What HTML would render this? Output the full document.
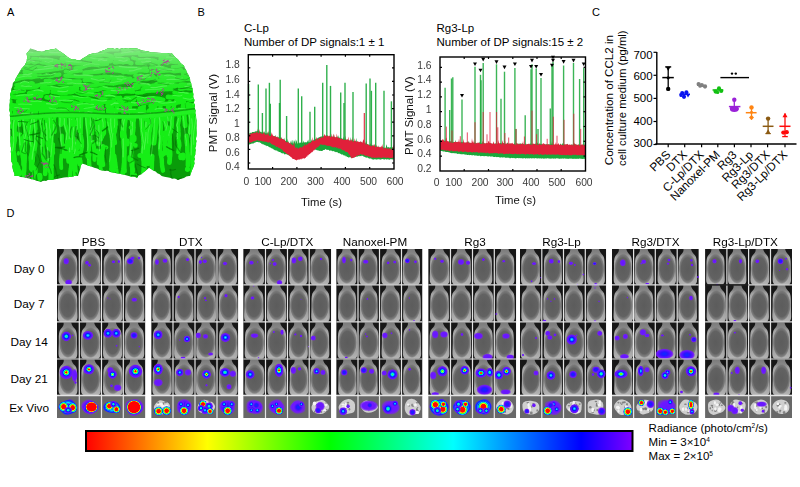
<!DOCTYPE html><html><head><meta charset="utf-8"><style>html,body{margin:0;padding:0;background:#fff;width:800px;height:487px;overflow:hidden}svg{display:block}text{font-family:"Liberation Sans",sans-serif}</style></head><body>
<svg width="800" height="487" viewBox="0 0 800 487">
<defs>
<linearGradient id="aTop" x1="0" x2="0" y1="0" y2="1"><stop offset="0.1" stop-color="#aeeaae" stop-opacity="0.8"/><stop offset="0.45" stop-color="#90e490" stop-opacity="0.45"/><stop offset="1" stop-color="#60e060" stop-opacity="0"/></linearGradient>
<radialGradient id="mb" cx="50%" cy="55%" r="60%">
<stop offset="0" stop-color="#707070"/><stop offset="0.55" stop-color="#808080"/><stop offset="0.85" stop-color="#a8a8a8"/><stop offset="1" stop-color="#c4c4c4"/>
</radialGradient>
<linearGradient id="cbar" x1="0" x2="1" y1="0" y2="0">
<stop offset="0" stop-color="#ff0000"/><stop offset="0.222" stop-color="#ffff00"/><stop offset="0.446" stop-color="#00ff00"/><stop offset="0.672" stop-color="#00ffff"/><stop offset="0.906" stop-color="#0000ff"/><stop offset="1" stop-color="#8000ff"/>
</linearGradient>
<radialGradient id="heat">
<stop offset="0" stop-color="#ff0000"/><stop offset="0.22" stop-color="#ffff00"/><stop offset="0.4" stop-color="#00ff00"/><stop offset="0.58" stop-color="#00ffff"/><stop offset="0.76" stop-color="#0000ff"/><stop offset="1" stop-color="#7000ff"/>
</radialGradient>
<radialGradient id="heat2">
<stop offset="0" stop-color="#00ff80"/><stop offset="0.3" stop-color="#00ffff"/><stop offset="0.6" stop-color="#0040ff"/><stop offset="1" stop-color="#7000ff"/>
</radialGradient>
<path id="mouse" d="M6 0 L16 0 C16 3 19 5 20 9 C21.5 14 21.5 24 21 30 C20.5 34 18 35.5 11 35.5 C4 35.5 1.5 34 1 30 C0.5 24 0.5 14 2 9 C3 5 6 3 6 0 Z"/>
</defs>
<text x="7" y="16" font-size="11" fill="#000" text-anchor="start" >A</text>
<text x="197.5" y="16" font-size="11" fill="#000" text-anchor="start" >B</text>
<text x="592" y="16" font-size="11" fill="#000" text-anchor="start" >C</text>
<text x="6.6" y="217.2" font-size="11" fill="#000" text-anchor="start" >D</text>
<path d="M30.5 48.5 Q32.7 49.8 35.2 50.0 Q37.4 51.5 40.0 51.5 Q42.9 52.4 45.3 50.5 Q48.1 50.6 50.7 49.6 Q53.5 49.7 56.0 48.6 Q57.7 50.7 60.3 51.5 Q62.8 53.3 65.3 55.1 Q67.5 57.4 70.4 58.7 Q72.8 59.9 75.5 59.4 Q77.8 60.9 80.5 60.0 Q82.6 58.5 84.8 57.2 Q87.0 56.0 89.0 54.4 Q91.7 53.6 94.5 53.0 Q97.6 53.4 100.0 51.5 Q104.4 50.8 108.0 48.3 Q110.2 48.1 112.5 48.3 Q114.8 49.9 117.0 48.3 Q119.2 49.8 121.5 48.3 Q123.8 49.2 126.0 48.3 Q128.2 49.2 130.5 48.3 Q132.8 48.3 135.0 48.3 Q137.7 48.7 140.3 49.7 Q142.8 51.0 145.7 51.0 Q148.4 51.5 151.0 52.4 Q153.6 52.6 156.2 52.6 Q158.9 52.9 161.5 52.9 Q164.1 52.8 166.8 53.1 Q169.3 53.9 172.0 53.4 Q174.6 56.8 178.0 59.5 Q180.1 63.5 184.0 65.7 Q184.4 68.1 186.0 69.8 Q186.2 72.3 188.0 73.9 Q188.4 76.2 190.0 78.0 Q189.7 80.8 191.2 83.2 Q191.2 85.9 192.4 88.3 Q192.7 91.3 193.4 94.2 Q192.4 97.4 194.5 100.0 Q193.2 102.7 195.0 105.1 Q194.0 107.8 195.5 110.2 Q194.7 112.9 196.0 115.4 Q196.0 118.0 196.5 120.5 Q196.4 123.1 196.5 125.6 Q196.3 128.2 196.5 130.8 Q196.7 133.3 196.5 135.9 Q195.3 138.4 196.5 141.0 Q195.8 143.2 196.1 145.5 Q194.6 147.7 195.7 150.0 Q195.1 152.3 195.3 154.6 Q193.6 156.7 194.9 159.1 Q193.4 161.2 194.5 163.6 Q193.7 166.8 192.2 169.8 Q191.0 172.9 190.0 176.0 Q186.5 175.6 184.0 178.0 Q180.8 178.4 178.0 180.0 Q175.6 177.8 172.5 178.7 Q169.9 177.6 167.1 177.3 Q164.3 176.8 161.6 176.0 Q160.0 173.9 157.4 173.3 Q155.9 170.9 153.2 170.5 Q151.2 169.0 149.0 167.8 Q147.1 169.6 145.0 171.2 Q142.8 172.6 141.0 174.6 Q138.0 175.1 137.0 178.0 Q134.5 176.2 131.5 176.7 Q128.7 176.1 126.0 175.3 Q123.3 174.5 120.5 174.0 Q117.9 173.6 115.4 173.0 Q112.8 172.7 110.2 172.0 Q107.9 170.3 105.1 171.0 Q102.6 170.5 100.0 170.0 Q97.3 168.2 94.2 167.8 Q91.4 166.3 88.3 165.7 Q85.2 164.6 82.0 163.6 Q80.0 166.4 80.0 169.8 Q79.0 172.9 78.0 176.0 Q75.2 175.4 72.5 176.7 Q69.8 177.1 67.1 177.3 Q64.3 177.2 61.6 178.0 Q59.0 178.4 56.5 179.0 Q53.8 179.3 51.3 180.0 Q48.4 179.0 46.1 181.0 Q43.3 180.3 41.0 182.0 Q38.7 181.1 36.2 180.7 Q34.2 178.7 31.5 179.3 Q29.1 178.6 26.7 178.0 Q23.7 177.1 20.6 177.0 Q17.7 175.2 14.4 176.0 Q14.8 173.4 13.4 171.2 Q12.7 168.8 12.3 166.4 Q13.4 163.7 11.3 161.6 Q11.3 159.0 11.1 156.4 Q11.1 153.9 10.8 151.3 Q11.8 148.7 10.6 146.2 Q10.7 143.6 10.3 141.0 Q10.6 138.4 10.3 135.9 Q10.1 133.3 10.3 130.8 Q10.2 128.2 10.3 125.6 Q11.1 123.1 10.3 120.5 Q10.2 117.9 9.8 115.2 Q10.4 112.5 9.3 110.0 Q9.8 107.5 9.5 104.9 Q10.2 102.3 9.8 99.7 Q11.4 97.2 10.0 94.6 Q11.3 91.9 11.4 88.8 Q12.9 86.1 12.9 83.0 Q15.5 81.3 15.8 78.2 Q17.2 75.9 18.6 73.5 Q20.1 71.1 21.5 68.7 Q25.2 65.9 26.6 61.5 Q27.9 57.5 26.6 53.6 Q28.7 51.2 30.5 48.5Z" fill="#0a9c0a"/>
<clipPath id="clipA"><path d="M30.5 48.5 Q32.7 49.8 35.2 50.0 Q37.4 51.5 40.0 51.5 Q42.9 52.4 45.3 50.5 Q48.1 50.6 50.7 49.6 Q53.5 49.7 56.0 48.6 Q57.7 50.7 60.3 51.5 Q62.8 53.3 65.3 55.1 Q67.5 57.4 70.4 58.7 Q72.8 59.9 75.5 59.4 Q77.8 60.9 80.5 60.0 Q82.6 58.5 84.8 57.2 Q87.0 56.0 89.0 54.4 Q91.7 53.6 94.5 53.0 Q97.6 53.4 100.0 51.5 Q104.4 50.8 108.0 48.3 Q110.2 48.1 112.5 48.3 Q114.8 49.9 117.0 48.3 Q119.2 49.8 121.5 48.3 Q123.8 49.2 126.0 48.3 Q128.2 49.2 130.5 48.3 Q132.8 48.3 135.0 48.3 Q137.7 48.7 140.3 49.7 Q142.8 51.0 145.7 51.0 Q148.4 51.5 151.0 52.4 Q153.6 52.6 156.2 52.6 Q158.9 52.9 161.5 52.9 Q164.1 52.8 166.8 53.1 Q169.3 53.9 172.0 53.4 Q174.6 56.8 178.0 59.5 Q180.1 63.5 184.0 65.7 Q184.4 68.1 186.0 69.8 Q186.2 72.3 188.0 73.9 Q188.4 76.2 190.0 78.0 Q189.7 80.8 191.2 83.2 Q191.2 85.9 192.4 88.3 Q192.7 91.3 193.4 94.2 Q192.4 97.4 194.5 100.0 Q193.2 102.7 195.0 105.1 Q194.0 107.8 195.5 110.2 Q194.7 112.9 196.0 115.4 Q196.0 118.0 196.5 120.5 Q196.4 123.1 196.5 125.6 Q196.3 128.2 196.5 130.8 Q196.7 133.3 196.5 135.9 Q195.3 138.4 196.5 141.0 Q195.8 143.2 196.1 145.5 Q194.6 147.7 195.7 150.0 Q195.1 152.3 195.3 154.6 Q193.6 156.7 194.9 159.1 Q193.4 161.2 194.5 163.6 Q193.7 166.8 192.2 169.8 Q191.0 172.9 190.0 176.0 Q186.5 175.6 184.0 178.0 Q180.8 178.4 178.0 180.0 Q175.6 177.8 172.5 178.7 Q169.9 177.6 167.1 177.3 Q164.3 176.8 161.6 176.0 Q160.0 173.9 157.4 173.3 Q155.9 170.9 153.2 170.5 Q151.2 169.0 149.0 167.8 Q147.1 169.6 145.0 171.2 Q142.8 172.6 141.0 174.6 Q138.0 175.1 137.0 178.0 Q134.5 176.2 131.5 176.7 Q128.7 176.1 126.0 175.3 Q123.3 174.5 120.5 174.0 Q117.9 173.6 115.4 173.0 Q112.8 172.7 110.2 172.0 Q107.9 170.3 105.1 171.0 Q102.6 170.5 100.0 170.0 Q97.3 168.2 94.2 167.8 Q91.4 166.3 88.3 165.7 Q85.2 164.6 82.0 163.6 Q80.0 166.4 80.0 169.8 Q79.0 172.9 78.0 176.0 Q75.2 175.4 72.5 176.7 Q69.8 177.1 67.1 177.3 Q64.3 177.2 61.6 178.0 Q59.0 178.4 56.5 179.0 Q53.8 179.3 51.3 180.0 Q48.4 179.0 46.1 181.0 Q43.3 180.3 41.0 182.0 Q38.7 181.1 36.2 180.7 Q34.2 178.7 31.5 179.3 Q29.1 178.6 26.7 178.0 Q23.7 177.1 20.6 177.0 Q17.7 175.2 14.4 176.0 Q14.8 173.4 13.4 171.2 Q12.7 168.8 12.3 166.4 Q13.4 163.7 11.3 161.6 Q11.3 159.0 11.1 156.4 Q11.1 153.9 10.8 151.3 Q11.8 148.7 10.6 146.2 Q10.7 143.6 10.3 141.0 Q10.6 138.4 10.3 135.9 Q10.1 133.3 10.3 130.8 Q10.2 128.2 10.3 125.6 Q11.1 123.1 10.3 120.5 Q10.2 117.9 9.8 115.2 Q10.4 112.5 9.3 110.0 Q9.8 107.5 9.5 104.9 Q10.2 102.3 9.8 99.7 Q11.4 97.2 10.0 94.6 Q11.3 91.9 11.4 88.8 Q12.9 86.1 12.9 83.0 Q15.5 81.3 15.8 78.2 Q17.2 75.9 18.6 73.5 Q20.1 71.1 21.5 68.7 Q25.2 65.9 26.6 61.5 Q27.9 57.5 26.6 53.6 Q28.7 51.2 30.5 48.5Z"/></clipPath>
<g clip-path="url(#clipA)">
<filter id="ablur" x="-5%" y="-5%" width="110%" height="110%"><feGaussianBlur stdDeviation="0.55"/></filter>
<g filter="url(#ablur)">
<path d="M5.0 103.9 Q4.8 108.5 6.4 112.8 Q7.2 117.5 6.3 121.7" fill="none" stroke="#16ee16" stroke-width="4.5" stroke-linecap="round" opacity="1"/>
<path d="M5.8 130.7 Q5.7 135.3 7.2 139.6 Q5.9 143.5 6.4 148.5 Q7.1 152.2 7.7 157.4" fill="none" stroke="#16ee16" stroke-width="4.5" stroke-linecap="round" opacity="1"/>
<path d="M5.3 112.8 Q5.3 117.4 5.2 121.7 Q5.1 126.6 4.7 130.7 Q4.6 135.3 6.1 139.6" fill="none" stroke="#86ff86" stroke-width="1.0" stroke-linecap="round" opacity="0.45"/>
<path d="M10.3 101.2 Q9.7 107.7 10.1 113.9 Q10.3 121.0 10.4 126.7" fill="none" stroke="#16ee16" stroke-width="4.6" stroke-linecap="round" opacity="1"/>
<path d="M11.1 139.4 Q10.3 146.7 10.5 152.1 Q10.3 158.4 11.7 164.9 Q11.6 170.6 10.5 177.6" fill="none" stroke="#16ee16" stroke-width="4.7" stroke-linecap="round" opacity="1"/>
<path d="M9.0 113.9 Q8.2 120.6 9.3 126.7 Q10.1 133.2 10.0 139.4 Q10.4 145.4 9.4 152.1" fill="none" stroke="#86ff86" stroke-width="1.0" stroke-linecap="round" opacity="0.45"/>
<path d="M15.5 107.1 Q15.1 112.4 15.6 118.1 Q15.4 122.6 14.4 129.0 Q14.5 133.9 14.8 140.0 Q13.3 144.6 13.3 151.0 Q14.5 155.7 14.7 161.9 Q14.1 167.2 14.5 172.9" fill="none" stroke="#16ee16" stroke-width="4.8" stroke-linecap="round" opacity="1"/>
<path d="M14.5 118.1 Q13.1 123.5 13.3 129.0 Q13.6 135.3 13.7 140.0 Q13.6 146.2 12.2 151.0" fill="none" stroke="#86ff86" stroke-width="1.2" stroke-linecap="round" opacity="0.45"/>
<path d="M19.9 105.0 Q19.4 110.2 18.7 115.0 Q18.8 119.2 19.6 125.0" fill="none" stroke="#16ee16" stroke-width="4.0" stroke-linecap="round" opacity="1"/>
<path d="M20.5 134.9 Q21.7 140.3 21.2 144.9 Q22.4 149.8 22.6 154.9 Q23.9 160.8 23.6 164.9" fill="none" stroke="#16ee16" stroke-width="4.8" stroke-linecap="round" opacity="1"/>
<path d="M17.6 115.0 Q18.2 119.8 18.5 125.0 Q18.7 129.9 19.4 134.9 Q19.5 139.3 20.1 144.9" fill="none" stroke="#86ff86" stroke-width="1.1" stroke-linecap="round" opacity="0.45"/>
<path d="M22.8 105.3 Q24.4 109.7 24.1 113.7 Q24.2 117.2 24.3 122.2 Q24.8 127.4 25.5 130.6 Q25.1 134.5 24.9 139.1 Q23.6 143.8 23.8 147.5 Q24.5 151.7 24.3 156.0" fill="none" stroke="#16ee16" stroke-width="4.6" stroke-linecap="round" opacity="1"/>
<path d="M23.0 113.7 Q23.1 117.4 23.2 122.2 Q24.7 126.1 24.4 130.6 Q24.4 135.7 23.8 139.1" fill="none" stroke="#86ff86" stroke-width="1.1" stroke-linecap="round" opacity="0.45"/>
<path d="M29.3 103.6 Q29.1 110.1 27.7 115.5 Q27.2 120.9 27.8 127.4 Q26.6 134.0 25.7 139.4 Q24.5 145.3 24.5 151.3 Q25.0 158.2 24.5 163.2 Q24.6 169.1 23.6 175.1" fill="none" stroke="#16ee16" stroke-width="4.5" stroke-linecap="round" opacity="1"/>
<path d="M26.6 115.5 Q26.9 121.2 26.7 127.4 Q26.3 133.8 24.6 139.4 Q23.7 146.3 23.4 151.3" fill="none" stroke="#86ff86" stroke-width="0.9" stroke-linecap="round" opacity="0.45"/>
<path d="M32.3 101.2 Q32.6 107.3 33.2 112.5 Q32.0 118.9 32.0 123.8 Q31.0 129.7 30.2 135.1 Q30.3 141.6 32.1 146.4 Q31.7 151.9 30.4 157.6 Q31.1 162.5 30.8 168.9" fill="none" stroke="#16ee16" stroke-width="3.9" stroke-linecap="round" opacity="1"/>
<path d="M32.1 112.5 Q32.5 117.2 30.9 123.8 Q30.2 129.4 29.1 135.1 Q30.4 140.9 31.0 146.4" fill="none" stroke="#86ff86" stroke-width="0.9" stroke-linecap="round" opacity="0.45"/>
<path d="M37.0 105.7 Q36.8 111.4 35.1 119.0 Q35.1 125.7 36.2 132.4 Q36.3 138.7 35.4 145.7 Q34.4 153.1 33.2 159.1 Q32.7 166.2 34.1 172.4 Q33.8 179.4 31.9 185.7" fill="none" stroke="#16ee16" stroke-width="4.0" stroke-linecap="round" opacity="1"/>
<path d="M34.0 119.0 Q34.6 126.4 35.1 132.4 Q35.5 138.3 34.3 145.7 Q32.5 152.4 32.1 159.1" fill="none" stroke="#86ff86" stroke-width="1.2" stroke-linecap="round" opacity="0.45"/>
<path d="M40.9 109.3 Q41.9 113.8 41.4 120.1 Q41.7 124.5 43.1 130.8 Q42.0 136.1 42.5 141.6 Q41.8 147.8 42.9 152.4 Q43.0 157.4 44.9 163.1 Q46.0 168.7 45.1 173.9" fill="none" stroke="#16ee16" stroke-width="4.7" stroke-linecap="round" opacity="1"/>
<path d="M40.3 120.1 Q40.7 125.5 42.0 130.8 Q42.3 136.2 41.4 141.6 Q41.1 147.0 41.8 152.4" fill="none" stroke="#86ff86" stroke-width="0.9" stroke-linecap="round" opacity="0.45"/>
<path d="M45.9 111.1 Q47.4 116.6 47.3 123.5 Q48.0 130.0 48.0 135.8 Q47.6 142.8 48.7 148.2" fill="none" stroke="#16ee16" stroke-width="4.7" stroke-linecap="round" opacity="1"/>
<path d="M49.3 160.5 Q49.6 167.6 50.9 172.9 Q50.8 179.0 51.1 185.2" fill="none" stroke="#16ee16" stroke-width="5.0" stroke-linecap="round" opacity="1"/>
<path d="M46.2 123.5 Q47.2 129.0 46.9 135.8 Q47.1 142.0 47.6 148.2 Q47.6 153.7 48.2 160.5" fill="none" stroke="#86ff86" stroke-width="1.3" stroke-linecap="round" opacity="0.45"/>
<path d="M50.6 108.7 Q49.4 111.9 49.7 116.0 Q49.2 120.2 50.6 123.3 Q50.5 126.3 51.4 130.7 Q51.2 135.2 51.2 138.0 Q51.4 141.2 50.3 145.4 Q50.7 149.9 52.6 152.7" fill="none" stroke="#16ee16" stroke-width="5.0" stroke-linecap="round" opacity="1"/>
<path d="M48.6 116.0 Q49.5 118.9 49.5 123.3 Q49.0 127.4 50.3 130.7 Q50.1 133.5 50.1 138.0" fill="none" stroke="#86ff86" stroke-width="1.1" stroke-linecap="round" opacity="0.45"/>
<path d="M56.6 107.6 Q55.6 114.6 53.8 119.8 Q55.3 125.4 54.9 132.0" fill="none" stroke="#16ee16" stroke-width="3.9" stroke-linecap="round" opacity="1"/>
<path d="M53.1 144.2 Q53.4 150.6 52.0 156.4 Q51.9 162.0 51.7 168.7 Q51.6 175.1 51.7 180.9" fill="none" stroke="#16ee16" stroke-width="4.0" stroke-linecap="round" opacity="1"/>
<path d="M52.7 119.8 Q53.9 126.9 53.8 132.0 Q52.0 137.2 52.0 144.2 Q51.5 151.3 50.9 156.4" fill="none" stroke="#86ff86" stroke-width="0.9" stroke-linecap="round" opacity="0.45"/>
<path d="M60.5 102.9 Q61.1 108.6 60.8 113.8 Q60.6 118.9 60.9 124.7" fill="none" stroke="#16ee16" stroke-width="4.8" stroke-linecap="round" opacity="1"/>
<path d="M62.0 135.5 Q61.5 140.1 62.5 146.4 Q62.4 151.3 61.2 157.2 Q60.6 161.8 61.3 168.1" fill="none" stroke="#16ee16" stroke-width="3.9" stroke-linecap="round" opacity="1"/>
<path d="M59.7 113.8 Q60.5 119.6 59.8 124.7 Q59.9 129.6 60.9 135.5 Q60.7 140.9 61.4 146.4" fill="none" stroke="#86ff86" stroke-width="1.2" stroke-linecap="round" opacity="0.45"/>
<path d="M65.2 105.3 Q65.2 109.4 65.1 114.7 Q65.3 118.4 65.3 124.1 Q66.2 127.9 68.0 133.4 Q67.5 137.2 67.3 142.8 Q66.9 147.1 68.4 152.1 Q67.9 157.0 68.5 161.5" fill="none" stroke="#16ee16" stroke-width="4.4" stroke-linecap="round" opacity="1"/>
<path d="M64.0 114.7 Q64.6 119.7 64.2 124.1 Q66.0 129.5 66.9 133.4 Q66.4 137.7 66.2 142.8" fill="none" stroke="#86ff86" stroke-width="1.1" stroke-linecap="round" opacity="0.45"/>
<path d="M68.0 101.8 Q69.8 108.8 70.2 114.5 Q71.0 121.0 70.6 127.2 Q71.2 133.9 70.3 139.9 Q70.9 145.7 70.8 152.6 Q70.1 158.3 71.3 165.4 Q70.3 170.9 69.9 178.1" fill="none" stroke="#16ee16" stroke-width="4.4" stroke-linecap="round" opacity="1"/>
<path d="M69.1 114.5 Q69.4 121.1 69.5 127.2 Q69.6 133.9 69.2 139.9 Q69.4 145.3 69.7 152.6" fill="none" stroke="#86ff86" stroke-width="1.2" stroke-linecap="round" opacity="0.45"/>
<path d="M74.2 109.0 Q73.5 114.8 72.9 119.2 Q72.9 125.1 74.6 129.4 Q73.6 133.5 73.5 139.5 Q73.6 144.0 73.1 149.7" fill="none" stroke="#16ee16" stroke-width="4.6" stroke-linecap="round" opacity="1"/>
<path d="M73.6 159.9 Q73.9 165.3 74.8 170.1" fill="none" stroke="#16ee16" stroke-width="4.5" stroke-linecap="round" opacity="1"/>
<path d="M71.8 119.2 Q72.9 123.5 73.5 129.4 Q72.9 134.4 72.4 139.5 Q73.1 143.8 72.0 149.7" fill="none" stroke="#86ff86" stroke-width="1.1" stroke-linecap="round" opacity="0.45"/>
<path d="M77.8 105.9 Q78.9 111.7 78.1 117.8 Q77.7 123.2 78.2 129.8" fill="none" stroke="#16ee16" stroke-width="4.8" stroke-linecap="round" opacity="1"/>
<path d="M76.7 141.7 Q75.7 147.8 75.7 153.6 Q74.5 159.7 74.8 165.6 Q75.9 170.8 75.3 177.5" fill="none" stroke="#16ee16" stroke-width="4.9" stroke-linecap="round" opacity="1"/>
<path d="M77.0 117.8 Q77.1 124.6 77.1 129.8 Q76.8 135.2 75.6 141.7 Q75.9 147.6 74.6 153.6" fill="none" stroke="#86ff86" stroke-width="1.2" stroke-linecap="round" opacity="0.45"/>
<path d="M81.3 100.0 Q81.9 106.3 80.8 111.7 Q81.8 117.0 81.2 123.3 Q80.8 128.9 81.0 134.9 Q82.6 140.9 82.2 146.5 Q80.8 152.1 80.1 158.1 Q80.5 163.0 81.8 169.7" fill="none" stroke="#16ee16" stroke-width="3.9" stroke-linecap="round" opacity="1"/>
<path d="M79.7 111.7 Q80.5 117.0 80.1 123.3 Q80.9 128.6 79.9 134.9 Q80.0 140.7 81.1 146.5" fill="none" stroke="#86ff86" stroke-width="0.9" stroke-linecap="round" opacity="0.45"/>
<path d="M86.5 104.5 Q87.2 111.6 86.9 118.1 Q87.1 124.1 88.3 131.8 Q89.6 137.9 89.1 145.5 Q89.0 152.0 89.0 159.1 Q89.1 166.4 90.1 172.8 Q90.7 179.1 89.3 186.4" fill="none" stroke="#16ee16" stroke-width="4.3" stroke-linecap="round" opacity="1"/>
<path d="M85.8 118.1 Q86.1 125.1 87.2 131.8 Q87.4 138.0 88.0 145.5 Q87.3 151.7 87.9 159.1" fill="none" stroke="#86ff86" stroke-width="1.1" stroke-linecap="round" opacity="0.45"/>
<path d="M91.8 106.0 Q91.0 109.5 91.3 115.0 Q92.1 119.2 91.4 124.0 Q92.4 127.9 92.4 132.9" fill="none" stroke="#16ee16" stroke-width="4.8" stroke-linecap="round" opacity="1"/>
<path d="M92.9 141.9 Q94.1 146.4 94.3 150.9 Q94.6 155.1 94.5 159.9" fill="none" stroke="#16ee16" stroke-width="4.1" stroke-linecap="round" opacity="1"/>
<path d="M90.2 115.0 Q90.3 120.0 90.3 124.0 Q91.5 127.6 91.3 132.9 Q92.3 137.2 91.8 141.9" fill="none" stroke="#86ff86" stroke-width="1.1" stroke-linecap="round" opacity="0.45"/>
<path d="M96.4 105.2 Q96.6 109.5 95.0 114.9 Q94.9 119.0 96.3 124.5 Q97.1 129.7 97.7 134.2 Q99.0 139.5 98.5 143.9" fill="none" stroke="#16ee16" stroke-width="4.8" stroke-linecap="round" opacity="1"/>
<path d="M99.5 153.6 Q99.8 158.3 99.0 163.2" fill="none" stroke="#16ee16" stroke-width="4.6" stroke-linecap="round" opacity="1"/>
<path d="M93.9 114.9 Q93.6 120.3 95.2 124.5 Q95.4 130.2 96.6 134.2 Q97.3 138.7 97.4 143.9" fill="none" stroke="#86ff86" stroke-width="1.1" stroke-linecap="round" opacity="0.45"/>
<path d="M98.3 103.0 Q98.0 108.6 98.5 115.0 Q100.0 120.5 100.0 127.0 Q100.4 133.1 100.6 139.0" fill="none" stroke="#16ee16" stroke-width="5.0" stroke-linecap="round" opacity="1"/>
<path d="M100.5 150.9 Q100.3 157.2 100.5 162.9 Q100.3 168.3 101.8 174.9" fill="none" stroke="#16ee16" stroke-width="3.8" stroke-linecap="round" opacity="1"/>
<path d="M97.4 115.0 Q98.5 120.2 98.9 127.0 Q98.7 132.8 99.5 139.0 Q99.2 144.9 99.4 150.9" fill="none" stroke="#86ff86" stroke-width="1.2" stroke-linecap="round" opacity="0.45"/>
<path d="M102.6 108.6 Q103.4 112.9 103.1 118.0 Q104.6 122.7 104.2 127.4 Q102.6 131.6 102.2 136.8" fill="none" stroke="#16ee16" stroke-width="4.1" stroke-linecap="round" opacity="1"/>
<path d="M103.0 146.2 Q102.9 151.8 102.1 155.6 Q101.9 160.1 103.2 165.0" fill="none" stroke="#16ee16" stroke-width="4.3" stroke-linecap="round" opacity="1"/>
<path d="M102.0 118.0 Q103.5 122.0 103.1 127.4 Q101.2 131.3 101.1 136.8 Q101.3 142.3 101.9 146.2" fill="none" stroke="#86ff86" stroke-width="0.9" stroke-linecap="round" opacity="0.45"/>
<path d="M108.3 108.8 Q107.9 114.4 108.8 122.0 Q109.7 128.3 111.5 135.2 Q112.6 141.0 111.9 148.4 Q112.4 154.4 111.0 161.5 Q111.9 168.8 113.4 174.7 Q114.1 181.2 113.6 187.9" fill="none" stroke="#16ee16" stroke-width="4.2" stroke-linecap="round" opacity="1"/>
<path d="M107.7 122.0 Q109.0 128.3 110.4 135.2 Q111.4 141.1 110.8 148.4 Q110.1 155.7 109.9 161.5" fill="none" stroke="#86ff86" stroke-width="0.8" stroke-linecap="round" opacity="0.45"/>
<path d="M111.4 104.9 Q112.6 110.4 111.9 117.6 Q112.7 124.4 112.5 130.4 Q114.7 136.3 115.1 143.1" fill="none" stroke="#16ee16" stroke-width="4.2" stroke-linecap="round" opacity="1"/>
<path d="M114.1 155.8 Q115.1 162.8 115.8 168.5 Q117.1 174.0 116.7 181.2" fill="none" stroke="#16ee16" stroke-width="4.7" stroke-linecap="round" opacity="1"/>
<path d="M110.8 117.6 Q110.3 124.4 111.4 130.4 Q112.7 137.3 114.0 143.1 Q114.1 150.3 113.0 155.8" fill="none" stroke="#86ff86" stroke-width="1.2" stroke-linecap="round" opacity="0.45"/>
<path d="M118.3 101.6 Q117.1 107.1 115.8 113.0 Q115.1 118.5 115.8 124.4 Q114.9 130.0 113.5 135.7 Q113.2 140.7 112.7 147.1 Q112.8 152.0 113.2 158.5 Q111.4 164.4 111.3 169.9" fill="none" stroke="#16ee16" stroke-width="4.5" stroke-linecap="round" opacity="1"/>
<path d="M114.7 113.0 Q114.6 119.6 114.7 124.4 Q114.5 129.4 112.4 135.7 Q111.3 141.3 111.6 147.1" fill="none" stroke="#86ff86" stroke-width="0.9" stroke-linecap="round" opacity="0.45"/>
<path d="M122.8 102.8 Q122.6 108.1 123.4 114.2 Q123.9 119.3 122.8 125.7 Q122.1 130.9 123.3 137.1 Q123.0 142.9 123.8 148.5 Q124.4 153.4 124.3 160.0 Q124.5 164.7 124.9 171.4" fill="none" stroke="#16ee16" stroke-width="4.0" stroke-linecap="round" opacity="1"/>
<path d="M122.3 114.2 Q122.7 119.4 121.7 125.7 Q121.8 131.1 122.2 137.1 Q123.2 142.3 122.7 148.5" fill="none" stroke="#86ff86" stroke-width="0.8" stroke-linecap="round" opacity="0.45"/>
<path d="M125.0 107.2 Q124.9 112.5 125.4 119.6 Q124.4 124.9 124.0 132.1 Q125.2 137.4 124.4 144.5 Q124.8 151.6 124.2 156.9 Q124.4 163.8 123.4 169.4 Q122.1 175.3 121.2 181.8" fill="none" stroke="#16ee16" stroke-width="4.7" stroke-linecap="round" opacity="1"/>
<path d="M124.3 119.6 Q122.8 124.9 122.9 132.1 Q123.1 138.3 123.3 144.5 Q123.1 151.3 123.1 156.9" fill="none" stroke="#86ff86" stroke-width="1.1" stroke-linecap="round" opacity="0.45"/>
<path d="M130.4 101.9 Q129.4 108.2 130.4 113.4 Q132.0 119.5 132.4 125.0 Q132.0 130.6 131.9 136.5 Q132.7 142.2 131.6 148.1 Q130.7 153.1 131.1 159.7 Q131.2 165.6 133.0 171.2" fill="none" stroke="#16ee16" stroke-width="4.3" stroke-linecap="round" opacity="1"/>
<path d="M129.3 113.4 Q130.8 118.5 131.3 125.0 Q130.2 130.0 130.8 136.5 Q131.3 142.1 130.5 148.1" fill="none" stroke="#86ff86" stroke-width="1.0" stroke-linecap="round" opacity="0.45"/>
<path d="M134.7 111.1 Q134.9 115.8 133.6 122.4 Q134.1 127.6 133.0 133.6 Q132.8 139.5 132.1 144.8 Q131.3 150.9 132.2 156.1 Q132.7 162.5 132.4 167.3 Q132.4 173.6 131.9 178.5" fill="none" stroke="#16ee16" stroke-width="4.2" stroke-linecap="round" opacity="1"/>
<path d="M132.5 122.4 Q132.5 127.4 131.9 133.6 Q131.4 139.3 131.0 144.8 Q130.1 151.3 131.1 156.1" fill="none" stroke="#86ff86" stroke-width="1.1" stroke-linecap="round" opacity="0.45"/>
<path d="M139.9 104.3 Q140.3 109.3 139.3 113.2 Q140.9 117.2 141.9 122.0 Q141.8 126.2 142.7 130.8 Q142.7 135.3 143.3 139.7 Q143.1 143.1 144.2 148.5 Q145.2 152.9 144.3 157.4" fill="none" stroke="#16ee16" stroke-width="4.3" stroke-linecap="round" opacity="1"/>
<path d="M138.2 113.2 Q139.7 118.2 140.8 122.0 Q141.9 127.0 141.6 130.8 Q141.7 134.4 142.2 139.7" fill="none" stroke="#86ff86" stroke-width="1.0" stroke-linecap="round" opacity="0.45"/>
<path d="M143.7 104.4 Q143.3 111.3 142.2 117.1 Q141.4 122.6 142.5 129.9 Q143.6 136.6 144.4 142.6 Q142.9 148.3 142.9 155.4 Q144.2 161.3 143.9 168.1 Q143.8 175.1 142.4 180.9" fill="none" stroke="#16ee16" stroke-width="4.9" stroke-linecap="round" opacity="1"/>
<path d="M141.1 117.1 Q141.7 123.0 141.4 129.9 Q143.0 136.5 143.3 142.6 Q142.0 148.7 141.8 155.4" fill="none" stroke="#86ff86" stroke-width="1.1" stroke-linecap="round" opacity="0.45"/>
<path d="M149.0 110.9 Q147.7 115.3 147.3 120.5 Q147.0 125.8 147.1 130.1 Q146.4 135.4 146.7 139.6 Q145.1 145.2 145.3 149.2 Q146.1 153.9 145.1 158.8 Q144.7 164.0 144.2 168.4" fill="none" stroke="#16ee16" stroke-width="4.6" stroke-linecap="round" opacity="1"/>
<path d="M146.2 120.5 Q145.6 125.3 146.0 130.1 Q146.5 135.3 145.6 139.6 Q144.6 144.2 144.2 149.2" fill="none" stroke="#86ff86" stroke-width="1.2" stroke-linecap="round" opacity="0.45"/>
<path d="M151.5 101.8 Q152.3 107.4 151.5 112.1 Q152.0 116.7 151.5 122.5 Q149.9 127.9 149.1 132.8 Q148.8 137.7 148.8 143.2 Q147.2 148.3 147.5 153.6 Q148.1 157.8 148.2 163.9" fill="none" stroke="#16ee16" stroke-width="4.9" stroke-linecap="round" opacity="1"/>
<path d="M150.4 112.1 Q150.6 116.9 150.4 122.5 Q149.3 127.7 148.0 132.8 Q147.7 137.6 147.7 143.2" fill="none" stroke="#86ff86" stroke-width="0.8" stroke-linecap="round" opacity="0.45"/>
<path d="M154.9 104.4 Q154.6 111.5 156.1 117.3 Q156.4 123.9 155.2 130.2 Q154.7 136.9 153.9 143.1" fill="none" stroke="#16ee16" stroke-width="5.0" stroke-linecap="round" opacity="1"/>
<path d="M152.3 156.0 Q152.0 161.8 151.8 168.9 Q151.1 174.5 152.4 181.8" fill="none" stroke="#16ee16" stroke-width="4.4" stroke-linecap="round" opacity="1"/>
<path d="M155.0 117.3 Q153.9 123.1 154.1 130.2 Q154.3 135.9 152.8 143.1 Q152.2 149.9 151.2 156.0" fill="none" stroke="#86ff86" stroke-width="0.8" stroke-linecap="round" opacity="0.45"/>
<path d="M160.5 105.0 Q160.4 110.2 160.2 115.9 Q160.4 122.2 160.9 126.9 Q160.1 132.6 161.0 137.8 Q159.9 144.3 160.2 148.8 Q160.5 154.5 161.8 159.7 Q161.7 166.0 163.0 170.7" fill="none" stroke="#16ee16" stroke-width="4.4" stroke-linecap="round" opacity="1"/>
<path d="M159.1 115.9 Q160.3 120.9 159.8 126.9 Q159.0 132.6 159.9 137.8 Q159.8 143.7 159.1 148.8" fill="none" stroke="#86ff86" stroke-width="1.3" stroke-linecap="round" opacity="0.45"/>
<path d="M165.9 111.7 Q165.2 116.1 164.9 120.2 Q165.6 125.1 166.7 128.7 Q167.6 133.9 166.8 137.2" fill="none" stroke="#16ee16" stroke-width="4.0" stroke-linecap="round" opacity="1"/>
<path d="M169.4 145.6 Q169.8 149.8 170.1 154.1 Q169.8 157.4 169.4 162.6" fill="none" stroke="#16ee16" stroke-width="4.8" stroke-linecap="round" opacity="1"/>
<path d="M163.8 120.2 Q165.6 123.9 165.6 128.7 Q166.4 133.5 165.7 137.2 Q166.8 141.6 168.3 145.6" fill="none" stroke="#86ff86" stroke-width="0.8" stroke-linecap="round" opacity="0.45"/>
<path d="M169.8 102.1 Q168.0 106.5 167.9 110.6 Q168.2 115.5 169.1 119.1" fill="none" stroke="#16ee16" stroke-width="4.7" stroke-linecap="round" opacity="1"/>
<path d="M167.6 127.6 Q167.2 131.0 165.2 136.1 Q165.7 141.2 164.7 144.7 Q165.8 148.1 165.2 153.2" fill="none" stroke="#16ee16" stroke-width="4.8" stroke-linecap="round" opacity="1"/>
<path d="M166.8 110.6 Q166.6 113.9 168.0 119.1 Q167.9 124.0 166.5 127.6 Q165.6 132.5 164.1 136.1" fill="none" stroke="#86ff86" stroke-width="0.9" stroke-linecap="round" opacity="0.45"/>
<path d="M174.7 103.4 Q173.2 108.7 172.5 112.1 Q172.3 117.2 172.0 120.8 Q172.0 124.2 171.4 129.5 Q170.4 133.7 169.7 138.2 Q170.1 142.3 169.4 146.9 Q169.5 151.3 168.7 155.6" fill="none" stroke="#16ee16" stroke-width="4.2" stroke-linecap="round" opacity="1"/>
<path d="M171.4 112.1 Q171.9 115.7 170.9 120.8 Q171.3 124.5 170.3 129.5 Q168.5 133.3 168.6 138.2" fill="none" stroke="#86ff86" stroke-width="0.9" stroke-linecap="round" opacity="0.45"/>
<path d="M178.7 111.7 Q178.5 115.5 179.4 118.5 Q178.7 121.1 178.0 125.2 Q178.6 127.7 178.7 131.9 Q179.1 135.7 178.3 138.7 Q179.5 142.3 179.5 145.4 Q178.5 148.6 178.1 152.2" fill="none" stroke="#16ee16" stroke-width="4.1" stroke-linecap="round" opacity="1"/>
<path d="M178.3 118.5 Q178.4 121.0 176.9 125.2 Q178.0 127.6 177.6 131.9 Q176.8 134.8 177.2 138.7" fill="none" stroke="#86ff86" stroke-width="1.0" stroke-linecap="round" opacity="0.45"/>
<path d="M183.0 106.0 Q183.6 111.1 184.3 116.0 Q184.4 120.9 185.2 125.9" fill="none" stroke="#16ee16" stroke-width="4.8" stroke-linecap="round" opacity="1"/>
<path d="M186.5 135.8 Q186.4 140.3 187.3 145.8 Q187.2 151.0 187.8 155.7 Q188.2 160.7 187.9 165.7" fill="none" stroke="#16ee16" stroke-width="4.6" stroke-linecap="round" opacity="1"/>
<path d="M183.2 116.0 Q184.2 121.6 184.1 125.9 Q185.0 131.3 185.4 135.8 Q186.8 141.3 186.2 145.8" fill="none" stroke="#86ff86" stroke-width="0.9" stroke-linecap="round" opacity="0.45"/>
<path d="M187.6 104.2 Q188.7 108.3 190.2 113.6 Q190.9 117.5 191.2 123.0 Q190.0 127.4 190.1 132.3" fill="none" stroke="#16ee16" stroke-width="4.7" stroke-linecap="round" opacity="1"/>
<path d="M192.2 141.7 Q191.9 147.0 192.0 151.1 Q192.8 155.8 192.8 160.5" fill="none" stroke="#16ee16" stroke-width="3.8" stroke-linecap="round" opacity="1"/>
<path d="M189.1 113.6 Q189.5 117.5 190.1 123.0 Q189.7 127.5 189.0 132.3 Q190.5 137.9 191.1 141.7" fill="none" stroke="#86ff86" stroke-width="1.1" stroke-linecap="round" opacity="0.45"/>
<path d="M191.8 106.9 Q192.0 113.2 192.8 118.9 Q192.2 124.7 193.1 130.9 Q193.4 137.3 192.7 142.9 Q192.7 148.4 192.3 154.9 Q192.3 160.9 192.5 167.0 Q192.5 172.8 192.0 179.0" fill="none" stroke="#16ee16" stroke-width="4.3" stroke-linecap="round" opacity="1"/>
<path d="M191.7 118.9 Q192.7 124.3 192.0 130.9 Q192.1 137.5 191.6 142.9 Q191.2 148.9 191.2 154.9" fill="none" stroke="#86ff86" stroke-width="1.1" stroke-linecap="round" opacity="0.45"/>
<path d="M198.1 100.5 Q198.6 106.4 197.8 112.3 Q196.8 119.1 196.1 124.2 Q194.7 130.5 194.5 136.0 Q194.5 142.5 194.9 147.9 Q193.8 154.8 194.2 159.7 Q193.7 164.7 193.9 171.6" fill="none" stroke="#16ee16" stroke-width="4.6" stroke-linecap="round" opacity="1"/>
<path d="M196.7 112.3 Q195.7 117.3 195.0 124.2 Q194.0 129.9 193.4 136.0 Q194.0 141.6 193.8 147.9" fill="none" stroke="#86ff86" stroke-width="0.9" stroke-linecap="round" opacity="0.45"/>
<ellipse cx="50.6" cy="166.1" rx="3.4" ry="3.3" fill="#16ee16"/>
<ellipse cx="49.6" cy="170.5" rx="2.3" ry="2.5" fill="#16ee16"/>
<ellipse cx="32.6" cy="168.7" rx="3.1" ry="3.6" fill="#16ee16"/>
<ellipse cx="97.1" cy="153.0" rx="2.0" ry="4.4" fill="#16ee16"/>
<ellipse cx="75.1" cy="158.6" rx="3.1" ry="4.0" fill="#16ee16"/>
<ellipse cx="96.9" cy="133.5" rx="2.6" ry="2.3" fill="#16ee16"/>
<ellipse cx="166.4" cy="137.9" rx="3.2" ry="2.7" fill="#16ee16"/>
<ellipse cx="79.5" cy="130.5" rx="2.4" ry="2.5" fill="#16ee16"/>
<ellipse cx="8.5" cy="164.7" rx="2.1" ry="2.6" fill="#16ee16"/>
<ellipse cx="65.3" cy="147.0" rx="2.4" ry="3.6" fill="#16ee16"/>
<ellipse cx="133.3" cy="138.5" rx="3.4" ry="4.1" fill="#16ee16"/>
<ellipse cx="18.8" cy="172.4" rx="3.3" ry="4.0" fill="#16ee16"/>
<ellipse cx="34.7" cy="172.7" rx="2.8" ry="2.0" fill="#16ee16"/>
<ellipse cx="10.2" cy="181.5" rx="2.8" ry="2.6" fill="#16ee16"/>
<ellipse cx="27.3" cy="122.4" rx="2.0" ry="3.9" fill="#16ee16"/>
<ellipse cx="73.8" cy="123.1" rx="3.3" ry="4.0" fill="#16ee16"/>
<ellipse cx="39.9" cy="177.1" rx="2.7" ry="4.0" fill="#16ee16"/>
<ellipse cx="135.0" cy="177.3" rx="3.1" ry="4.1" fill="#16ee16"/>
<ellipse cx="45.5" cy="162.6" rx="2.6" ry="3.9" fill="#16ee16"/>
<ellipse cx="91.3" cy="176.4" rx="2.6" ry="2.7" fill="#16ee16"/>
<ellipse cx="52.5" cy="122.2" rx="2.5" ry="2.1" fill="#16ee16"/>
<ellipse cx="96.7" cy="122.5" rx="2.5" ry="3.2" fill="#16ee16"/>
<ellipse cx="110.5" cy="175.0" rx="1.5" ry="4.1" fill="#16ee16"/>
<ellipse cx="96.9" cy="153.1" rx="2.8" ry="4.1" fill="#16ee16"/>
<ellipse cx="79.2" cy="142.6" rx="3.4" ry="2.2" fill="#16ee16"/>
<ellipse cx="129.0" cy="158.4" rx="1.6" ry="3.5" fill="#16ee16"/>
<ellipse cx="137.7" cy="180.0" rx="2.2" ry="4.5" fill="#16ee16"/>
<ellipse cx="105.0" cy="147.4" rx="3.3" ry="2.1" fill="#16ee16"/>
<ellipse cx="144.5" cy="157.6" rx="2.2" ry="4.2" fill="#16ee16"/>
<ellipse cx="77.6" cy="146.6" rx="2.6" ry="3.9" fill="#16ee16"/>
<ellipse cx="48.0" cy="143.8" rx="2.3" ry="3.4" fill="#16ee16"/>
<ellipse cx="165.1" cy="133.4" rx="3.2" ry="3.0" fill="#16ee16"/>
<ellipse cx="103.7" cy="131.8" rx="2.5" ry="4.4" fill="#16ee16"/>
<ellipse cx="132.4" cy="169.8" rx="2.2" ry="2.8" fill="#16ee16"/>
<ellipse cx="64.9" cy="154.8" rx="2.8" ry="4.0" fill="#16ee16"/>
<ellipse cx="15.6" cy="164.8" rx="3.3" ry="3.4" fill="#16ee16"/>
<ellipse cx="17.4" cy="133.9" rx="1.5" ry="2.5" fill="#16ee16"/>
<ellipse cx="183.1" cy="156.4" rx="2.8" ry="4.0" fill="#16ee16"/>
<ellipse cx="180.9" cy="156.7" rx="2.7" ry="3.6" fill="#16ee16"/>
<ellipse cx="140.3" cy="155.5" rx="2.9" ry="2.5" fill="#16ee16"/>
<ellipse cx="134.7" cy="145.4" rx="3.0" ry="2.3" fill="#16ee16"/>
<ellipse cx="42.4" cy="114.7" rx="3.0" ry="4.3" fill="#16ee16"/>
<ellipse cx="132.6" cy="138.9" rx="3.1" ry="4.0" fill="#16ee16"/>
<ellipse cx="114.8" cy="130.8" rx="2.1" ry="3.1" fill="#16ee16"/>
<ellipse cx="68.5" cy="143.4" rx="2.8" ry="4.3" fill="#16ee16"/>
<ellipse cx="18.4" cy="153.4" rx="1.6" ry="2.3" fill="#16ee16"/>
<ellipse cx="162.0" cy="154.0" rx="3.3" ry="3.1" fill="#16ee16"/>
<ellipse cx="10.7" cy="140.3" rx="2.7" ry="4.3" fill="#16ee16"/>
<ellipse cx="194.3" cy="146.7" rx="2.3" ry="2.3" fill="#16ee16"/>
<ellipse cx="130.5" cy="127.5" rx="1.8" ry="2.0" fill="#16ee16"/>
<ellipse cx="8.9" cy="161.9" rx="1.7" ry="4.4" fill="#16ee16"/>
<ellipse cx="24.7" cy="175.5" rx="1.8" ry="2.0" fill="#16ee16"/>
<ellipse cx="144.7" cy="129.7" rx="3.0" ry="2.5" fill="#16ee16"/>
<ellipse cx="17.5" cy="168.5" rx="2.9" ry="4.1" fill="#16ee16"/>
<ellipse cx="146.6" cy="118.2" rx="2.8" ry="3.8" fill="#16ee16"/>
<ellipse cx="95.5" cy="180.1" rx="2.0" ry="4.4" fill="#16ee16"/>
<ellipse cx="144.3" cy="112.8" rx="1.5" ry="3.6" fill="#16ee16"/>
<ellipse cx="163.3" cy="117.8" rx="2.1" ry="3.8" fill="#16ee16"/>
<ellipse cx="39.5" cy="174.9" rx="2.5" ry="2.1" fill="#16ee16"/>
<ellipse cx="77.8" cy="154.0" rx="2.4" ry="3.7" fill="#16ee16"/>
<ellipse cx="35.5" cy="170.2" rx="2.2" ry="3.6" fill="#16ee16"/>
<ellipse cx="127.6" cy="142.5" rx="2.3" ry="4.0" fill="#16ee16"/>
<ellipse cx="187.5" cy="169.3" rx="2.6" ry="2.7" fill="#16ee16"/>
<ellipse cx="19.5" cy="183.1" rx="2.9" ry="4.1" fill="#16ee16"/>
<ellipse cx="71.1" cy="156.2" rx="3.5" ry="4.1" fill="#16ee16"/>
<ellipse cx="122.2" cy="134.5" rx="2.4" ry="4.2" fill="#16ee16"/>
<ellipse cx="79.6" cy="162.0" rx="2.7" ry="4.2" fill="#16ee16"/>
<ellipse cx="161.4" cy="132.7" rx="1.5" ry="2.7" fill="#16ee16"/>
<ellipse cx="88.3" cy="154.8" rx="3.1" ry="4.2" fill="#16ee16"/>
<ellipse cx="16.0" cy="172.8" rx="3.1" ry="4.2" fill="#16ee16"/>
<path d="M57.8 147.9 Q63.3 148.8 67.1 150.3" fill="none" stroke="#006a00" stroke-width="1.3" stroke-linecap="round" opacity="0.7"/>
<path d="M108.8 111.4 Q114.1 109.6 117.8 109.0" fill="none" stroke="#006a00" stroke-width="1.4" stroke-linecap="round" opacity="0.7"/>
<path d="M131.3 150.5 Q135.5 149.9 138.7 148.2" fill="none" stroke="#006a00" stroke-width="1.1" stroke-linecap="round" opacity="0.7"/>
<path d="M24.0 139.5 Q28.6 141.4 33.0 141.7" fill="none" stroke="#006a00" stroke-width="1.0" stroke-linecap="round" opacity="0.7"/>
<path d="M103.0 171.4 Q106.1 171.1 110.4 172.1" fill="none" stroke="#006a00" stroke-width="1.0" stroke-linecap="round" opacity="0.7"/>
<path d="M74.0 157.6 Q77.2 156.3 81.9 156.8" fill="none" stroke="#006a00" stroke-width="1.2" stroke-linecap="round" opacity="0.7"/>
<path d="M76.1 179.8 Q78.2 180.5 81.6 180.8" fill="none" stroke="#006a00" stroke-width="1.4" stroke-linecap="round" opacity="0.7"/>
<path d="M102.5 130.9 Q105.8 129.0 107.6 127.1" fill="none" stroke="#006a00" stroke-width="1.5" stroke-linecap="round" opacity="0.7"/>
<path d="M55.6 147.5 Q60.6 147.9 64.5 146.9" fill="none" stroke="#006a00" stroke-width="1.5" stroke-linecap="round" opacity="0.7"/>
<path d="M54.2 177.3 Q56.0 175.2 59.4 174.9" fill="none" stroke="#006a00" stroke-width="1.0" stroke-linecap="round" opacity="0.7"/>
<path d="M166.5 146.8 Q169.2 148.8 173.8 150.4" fill="none" stroke="#006a00" stroke-width="1.4" stroke-linecap="round" opacity="0.7"/>
<path d="M29.8 134.8 Q35.0 134.7 39.6 132.9" fill="none" stroke="#006a00" stroke-width="1.2" stroke-linecap="round" opacity="0.7"/>
<path d="M79.5 155.2 Q84.2 153.3 86.8 152.5" fill="none" stroke="#006a00" stroke-width="1.5" stroke-linecap="round" opacity="0.7"/>
<path d="M54.6 107.9 Q58.6 108.6 61.3 111.1" fill="none" stroke="#006a00" stroke-width="1.4" stroke-linecap="round" opacity="0.7"/>
<path d="M137.1 164.0 Q140.6 166.4 145.4 167.9" fill="none" stroke="#006a00" stroke-width="0.9" stroke-linecap="round" opacity="0.7"/>
<path d="M131.2 175.5 Q133.7 175.5 137.7 176.2" fill="none" stroke="#006a00" stroke-width="1.4" stroke-linecap="round" opacity="0.7"/>
<path d="M30.6 124.3 Q33.6 123.3 38.0 121.6" fill="none" stroke="#006a00" stroke-width="1.0" stroke-linecap="round" opacity="0.7"/>
<path d="M138.5 105.9 Q141.0 105.0 144.5 102.2" fill="none" stroke="#006a00" stroke-width="1.5" stroke-linecap="round" opacity="0.7"/>
<path d="M169.7 170.0 Q173.5 170.5 175.4 169.6" fill="none" stroke="#006a00" stroke-width="1.0" stroke-linecap="round" opacity="0.7"/>
<path d="M90.3 152.1 Q93.9 152.7 97.0 154.7" fill="none" stroke="#006a00" stroke-width="1.2" stroke-linecap="round" opacity="0.7"/>
<path d="M18.3 121.6 Q23.3 121.4 26.9 122.1" fill="none" stroke="#006a00" stroke-width="1.0" stroke-linecap="round" opacity="0.7"/>
<path d="M36.3 135.9 Q38.8 137.2 42.7 138.6" fill="none" stroke="#006a00" stroke-width="1.1" stroke-linecap="round" opacity="0.7"/>
<path d="M172.4 128.9 Q176.0 131.1 177.9 132.7" fill="none" stroke="#006a00" stroke-width="0.9" stroke-linecap="round" opacity="0.7"/>
<path d="M94.9 120.8 Q97.8 120.9 101.3 118.9" fill="none" stroke="#006a00" stroke-width="1.0" stroke-linecap="round" opacity="0.7"/>
<path d="M176.4 179.9 Q178.2 179.5 181.9 178.2" fill="none" stroke="#006a00" stroke-width="1.4" stroke-linecap="round" opacity="0.7"/>
<path d="M5.9 50.6 Q9.9 49.5 15.2 48.6 Q20.8 47.3 24.6 47.1 Q29.4 45.7 34.0 45.7 Q38.0 46.6 43.4 46.3" fill="none" stroke="#16ee16" stroke-width="4.3" stroke-linecap="round" opacity="1"/>
<path d="M15.2 47.3 Q19.3 45.7 24.6 45.8 Q28.5 45.3 34.0 44.4" fill="none" stroke="#86ff86" stroke-width="1.2" stroke-linecap="round" opacity="0.45"/>
<path d="M46.8 50.2 Q49.9 50.0 52.0 50.1 Q55.0 49.1 57.1 49.9 Q60.3 49.2 62.3 49.1 Q65.5 49.2 67.4 48.0" fill="none" stroke="#16ee16" stroke-width="3.7" stroke-linecap="round" opacity="1"/>
<path d="M52.0 48.8 Q53.6 49.5 57.1 48.6 Q59.6 48.9 62.3 47.8" fill="none" stroke="#86ff86" stroke-width="1.0" stroke-linecap="round" opacity="0.45"/>
<path d="M69.7 49.7 Q71.9 49.7 74.4 49.7 Q75.9 50.5 79.0 50.5 Q81.9 51.6 83.6 51.3 Q85.5 51.3 88.2 50.5" fill="none" stroke="#16ee16" stroke-width="4.3" stroke-linecap="round" opacity="1"/>
<path d="M74.4 48.4 Q77.2 47.9 79.0 49.2 Q82.0 50.5 83.6 50.0" fill="none" stroke="#86ff86" stroke-width="1.0" stroke-linecap="round" opacity="0.45"/>
<path d="M91.7 50.1 Q94.5 50.2 98.3 49.1 Q100.6 49.3 104.8 51.0 Q108.5 49.7 111.4 49.6 Q113.7 49.8 118.0 49.6" fill="none" stroke="#16ee16" stroke-width="3.7" stroke-linecap="round" opacity="1"/>
<path d="M98.3 47.8 Q101.6 49.2 104.8 49.7 Q107.3 49.8 111.4 48.3" fill="none" stroke="#86ff86" stroke-width="1.1" stroke-linecap="round" opacity="0.45"/>
<path d="M122.6 50.0 Q124.7 50.5 126.4 49.7 Q127.5 49.4 130.1 48.9 Q132.5 47.9 133.9 48.2 Q136.4 49.2 137.7 48.4" fill="none" stroke="#16ee16" stroke-width="3.8" stroke-linecap="round" opacity="1"/>
<path d="M126.4 48.4 Q128.1 48.6 130.1 47.6 Q132.1 47.0 133.9 46.9" fill="none" stroke="#86ff86" stroke-width="1.0" stroke-linecap="round" opacity="0.45"/>
<path d="M143.4 49.5 Q148.1 50.1 151.5 49.4 Q154.7 49.3 159.7 49.2 Q164.7 50.5 167.9 50.0 Q171.4 49.5 176.0 49.3" fill="none" stroke="#16ee16" stroke-width="4.9" stroke-linecap="round" opacity="1"/>
<path d="M151.5 48.1 Q155.3 48.1 159.7 47.9 Q162.9 48.2 167.9 48.7" fill="none" stroke="#86ff86" stroke-width="1.1" stroke-linecap="round" opacity="0.45"/>
<path d="M179.5 50.9 Q182.1 49.7 183.2 50.2 Q185.3 49.8 186.8 50.2 Q189.0 49.3 190.4 49.3 Q192.3 50.2 194.0 49.4" fill="none" stroke="#16ee16" stroke-width="4.8" stroke-linecap="round" opacity="1"/>
<path d="M183.2 48.9 Q184.5 49.0 186.8 48.9 Q188.5 49.4 190.4 48.0" fill="none" stroke="#86ff86" stroke-width="1.1" stroke-linecap="round" opacity="0.45"/>
<path d="M196.5 49.2 Q199.2 49.1 201.8 50.4 Q203.7 50.1 207.1 51.3 Q209.4 50.8 212.5 50.6 Q214.7 49.9 217.8 50.3" fill="none" stroke="#16ee16" stroke-width="4.3" stroke-linecap="round" opacity="1"/>
<path d="M201.8 49.1 Q204.6 50.2 207.1 50.0 Q210.0 49.8 212.5 49.3" fill="none" stroke="#86ff86" stroke-width="0.8" stroke-linecap="round" opacity="0.45"/>
<path d="M14.2 54.3 Q17.1 54.4 20.5 54.1 Q22.6 53.7 26.7 53.8 Q30.6 53.3 33.0 53.8 Q36.2 53.8 39.3 53.8" fill="none" stroke="#16ee16" stroke-width="4.3" stroke-linecap="round" opacity="1"/>
<path d="M20.5 52.8 Q24.6 52.3 26.7 52.5 Q30.4 51.8 33.0 52.5" fill="none" stroke="#86ff86" stroke-width="0.9" stroke-linecap="round" opacity="0.45"/>
<path d="M40.6 53.2 Q45.9 53.9 49.3 53.7 Q53.0 53.4 58.1 53.7 Q62.1 54.3 66.8 54.2 Q71.4 54.2 75.5 52.8" fill="none" stroke="#16ee16" stroke-width="3.9" stroke-linecap="round" opacity="1"/>
<path d="M49.3 52.4 Q53.7 52.9 58.1 52.4 Q62.9 53.2 66.8 52.9" fill="none" stroke="#86ff86" stroke-width="1.2" stroke-linecap="round" opacity="0.45"/>
<path d="M78.9 54.9 Q83.0 55.3 87.1 53.7 Q91.3 54.5 95.3 55.6 Q100.0 55.7 103.5 54.3 Q107.8 55.0 111.7 56.3" fill="none" stroke="#16ee16" stroke-width="4.4" stroke-linecap="round" opacity="1"/>
<path d="M87.1 52.4 Q91.1 53.8 95.3 54.3 Q99.0 53.5 103.5 53.0" fill="none" stroke="#86ff86" stroke-width="1.0" stroke-linecap="round" opacity="0.45"/>
<path d="M115.5 54.7 Q117.7 54.7 121.3 54.5 Q124.4 53.2 127.1 53.6 Q130.9 53.1 132.9 53.2 Q136.5 53.5 138.7 52.5" fill="none" stroke="#16ee16" stroke-width="4.0" stroke-linecap="round" opacity="1"/>
<path d="M121.3 53.2 Q123.6 52.6 127.1 52.3 Q130.8 51.1 132.9 51.9" fill="none" stroke="#86ff86" stroke-width="1.3" stroke-linecap="round" opacity="0.45"/>
<path d="M140.0 54.9 Q143.8 54.6 146.9 54.6 Q150.0 54.6 153.7 54.1 Q156.9 55.5 160.6 55.1 Q164.4 54.6 167.5 54.1" fill="none" stroke="#16ee16" stroke-width="4.3" stroke-linecap="round" opacity="1"/>
<path d="M146.9 53.3 Q150.1 52.9 153.7 52.8 Q157.3 53.5 160.6 53.8" fill="none" stroke="#86ff86" stroke-width="0.8" stroke-linecap="round" opacity="0.45"/>
<path d="M172.9 54.0 Q176.9 53.8 182.2 54.3 Q187.8 55.3 191.5 55.0 Q196.2 53.6 200.8 53.7 Q206.2 54.2 210.1 54.0" fill="none" stroke="#16ee16" stroke-width="4.7" stroke-linecap="round" opacity="1"/>
<path d="M182.2 53.0 Q187.8 54.1 191.5 53.7 Q196.0 52.4 200.8 52.4" fill="none" stroke="#86ff86" stroke-width="1.2" stroke-linecap="round" opacity="0.45"/>
<path d="M10.1 58.9 Q12.2 59.2 14.7 58.5 Q16.7 58.4 19.4 57.6 Q20.7 57.7 24.0 58.5 Q27.0 58.2 28.6 57.5" fill="none" stroke="#16ee16" stroke-width="3.7" stroke-linecap="round" opacity="1"/>
<path d="M14.7 57.2 Q16.4 56.7 19.4 56.3 Q21.8 56.3 24.0 57.2" fill="none" stroke="#86ff86" stroke-width="1.1" stroke-linecap="round" opacity="0.45"/>
<path d="M32.8 58.7 Q35.4 58.3 39.5 59.2 Q42.9 60.0 46.2 59.4 Q49.8 60.5 52.9 60.3 Q55.4 60.3 59.6 62.3" fill="none" stroke="#16ee16" stroke-width="3.7" stroke-linecap="round" opacity="1"/>
<path d="M39.5 57.9 Q42.5 58.5 46.2 58.1 Q49.3 57.9 52.9 59.0" fill="none" stroke="#86ff86" stroke-width="1.2" stroke-linecap="round" opacity="0.45"/>
<path d="M61.9 58.8 Q64.1 59.6 66.0 58.7 Q68.0 59.2 70.1 59.3 Q71.7 58.5 74.2 59.6 Q77.1 60.1 78.3 59.3" fill="none" stroke="#16ee16" stroke-width="4.8" stroke-linecap="round" opacity="1"/>
<path d="M66.0 57.4 Q68.9 58.3 70.1 58.0 Q71.8 58.3 74.2 58.3" fill="none" stroke="#86ff86" stroke-width="1.0" stroke-linecap="round" opacity="0.45"/>
<path d="M84.1 58.1 Q87.3 59.2 90.6 59.1 Q93.3 59.1 97.1 60.4 Q100.0 59.7 103.5 60.1 Q107.7 60.2 110.0 61.0" fill="none" stroke="#16ee16" stroke-width="4.8" stroke-linecap="round" opacity="1"/>
<path d="M90.6 57.8 Q93.1 58.5 97.1 59.1 Q100.1 58.8 103.5 58.8" fill="none" stroke="#86ff86" stroke-width="1.1" stroke-linecap="round" opacity="0.45"/>
<path d="M111.3 58.3 Q113.8 58.0 115.6 58.4 Q117.0 58.9 119.8 58.6 Q121.1 58.4 124.1 59.2 Q126.9 58.5 128.3 59.4" fill="none" stroke="#16ee16" stroke-width="3.6" stroke-linecap="round" opacity="1"/>
<path d="M115.6 57.1 Q118.4 57.8 119.8 57.3 Q121.3 57.3 124.1 57.9" fill="none" stroke="#86ff86" stroke-width="1.0" stroke-linecap="round" opacity="0.45"/>
<path d="M132.9 58.0 Q136.2 58.6 138.7 60.1 Q142.4 60.2 144.4 59.9 Q147.1 59.4 150.2 60.0 Q153.3 59.9 156.0 61.0" fill="none" stroke="#16ee16" stroke-width="3.8" stroke-linecap="round" opacity="1"/>
<path d="M138.7 58.8 Q140.8 58.7 144.4 58.6 Q147.4 58.2 150.2 58.7" fill="none" stroke="#86ff86" stroke-width="1.2" stroke-linecap="round" opacity="0.45"/>
<path d="M160.8 58.7 Q163.4 58.9 166.6 58.4 Q168.7 58.8 172.4 58.8 Q175.1 58.6 178.2 58.4 Q180.7 57.8 184.1 58.8" fill="none" stroke="#16ee16" stroke-width="4.8" stroke-linecap="round" opacity="1"/>
<path d="M166.6 57.1 Q169.0 56.6 172.4 57.5 Q175.8 56.9 178.2 57.1" fill="none" stroke="#86ff86" stroke-width="1.0" stroke-linecap="round" opacity="0.45"/>
<path d="M187.1 59.4 Q191.9 59.3 196.0 59.9 Q200.3 59.8 205.0 59.0 Q209.9 59.0 213.9 59.9 Q219.1 59.7 222.9 60.0" fill="none" stroke="#16ee16" stroke-width="4.6" stroke-linecap="round" opacity="1"/>
<path d="M196.0 58.6 Q199.9 57.4 205.0 57.7 Q210.3 58.7 213.9 58.6" fill="none" stroke="#86ff86" stroke-width="1.1" stroke-linecap="round" opacity="0.45"/>
<path d="M0.8 62.1 Q3.7 62.1 5.3 61.9 Q7.9 60.9 9.7 60.9 Q11.9 61.4 14.2 61.1 Q16.2 60.3 18.7 61.4" fill="none" stroke="#16ee16" stroke-width="3.9" stroke-linecap="round" opacity="1"/>
<path d="M5.3 60.6 Q8.1 59.7 9.7 59.6 Q11.1 60.4 14.2 59.8" fill="none" stroke="#86ff86" stroke-width="1.2" stroke-linecap="round" opacity="0.45"/>
<path d="M22.7 61.7 Q25.0 62.0 26.5 62.8 Q28.9 62.8 30.3 61.4 Q31.7 61.2 34.1 62.6 Q36.9 62.2 37.9 62.0" fill="none" stroke="#16ee16" stroke-width="3.7" stroke-linecap="round" opacity="1"/>
<path d="M26.5 61.5 Q28.8 61.3 30.3 60.1 Q32.8 61.0 34.1 61.3" fill="none" stroke="#86ff86" stroke-width="1.3" stroke-linecap="round" opacity="0.45"/>
<path d="M41.1 62.3 Q43.4 63.1 45.0 62.7 Q46.4 63.3 48.8 63.7 Q51.6 63.2 52.6 62.3 Q54.6 62.5 56.4 63.7" fill="none" stroke="#16ee16" stroke-width="3.7" stroke-linecap="round" opacity="1"/>
<path d="M45.0 61.4 Q46.6 61.7 48.8 62.4 Q50.1 61.3 52.6 61.0" fill="none" stroke="#86ff86" stroke-width="0.8" stroke-linecap="round" opacity="0.45"/>
<path d="M58.1 61.9 Q61.6 62.9 65.9 62.3 Q69.0 62.8 73.6 63.1 Q77.1 63.8 81.3 63.3 Q85.3 64.5 89.1 64.6" fill="none" stroke="#16ee16" stroke-width="4.1" stroke-linecap="round" opacity="1"/>
<path d="M65.9 61.0 Q70.1 61.6 73.6 61.8 Q77.4 62.4 81.3 62.0" fill="none" stroke="#86ff86" stroke-width="0.9" stroke-linecap="round" opacity="0.45"/>
<path d="M94.2 62.2 Q96.2 61.1 98.4 61.7 Q100.2 61.3 102.6 61.2 Q104.4 60.6 106.8 61.4 Q108.0 60.2 111.0 61.0" fill="none" stroke="#16ee16" stroke-width="4.6" stroke-linecap="round" opacity="1"/>
<path d="M98.4 60.4 Q101.0 59.3 102.6 59.9 Q105.1 60.9 106.8 60.1" fill="none" stroke="#86ff86" stroke-width="1.3" stroke-linecap="round" opacity="0.45"/>
<path d="M114.8 62.3 Q117.1 62.9 119.0 61.8 Q121.3 61.7 123.1 62.5 Q124.7 61.3 127.3 61.4 Q128.4 62.9 131.4 63.2" fill="none" stroke="#16ee16" stroke-width="4.5" stroke-linecap="round" opacity="1"/>
<path d="M119.0 60.5 Q120.6 60.2 123.1 61.2 Q125.5 61.4 127.3 60.1" fill="none" stroke="#86ff86" stroke-width="1.2" stroke-linecap="round" opacity="0.45"/>
<path d="M137.0 63.1 Q139.0 63.3 141.6 63.2 Q143.5 63.6 146.1 62.7 Q147.8 61.8 150.6 62.7 Q153.0 63.8 155.1 64.3" fill="none" stroke="#16ee16" stroke-width="4.0" stroke-linecap="round" opacity="1"/>
<path d="M141.6 61.9 Q144.2 62.5 146.1 61.4 Q149.2 61.4 150.6 61.4" fill="none" stroke="#86ff86" stroke-width="1.2" stroke-linecap="round" opacity="0.45"/>
<path d="M158.6 62.6 Q160.0 61.1 163.0 61.4 Q165.1 61.3 167.5 62.4 Q170.1 60.8 171.9 61.1 Q174.8 62.0 176.4 61.5" fill="none" stroke="#16ee16" stroke-width="5.0" stroke-linecap="round" opacity="1"/>
<path d="M163.0 60.1 Q165.1 60.2 167.5 61.1 Q170.0 60.5 171.9 59.8" fill="none" stroke="#86ff86" stroke-width="1.2" stroke-linecap="round" opacity="0.45"/>
<path d="M179.5 62.8 Q182.4 62.6 185.0 63.0 Q187.2 62.2 190.5 63.1 Q192.9 62.2 196.1 61.5 Q199.8 62.4 201.6 61.7" fill="none" stroke="#16ee16" stroke-width="4.2" stroke-linecap="round" opacity="1"/>
<path d="M185.0 61.7 Q188.7 62.7 190.5 61.8 Q193.5 61.6 196.1 60.2" fill="none" stroke="#86ff86" stroke-width="1.2" stroke-linecap="round" opacity="0.45"/>
<path d="M12.2 68.1 Q13.9 67.1 17.5 67.3 Q20.5 67.4 22.7 67.7 Q24.6 67.7 28.0 67.1 Q30.4 67.3 33.3 67.2" fill="none" stroke="#16ee16" stroke-width="4.8" stroke-linecap="round" opacity="1"/>
<path d="M17.5 66.0 Q20.2 66.3 22.7 66.4 Q25.2 65.3 28.0 65.8" fill="none" stroke="#86ff86" stroke-width="1.0" stroke-linecap="round" opacity="0.45"/>
<path d="M35.2 66.4 Q39.6 67.3 44.1 68.0 Q47.9 67.6 52.9 66.9 Q56.5 66.8 61.7 66.7 Q66.3 66.3 70.6 67.7" fill="none" stroke="#16ee16" stroke-width="4.0" stroke-linecap="round" opacity="1"/>
<path d="M44.1 66.7 Q47.6 66.0 52.9 65.6 Q58.0 65.6 61.7 65.4" fill="none" stroke="#86ff86" stroke-width="1.0" stroke-linecap="round" opacity="0.45"/>
<path d="M75.1 68.2 Q80.1 67.7 83.2 66.9 Q87.8 65.2 91.2 64.9 Q95.8 64.4 99.3 65.6 Q102.8 64.6 107.3 64.0" fill="none" stroke="#16ee16" stroke-width="3.8" stroke-linecap="round" opacity="1"/>
<path d="M83.2 65.6 Q87.4 64.0 91.2 63.6 Q94.9 64.4 99.3 64.3" fill="none" stroke="#86ff86" stroke-width="0.8" stroke-linecap="round" opacity="0.45"/>
<path d="M110.4 67.9 Q114.5 68.3 119.3 67.6 Q124.1 68.7 128.1 68.6 Q131.8 68.4 136.9 68.7 Q141.8 69.0 145.8 67.6" fill="none" stroke="#16ee16" stroke-width="4.6" stroke-linecap="round" opacity="1"/>
<path d="M119.3 66.3 Q122.8 67.0 128.1 67.3 Q131.7 67.4 136.9 67.4" fill="none" stroke="#86ff86" stroke-width="1.2" stroke-linecap="round" opacity="0.45"/>
<path d="M150.8 67.6 Q152.1 66.4 155.0 67.1 Q156.3 67.9 159.1 67.4 Q160.6 68.0 163.3 68.4 Q165.0 69.4 167.5 69.6" fill="none" stroke="#16ee16" stroke-width="4.4" stroke-linecap="round" opacity="1"/>
<path d="M155.0 65.8 Q156.3 66.7 159.1 66.1 Q161.3 67.0 163.3 67.1" fill="none" stroke="#86ff86" stroke-width="1.0" stroke-linecap="round" opacity="0.45"/>
<path d="M172.5 66.9 Q176.5 66.8 181.7 65.4 Q186.7 65.0 190.9 65.1 Q195.5 64.2 200.1 64.7 Q205.4 63.9 209.3 63.5" fill="none" stroke="#16ee16" stroke-width="3.6" stroke-linecap="round" opacity="1"/>
<path d="M181.7 64.1 Q186.5 63.1 190.9 63.8 Q195.2 63.0 200.1 63.4" fill="none" stroke="#86ff86" stroke-width="1.2" stroke-linecap="round" opacity="0.45"/>
<path d="M0.9 71.8 Q2.8 70.8 5.4 71.8 Q7.6 72.5 9.9 71.3 Q11.3 70.5 14.4 71.1 Q17.0 70.2 18.9 70.2" fill="none" stroke="#16ee16" stroke-width="4.4" stroke-linecap="round" opacity="1"/>
<path d="M5.4 70.5 Q7.7 69.8 9.9 70.0 Q12.3 69.9 14.4 69.8" fill="none" stroke="#86ff86" stroke-width="0.9" stroke-linecap="round" opacity="0.45"/>
<path d="M24.7 71.9 Q29.2 71.2 34.2 71.3 Q39.5 71.6 43.6 70.5 Q49.2 70.2 53.1 69.2 Q57.4 69.1 62.5 67.9" fill="none" stroke="#16ee16" stroke-width="4.5" stroke-linecap="round" opacity="1"/>
<path d="M34.2 70.0 Q38.9 69.9 43.6 69.2 Q48.1 68.6 53.1 67.9" fill="none" stroke="#86ff86" stroke-width="1.2" stroke-linecap="round" opacity="0.45"/>
<path d="M65.6 71.5 Q67.2 71.3 69.4 72.7 Q70.4 72.8 73.3 71.5 Q75.1 71.2 77.2 71.1 Q79.2 70.5 81.0 70.7" fill="none" stroke="#16ee16" stroke-width="3.9" stroke-linecap="round" opacity="1"/>
<path d="M69.4 71.4 Q70.5 70.4 73.3 70.2 Q74.8 70.5 77.2 69.8" fill="none" stroke="#86ff86" stroke-width="0.9" stroke-linecap="round" opacity="0.45"/>
<path d="M84.8 72.7 Q89.1 72.7 93.9 71.6 Q98.3 71.7 103.0 70.3 Q106.7 70.2 112.2 70.1 Q117.5 69.9 121.3 70.6" fill="none" stroke="#16ee16" stroke-width="5.0" stroke-linecap="round" opacity="1"/>
<path d="M93.9 70.3 Q97.5 69.0 103.0 69.0 Q107.1 69.3 112.2 68.8" fill="none" stroke="#86ff86" stroke-width="0.9" stroke-linecap="round" opacity="0.45"/>
<path d="M123.4 72.0 Q126.5 71.2 129.3 72.1 Q132.8 72.5 135.2 71.3 Q137.8 69.9 141.1 69.9 Q143.4 70.3 147.0 70.6" fill="none" stroke="#16ee16" stroke-width="4.9" stroke-linecap="round" opacity="1"/>
<path d="M129.3 70.8 Q132.5 71.2 135.2 70.0 Q137.5 69.0 141.1 68.6" fill="none" stroke="#86ff86" stroke-width="1.2" stroke-linecap="round" opacity="0.45"/>
<path d="M151.7 72.2 Q155.1 71.7 159.1 71.3 Q163.0 70.5 166.5 70.6 Q170.1 69.9 173.9 71.2 Q178.4 70.8 181.3 70.2" fill="none" stroke="#16ee16" stroke-width="4.5" stroke-linecap="round" opacity="1"/>
<path d="M159.1 70.0 Q161.9 69.9 166.5 69.3 Q170.6 69.2 173.9 69.9" fill="none" stroke="#86ff86" stroke-width="1.3" stroke-linecap="round" opacity="0.45"/>
<path d="M182.7 72.4 Q185.1 71.8 187.2 70.6 Q189.6 70.8 191.6 71.7 Q194.3 70.6 196.1 70.5 Q198.7 71.0 200.5 70.4" fill="none" stroke="#16ee16" stroke-width="4.4" stroke-linecap="round" opacity="1"/>
<path d="M187.2 69.3 Q189.0 70.4 191.6 70.4 Q194.8 69.7 196.1 69.2" fill="none" stroke="#86ff86" stroke-width="1.2" stroke-linecap="round" opacity="0.45"/>
<path d="M18.8 76.3 Q21.5 75.4 23.1 76.2 Q24.3 75.3 27.4 75.9 Q28.7 75.2 31.7 74.6 Q33.9 74.3 36.0 75.3" fill="none" stroke="#16ee16" stroke-width="3.9" stroke-linecap="round" opacity="1"/>
<path d="M23.1 74.9 Q25.0 74.0 27.4 74.6 Q28.9 74.4 31.7 73.3" fill="none" stroke="#86ff86" stroke-width="1.3" stroke-linecap="round" opacity="0.45"/>
<path d="M41.6 76.9 Q44.4 76.0 46.1 75.3 Q47.9 76.6 50.5 76.3 Q52.0 76.0 55.0 74.8 Q56.4 75.0 59.5 74.6" fill="none" stroke="#16ee16" stroke-width="4.1" stroke-linecap="round" opacity="1"/>
<path d="M46.1 74.0 Q49.0 73.6 50.5 75.0 Q52.9 74.1 55.0 73.5" fill="none" stroke="#86ff86" stroke-width="1.0" stroke-linecap="round" opacity="0.45"/>
<path d="M65.1 75.8 Q70.2 76.3 74.2 76.1 Q78.4 77.3 83.4 76.4 Q87.4 76.9 92.6 77.1 Q96.5 77.7 101.8 76.9" fill="none" stroke="#16ee16" stroke-width="3.9" stroke-linecap="round" opacity="1"/>
<path d="M74.2 74.8 Q78.4 75.5 83.4 75.1 Q88.6 75.0 92.6 75.8" fill="none" stroke="#86ff86" stroke-width="1.2" stroke-linecap="round" opacity="0.45"/>
<path d="M104.4 75.7 Q107.0 77.3 110.8 77.3 Q113.8 78.1 117.2 77.8 Q121.2 77.3 123.7 78.1 Q127.6 79.5 130.1 78.9" fill="none" stroke="#16ee16" stroke-width="4.8" stroke-linecap="round" opacity="1"/>
<path d="M110.8 76.0 Q113.1 75.5 117.2 76.5 Q121.4 75.6 123.7 76.8" fill="none" stroke="#86ff86" stroke-width="0.9" stroke-linecap="round" opacity="0.45"/>
<path d="M135.6 75.6 Q138.3 76.5 140.0 75.9 Q143.2 75.7 144.4 77.2 Q146.1 77.3 148.8 76.3 Q151.4 75.7 153.2 77.0" fill="none" stroke="#16ee16" stroke-width="4.9" stroke-linecap="round" opacity="1"/>
<path d="M140.0 74.6 Q141.7 75.1 144.4 75.9 Q145.8 74.5 148.8 75.0" fill="none" stroke="#86ff86" stroke-width="1.1" stroke-linecap="round" opacity="0.45"/>
<path d="M159.2 75.6 Q161.2 76.7 164.6 76.8 Q167.3 75.9 170.0 76.6 Q172.4 77.1 175.4 77.7 Q178.9 77.4 180.8 77.7" fill="none" stroke="#16ee16" stroke-width="4.6" stroke-linecap="round" opacity="1"/>
<path d="M164.6 75.5 Q168.2 76.2 170.0 75.3 Q173.2 75.4 175.4 76.4" fill="none" stroke="#86ff86" stroke-width="0.9" stroke-linecap="round" opacity="0.45"/>
<path d="M182.7 75.4 Q185.6 76.0 187.8 75.9 Q190.4 75.6 192.9 75.1 Q195.8 76.0 197.9 74.9 Q201.2 74.9 203.0 74.0" fill="none" stroke="#16ee16" stroke-width="3.6" stroke-linecap="round" opacity="1"/>
<path d="M187.8 74.6 Q189.9 74.0 192.9 73.8 Q196.3 73.5 197.9 73.6" fill="none" stroke="#86ff86" stroke-width="1.0" stroke-linecap="round" opacity="0.45"/>
<path d="M2.9 80.9 Q7.0 79.9 12.4 80.5 Q17.8 79.8 21.8 78.0 Q27.4 76.9 31.3 77.6 Q36.5 76.4 40.8 76.0" fill="none" stroke="#16ee16" stroke-width="3.9" stroke-linecap="round" opacity="1"/>
<path d="M12.4 79.2 Q17.2 77.6 21.8 76.7 Q27.5 75.5 31.3 76.3" fill="none" stroke="#86ff86" stroke-width="1.1" stroke-linecap="round" opacity="0.45"/>
<path d="M45.6 80.9 Q50.3 81.1 54.2 81.7 Q58.5 81.2 62.8 80.2 Q67.5 80.3 71.4 81.1 Q76.0 81.3 80.0 81.3" fill="none" stroke="#16ee16" stroke-width="4.1" stroke-linecap="round" opacity="1"/>
<path d="M54.2 80.4 Q58.7 79.2 62.8 78.9 Q67.9 79.3 71.4 79.8" fill="none" stroke="#86ff86" stroke-width="0.9" stroke-linecap="round" opacity="0.45"/>
<path d="M84.6 80.2 Q88.6 79.6 91.3 80.0 Q93.9 81.4 97.9 81.5 Q101.1 81.4 104.5 80.7 Q108.5 81.4 111.2 80.6" fill="none" stroke="#16ee16" stroke-width="4.3" stroke-linecap="round" opacity="1"/>
<path d="M91.3 78.7 Q93.7 79.2 97.9 80.2 Q101.9 80.4 104.5 79.4" fill="none" stroke="#86ff86" stroke-width="1.2" stroke-linecap="round" opacity="0.45"/>
<path d="M112.8 79.9 Q114.8 81.1 117.2 80.2 Q119.8 80.4 121.6 80.8 Q123.8 81.0 126.1 80.0 Q128.8 79.1 130.5 79.6" fill="none" stroke="#16ee16" stroke-width="3.7" stroke-linecap="round" opacity="1"/>
<path d="M117.2 78.9 Q119.2 79.2 121.6 79.5 Q123.3 78.8 126.1 78.7" fill="none" stroke="#86ff86" stroke-width="1.1" stroke-linecap="round" opacity="0.45"/>
<path d="M133.2 80.1 Q135.7 79.7 139.0 80.2 Q142.5 78.5 144.8 78.5 Q147.9 79.0 150.5 78.1 Q152.8 78.1 156.3 78.5" fill="none" stroke="#16ee16" stroke-width="4.0" stroke-linecap="round" opacity="1"/>
<path d="M139.0 78.9 Q142.1 77.8 144.8 77.2 Q146.7 76.9 150.5 76.8" fill="none" stroke="#86ff86" stroke-width="1.2" stroke-linecap="round" opacity="0.45"/>
<path d="M159.2 80.5 Q163.9 80.0 166.9 80.6 Q171.8 81.0 174.7 80.6 Q178.3 80.3 182.5 79.3 Q186.0 78.3 190.3 79.0" fill="none" stroke="#16ee16" stroke-width="4.4" stroke-linecap="round" opacity="1"/>
<path d="M166.9 79.3 Q170.6 79.4 174.7 79.3 Q178.6 79.4 182.5 78.0" fill="none" stroke="#86ff86" stroke-width="1.2" stroke-linecap="round" opacity="0.45"/>
<path d="M195.0 80.7 Q196.8 80.7 198.7 80.7 Q200.6 81.8 202.4 81.6 Q204.5 81.7 206.0 80.8 Q207.6 80.0 209.7 81.0" fill="none" stroke="#16ee16" stroke-width="4.8" stroke-linecap="round" opacity="1"/>
<path d="M198.7 79.4 Q200.6 80.4 202.4 80.3 Q204.7 79.1 206.0 79.5" fill="none" stroke="#86ff86" stroke-width="1.1" stroke-linecap="round" opacity="0.45"/>
<path d="M16.3 85.1 Q17.5 85.1 20.5 84.4 Q22.4 83.8 24.6 82.9 Q27.6 84.0 28.7 83.8 Q31.5 82.9 32.8 83.4" fill="none" stroke="#16ee16" stroke-width="4.3" stroke-linecap="round" opacity="1"/>
<path d="M20.5 83.1 Q22.6 81.4 24.6 81.6 Q27.6 81.6 28.7 82.5" fill="none" stroke="#86ff86" stroke-width="1.0" stroke-linecap="round" opacity="0.45"/>
<path d="M35.1 85.4 Q38.5 85.5 40.5 84.4 Q43.9 83.7 45.9 84.0 Q48.0 82.9 51.2 83.5 Q54.0 82.8 56.6 82.5" fill="none" stroke="#16ee16" stroke-width="4.0" stroke-linecap="round" opacity="1"/>
<path d="M40.5 83.1 Q43.1 83.1 45.9 82.7 Q48.3 83.1 51.2 82.2" fill="none" stroke="#86ff86" stroke-width="1.0" stroke-linecap="round" opacity="0.45"/>
<path d="M58.6 83.7 Q62.7 84.7 67.6 84.4 Q71.7 85.1 76.6 85.0 Q81.8 85.1 85.7 84.8 Q90.1 85.9 94.7 85.3" fill="none" stroke="#16ee16" stroke-width="4.1" stroke-linecap="round" opacity="1"/>
<path d="M67.6 83.1 Q72.9 82.5 76.6 83.7 Q81.0 83.9 85.7 83.5" fill="none" stroke="#86ff86" stroke-width="1.0" stroke-linecap="round" opacity="0.45"/>
<path d="M95.9 84.8 Q100.6 84.3 104.6 83.1 Q108.5 82.8 113.3 83.7 Q118.3 82.2 122.0 82.1 Q127.1 81.3 130.6 81.7" fill="none" stroke="#16ee16" stroke-width="4.3" stroke-linecap="round" opacity="1"/>
<path d="M104.6 81.8 Q108.1 82.7 113.3 82.4 Q118.5 81.4 122.0 80.8" fill="none" stroke="#86ff86" stroke-width="0.9" stroke-linecap="round" opacity="0.45"/>
<path d="M134.9 85.0 Q137.0 84.2 140.0 84.4 Q142.7 84.2 145.0 84.7 Q147.7 84.9 150.1 86.5 Q153.4 85.7 155.1 85.7" fill="none" stroke="#16ee16" stroke-width="4.8" stroke-linecap="round" opacity="1"/>
<path d="M140.0 83.1 Q141.8 83.9 145.0 83.4 Q148.5 84.1 150.1 85.2" fill="none" stroke="#86ff86" stroke-width="1.2" stroke-linecap="round" opacity="0.45"/>
<path d="M156.3 84.1 Q159.5 83.7 162.1 84.9 Q165.6 83.8 167.8 84.2 Q171.6 85.7 173.6 85.2 Q177.4 85.6 179.4 85.9" fill="none" stroke="#16ee16" stroke-width="4.2" stroke-linecap="round" opacity="1"/>
<path d="M162.1 83.6 Q164.6 83.8 167.8 82.9 Q170.7 84.2 173.6 83.9" fill="none" stroke="#86ff86" stroke-width="0.9" stroke-linecap="round" opacity="0.45"/>
<path d="M180.9 84.8 Q184.8 84.5 187.3 85.3 Q191.3 84.2 193.7 84.9 Q197.1 86.2 200.1 85.6 Q203.0 86.9 206.5 86.4" fill="none" stroke="#16ee16" stroke-width="4.9" stroke-linecap="round" opacity="1"/>
<path d="M187.3 84.0 Q189.6 83.5 193.7 83.6 Q196.8 83.5 200.1 84.3" fill="none" stroke="#86ff86" stroke-width="1.1" stroke-linecap="round" opacity="0.45"/>
<path d="M15.8 88.8 Q17.5 88.1 21.0 87.3 Q22.9 87.8 26.3 87.7 Q28.2 87.8 31.6 87.6 Q34.0 86.9 36.9 86.7" fill="none" stroke="#16ee16" stroke-width="4.2" stroke-linecap="round" opacity="1"/>
<path d="M21.0 86.0 Q23.0 85.6 26.3 86.4 Q29.9 86.0 31.6 86.3" fill="none" stroke="#86ff86" stroke-width="1.1" stroke-linecap="round" opacity="0.45"/>
<path d="M42.1 88.0 Q45.7 87.8 50.9 87.8 Q54.6 88.7 59.6 89.4 Q64.0 88.3 68.3 87.8 Q72.1 88.0 77.1 88.5" fill="none" stroke="#16ee16" stroke-width="4.4" stroke-linecap="round" opacity="1"/>
<path d="M50.9 86.5 Q54.5 86.8 59.6 88.1 Q64.7 87.3 68.3 86.5" fill="none" stroke="#86ff86" stroke-width="0.9" stroke-linecap="round" opacity="0.45"/>
<path d="M82.5 88.7 Q83.6 88.7 86.1 89.7 Q87.0 89.4 89.7 89.6 Q91.6 89.5 93.3 90.2 Q95.9 89.1 96.9 89.7" fill="none" stroke="#16ee16" stroke-width="4.7" stroke-linecap="round" opacity="1"/>
<path d="M86.1 88.4 Q87.4 88.5 89.7 88.3 Q92.1 89.0 93.3 88.9" fill="none" stroke="#86ff86" stroke-width="1.1" stroke-linecap="round" opacity="0.45"/>
<path d="M98.2 89.7 Q101.3 88.7 103.2 87.9 Q106.5 87.6 108.2 89.2 Q111.5 89.1 113.1 89.4 Q115.4 88.8 118.1 89.8" fill="none" stroke="#16ee16" stroke-width="4.1" stroke-linecap="round" opacity="1"/>
<path d="M103.2 86.6 Q106.1 87.6 108.2 87.9 Q110.0 87.7 113.1 88.1" fill="none" stroke="#86ff86" stroke-width="0.9" stroke-linecap="round" opacity="0.45"/>
<path d="M119.8 88.4 Q122.7 89.7 124.5 89.3 Q127.3 89.5 129.2 89.1 Q130.9 88.9 133.9 88.3 Q136.9 88.4 138.6 87.4" fill="none" stroke="#16ee16" stroke-width="4.3" stroke-linecap="round" opacity="1"/>
<path d="M124.5 88.0 Q127.3 87.6 129.2 87.8 Q130.9 88.3 133.9 87.0" fill="none" stroke="#86ff86" stroke-width="0.8" stroke-linecap="round" opacity="0.45"/>
<path d="M142.9 89.3 Q147.1 89.0 150.9 88.9 Q155.5 89.1 158.9 88.1 Q163.6 87.2 166.9 87.1 Q171.8 86.9 174.8 86.6" fill="none" stroke="#16ee16" stroke-width="4.7" stroke-linecap="round" opacity="1"/>
<path d="M150.9 87.6 Q154.1 88.1 158.9 86.8 Q163.4 85.8 166.9 85.8" fill="none" stroke="#86ff86" stroke-width="1.3" stroke-linecap="round" opacity="0.45"/>
<path d="M180.0 88.6 Q182.2 88.8 184.9 87.8 Q187.9 88.3 189.8 88.0 Q193.1 88.9 194.7 88.4 Q197.0 87.2 199.6 87.6" fill="none" stroke="#16ee16" stroke-width="4.6" stroke-linecap="round" opacity="1"/>
<path d="M184.9 86.5 Q188.0 86.3 189.8 86.7 Q192.4 87.6 194.7 87.1" fill="none" stroke="#86ff86" stroke-width="1.1" stroke-linecap="round" opacity="0.45"/>
<path d="M9.8 93.1 Q11.3 93.2 13.4 92.0 Q15.4 91.6 17.0 92.0 Q18.0 91.3 20.6 91.4 Q22.8 91.0 24.2 90.8" fill="none" stroke="#16ee16" stroke-width="3.9" stroke-linecap="round" opacity="1"/>
<path d="M13.4 90.7 Q15.8 90.0 17.0 90.7 Q19.1 89.5 20.6 90.1" fill="none" stroke="#86ff86" stroke-width="1.1" stroke-linecap="round" opacity="0.45"/>
<path d="M29.3 93.4 Q31.4 92.7 33.9 92.0 Q37.1 91.7 38.5 91.4 Q41.8 91.4 43.1 92.5 Q46.1 91.4 47.7 91.7" fill="none" stroke="#16ee16" stroke-width="4.9" stroke-linecap="round" opacity="1"/>
<path d="M33.9 90.7 Q35.2 89.8 38.5 90.1 Q41.7 90.6 43.1 91.2" fill="none" stroke="#86ff86" stroke-width="1.1" stroke-linecap="round" opacity="0.45"/>
<path d="M52.8 91.7 Q56.0 92.4 57.8 92.4 Q59.4 92.9 62.8 92.9 Q65.2 93.3 67.8 92.0 Q70.0 92.1 72.8 91.5" fill="none" stroke="#16ee16" stroke-width="4.9" stroke-linecap="round" opacity="1"/>
<path d="M57.8 91.1 Q60.0 91.4 62.8 91.6 Q65.6 91.9 67.8 90.7" fill="none" stroke="#86ff86" stroke-width="1.1" stroke-linecap="round" opacity="0.45"/>
<path d="M76.3 91.6 Q79.9 93.2 81.9 93.8 Q85.3 93.1 87.6 94.2 Q90.1 93.6 93.3 94.6 Q97.1 95.6 99.0 95.0" fill="none" stroke="#16ee16" stroke-width="4.7" stroke-linecap="round" opacity="1"/>
<path d="M81.9 92.5 Q85.0 92.8 87.6 92.9 Q89.6 92.8 93.3 93.3" fill="none" stroke="#86ff86" stroke-width="0.9" stroke-linecap="round" opacity="0.45"/>
<path d="M103.7 93.0 Q108.0 92.7 111.1 91.7 Q114.5 92.7 118.4 91.8 Q122.5 91.9 125.8 91.2 Q129.0 90.9 133.1 91.9" fill="none" stroke="#16ee16" stroke-width="4.5" stroke-linecap="round" opacity="1"/>
<path d="M111.1 90.4 Q115.4 91.0 118.4 90.5 Q121.8 89.5 125.8 89.9" fill="none" stroke="#86ff86" stroke-width="1.1" stroke-linecap="round" opacity="0.45"/>
<path d="M136.7 93.0 Q142.0 93.0 145.5 91.1 Q149.2 90.5 154.2 90.7 Q159.5 89.5 163.0 89.5 Q167.0 89.2 171.8 89.3" fill="none" stroke="#16ee16" stroke-width="4.1" stroke-linecap="round" opacity="1"/>
<path d="M145.5 89.8 Q149.4 89.4 154.2 89.4 Q158.4 89.7 163.0 88.2" fill="none" stroke="#86ff86" stroke-width="0.9" stroke-linecap="round" opacity="0.45"/>
<path d="M174.1 92.4 Q177.0 93.0 178.8 93.6 Q181.3 94.0 183.5 93.7 Q186.4 93.6 188.3 94.4 Q190.4 95.0 193.0 94.0" fill="none" stroke="#16ee16" stroke-width="3.8" stroke-linecap="round" opacity="1"/>
<path d="M178.8 92.3 Q180.8 92.6 183.5 92.4 Q185.4 93.3 188.3 93.1" fill="none" stroke="#86ff86" stroke-width="1.1" stroke-linecap="round" opacity="0.45"/>
<path d="M194.2 92.2 Q198.9 93.2 202.7 93.5 Q206.7 93.5 211.1 92.3 Q214.6 92.0 219.6 92.4 Q224.1 93.2 228.0 92.2" fill="none" stroke="#16ee16" stroke-width="4.4" stroke-linecap="round" opacity="1"/>
<path d="M202.7 92.2 Q207.3 92.2 211.1 91.0 Q215.1 91.9 219.6 91.1" fill="none" stroke="#86ff86" stroke-width="1.1" stroke-linecap="round" opacity="0.45"/>
<path d="M7.9 96.1 Q11.3 96.4 16.2 97.2 Q19.5 96.6 24.5 96.2 Q28.7 96.8 32.9 95.9 Q37.4 96.1 41.2 95.9" fill="none" stroke="#16ee16" stroke-width="4.9" stroke-linecap="round" opacity="1"/>
<path d="M16.2 95.9 Q20.5 95.0 24.5 94.9 Q29.4 95.4 32.9 94.6" fill="none" stroke="#86ff86" stroke-width="1.0" stroke-linecap="round" opacity="0.45"/>
<path d="M46.4 97.3 Q48.9 97.9 50.8 97.0 Q52.3 97.9 55.2 97.9 Q57.8 98.3 59.6 98.1 Q61.4 97.2 64.0 98.0" fill="none" stroke="#16ee16" stroke-width="4.7" stroke-linecap="round" opacity="1"/>
<path d="M50.8 95.7 Q53.6 95.7 55.2 96.6 Q56.8 96.2 59.6 96.8" fill="none" stroke="#86ff86" stroke-width="1.1" stroke-linecap="round" opacity="0.45"/>
<path d="M65.5 97.4 Q68.3 97.6 73.0 97.4 Q76.1 97.7 80.6 98.9 Q83.5 98.6 88.1 98.5 Q92.0 100.3 95.7 100.9" fill="none" stroke="#16ee16" stroke-width="4.1" stroke-linecap="round" opacity="1"/>
<path d="M73.0 96.1 Q77.5 96.0 80.6 97.6 Q83.8 97.7 88.1 97.2" fill="none" stroke="#86ff86" stroke-width="0.8" stroke-linecap="round" opacity="0.45"/>
<path d="M98.4 96.2 Q100.2 97.4 103.9 97.5 Q105.7 96.9 109.4 96.4 Q112.0 96.2 114.9 97.7 Q117.9 98.2 120.3 97.8" fill="none" stroke="#16ee16" stroke-width="4.4" stroke-linecap="round" opacity="1"/>
<path d="M103.9 96.2 Q106.4 95.6 109.4 95.1 Q112.3 95.2 114.9 96.4" fill="none" stroke="#86ff86" stroke-width="1.1" stroke-linecap="round" opacity="0.45"/>
<path d="M125.7 97.7 Q130.3 97.8 135.2 97.1 Q140.3 98.0 144.6 99.1 Q149.1 97.9 154.1 98.0 Q158.7 98.3 163.6 99.5" fill="none" stroke="#16ee16" stroke-width="3.8" stroke-linecap="round" opacity="1"/>
<path d="M135.2 95.8 Q140.4 96.9 144.6 97.8 Q149.2 96.7 154.1 96.7" fill="none" stroke="#86ff86" stroke-width="0.9" stroke-linecap="round" opacity="0.45"/>
<path d="M168.1 96.9 Q170.9 97.3 172.8 96.9 Q174.2 96.5 177.5 97.2 Q178.8 97.6 182.1 96.5 Q184.9 96.8 186.8 96.6" fill="none" stroke="#16ee16" stroke-width="4.9" stroke-linecap="round" opacity="1"/>
<path d="M172.8 95.6 Q174.8 95.1 177.5 95.9 Q180.1 96.5 182.1 95.2" fill="none" stroke="#86ff86" stroke-width="0.9" stroke-linecap="round" opacity="0.45"/>
<path d="M189.4 96.5 Q190.5 97.4 193.1 97.3 Q194.9 98.0 196.9 96.8 Q199.6 96.9 200.6 95.8 Q202.5 95.9 204.4 94.8" fill="none" stroke="#16ee16" stroke-width="3.7" stroke-linecap="round" opacity="1"/>
<path d="M193.1 96.0 Q194.2 95.9 196.9 95.5 Q198.8 94.4 200.6 94.5" fill="none" stroke="#86ff86" stroke-width="0.9" stroke-linecap="round" opacity="0.45"/>
<path d="M18.2 101.6 Q21.3 100.5 25.9 101.3 Q29.2 102.2 33.7 102.7 Q37.3 101.8 41.5 102.9 Q46.0 104.3 49.2 104.5" fill="none" stroke="#16ee16" stroke-width="4.8" stroke-linecap="round" opacity="1"/>
<path d="M25.9 100.0 Q28.9 101.5 33.7 101.4 Q37.6 100.6 41.5 101.6" fill="none" stroke="#86ff86" stroke-width="1.0" stroke-linecap="round" opacity="0.45"/>
<path d="M51.8 100.6 Q54.7 101.2 59.1 101.6 Q62.0 100.9 66.3 101.4 Q69.9 101.9 73.6 102.1 Q77.5 103.5 80.8 104.1" fill="none" stroke="#16ee16" stroke-width="4.1" stroke-linecap="round" opacity="1"/>
<path d="M59.1 100.3 Q61.8 100.6 66.3 100.1 Q69.1 100.4 73.6 100.8" fill="none" stroke="#86ff86" stroke-width="1.0" stroke-linecap="round" opacity="0.45"/>
<path d="M83.8 100.1 Q87.8 99.8 91.4 101.3 Q94.6 102.5 98.9 101.8 Q102.1 101.5 106.4 101.7 Q110.8 102.2 114.0 101.4" fill="none" stroke="#16ee16" stroke-width="4.9" stroke-linecap="round" opacity="1"/>
<path d="M91.4 100.0 Q95.6 99.3 98.9 100.5 Q101.9 101.4 106.4 100.4" fill="none" stroke="#86ff86" stroke-width="1.1" stroke-linecap="round" opacity="0.45"/>
<path d="M119.0 100.1 Q121.7 100.1 122.7 101.1 Q123.9 99.2 126.5 99.2 Q128.8 98.7 130.2 99.7 Q133.0 100.2 133.9 99.9" fill="none" stroke="#16ee16" stroke-width="4.5" stroke-linecap="round" opacity="1"/>
<path d="M122.7 99.8 Q125.2 98.2 126.5 97.9 Q128.3 97.4 130.2 98.4" fill="none" stroke="#86ff86" stroke-width="0.9" stroke-linecap="round" opacity="0.45"/>
<path d="M138.8 99.6 Q143.4 101.5 147.7 102.2 Q151.3 101.4 156.5 102.5 Q161.0 102.8 165.4 103.9 Q169.6 103.0 174.2 104.1" fill="none" stroke="#16ee16" stroke-width="4.5" stroke-linecap="round" opacity="1"/>
<path d="M147.7 100.9 Q151.1 101.7 156.5 101.2 Q161.6 101.8 165.4 102.6" fill="none" stroke="#86ff86" stroke-width="1.2" stroke-linecap="round" opacity="0.45"/>
<path d="M175.8 100.5 Q180.0 100.6 183.2 99.3 Q187.6 99.1 190.6 100.5 Q194.0 99.4 198.0 99.1 Q202.2 98.0 205.4 98.2" fill="none" stroke="#16ee16" stroke-width="3.7" stroke-linecap="round" opacity="1"/>
<path d="M183.2 98.0 Q187.9 99.2 190.6 99.2 Q193.3 97.7 198.0 97.8" fill="none" stroke="#86ff86" stroke-width="1.1" stroke-linecap="round" opacity="0.45"/>
<path d="M12.0 105.2 Q16.1 106.0 18.6 105.5 Q22.3 104.6 25.2 105.5 Q28.9 106.5 31.8 106.0 Q35.0 106.5 38.5 105.6" fill="none" stroke="#16ee16" stroke-width="4.7" stroke-linecap="round" opacity="1"/>
<path d="M18.6 104.2 Q22.8 104.1 25.2 104.2 Q28.9 104.0 31.8 104.7" fill="none" stroke="#86ff86" stroke-width="0.9" stroke-linecap="round" opacity="0.45"/>
<path d="M41.0 104.6 Q44.4 105.8 46.6 105.0 Q49.9 105.0 52.1 105.9 Q54.4 105.2 57.7 105.0 Q59.6 104.6 63.3 105.3" fill="none" stroke="#16ee16" stroke-width="4.7" stroke-linecap="round" opacity="1"/>
<path d="M46.6 103.7 Q50.2 103.8 52.1 104.6 Q55.5 104.7 57.7 103.7" fill="none" stroke="#86ff86" stroke-width="1.2" stroke-linecap="round" opacity="0.45"/>
<path d="M68.8 104.6 Q73.8 104.7 77.0 106.1 Q81.2 105.9 85.3 105.1 Q89.5 106.4 93.6 105.8 Q97.5 106.4 101.8 105.4" fill="none" stroke="#16ee16" stroke-width="4.4" stroke-linecap="round" opacity="1"/>
<path d="M77.0 104.8 Q82.1 103.5 85.3 103.8 Q88.9 103.7 93.6 104.5" fill="none" stroke="#86ff86" stroke-width="1.1" stroke-linecap="round" opacity="0.45"/>
<path d="M107.4 105.8 Q109.7 106.5 111.0 106.1 Q112.2 104.7 114.5 104.3 Q115.4 104.9 118.1 104.6 Q119.3 104.3 121.7 104.9" fill="none" stroke="#16ee16" stroke-width="4.6" stroke-linecap="round" opacity="1"/>
<path d="M111.0 104.8 Q113.0 104.1 114.5 103.0 Q116.6 103.4 118.1 103.3" fill="none" stroke="#86ff86" stroke-width="1.3" stroke-linecap="round" opacity="0.45"/>
<path d="M126.2 104.5 Q129.8 104.6 131.5 103.8 Q133.7 104.5 136.8 104.0 Q138.8 102.7 142.1 103.0 Q144.4 102.5 147.5 102.4" fill="none" stroke="#16ee16" stroke-width="4.3" stroke-linecap="round" opacity="1"/>
<path d="M131.5 102.5 Q134.1 103.1 136.8 102.7 Q138.7 103.1 142.1 101.7" fill="none" stroke="#86ff86" stroke-width="1.1" stroke-linecap="round" opacity="0.45"/>
<path d="M150.2 106.0 Q153.5 104.3 158.7 103.9 Q163.7 103.3 167.2 104.2 Q171.7 103.8 175.7 103.1 Q180.2 101.9 184.2 101.9" fill="none" stroke="#16ee16" stroke-width="4.0" stroke-linecap="round" opacity="1"/>
<path d="M158.7 102.6 Q162.1 103.7 167.2 102.9 Q171.2 102.6 175.7 101.8" fill="none" stroke="#86ff86" stroke-width="0.9" stroke-linecap="round" opacity="0.45"/>
<path d="M188.0 104.4 Q189.7 105.6 192.8 105.6 Q194.8 104.3 197.7 103.6 Q200.2 103.4 202.5 104.8 Q204.4 104.5 207.4 103.1" fill="none" stroke="#16ee16" stroke-width="4.6" stroke-linecap="round" opacity="1"/>
<path d="M192.8 104.3 Q195.0 103.8 197.7 102.3 Q199.6 102.3 202.5 103.5" fill="none" stroke="#86ff86" stroke-width="0.9" stroke-linecap="round" opacity="0.45"/>
<path d="M7.3 110.5 Q10.9 108.8 14.7 108.8 Q18.2 109.8 22.0 109.9 Q24.9 109.3 29.4 110.2 Q33.0 109.0 36.7 109.0" fill="none" stroke="#16ee16" stroke-width="3.6" stroke-linecap="round" opacity="1"/>
<path d="M14.7 107.5 Q18.2 107.3 22.0 108.6 Q24.8 108.5 29.4 108.9" fill="none" stroke="#86ff86" stroke-width="0.9" stroke-linecap="round" opacity="0.45"/>
<path d="M40.0 108.9 Q45.3 108.3 49.2 109.3 Q54.6 109.9 58.3 110.4 Q62.3 109.7 67.4 110.2 Q72.7 110.0 76.5 110.9" fill="none" stroke="#16ee16" stroke-width="4.9" stroke-linecap="round" opacity="1"/>
<path d="M49.2 108.0 Q53.3 109.4 58.3 109.1 Q62.8 109.5 67.4 108.9" fill="none" stroke="#86ff86" stroke-width="0.8" stroke-linecap="round" opacity="0.45"/>
<path d="M77.9 109.1 Q80.4 108.5 84.1 109.8 Q87.5 109.4 90.3 108.9 Q92.5 108.5 96.6 108.1 Q100.1 108.9 102.8 109.6" fill="none" stroke="#16ee16" stroke-width="4.3" stroke-linecap="round" opacity="1"/>
<path d="M84.1 108.5 Q87.2 108.2 90.3 107.6 Q93.7 106.5 96.6 106.8" fill="none" stroke="#86ff86" stroke-width="0.9" stroke-linecap="round" opacity="0.45"/>
<path d="M107.8 110.4 Q113.2 109.4 117.0 110.0 Q121.0 109.8 126.1 111.6 Q130.6 110.4 135.3 110.7 Q139.3 111.5 144.5 111.3" fill="none" stroke="#16ee16" stroke-width="4.4" stroke-linecap="round" opacity="1"/>
<path d="M117.0 108.7 Q122.4 109.3 126.1 110.3 Q131.1 108.8 135.3 109.4" fill="none" stroke="#86ff86" stroke-width="1.1" stroke-linecap="round" opacity="0.45"/>
<path d="M150.2 109.7 Q153.3 109.6 155.1 110.6 Q158.6 110.0 160.0 109.6 Q161.9 111.1 164.9 110.6 Q167.0 110.0 169.8 109.8" fill="none" stroke="#16ee16" stroke-width="3.9" stroke-linecap="round" opacity="1"/>
<path d="M155.1 109.3 Q157.9 107.9 160.0 108.3 Q162.2 108.2 164.9 109.3" fill="none" stroke="#86ff86" stroke-width="1.0" stroke-linecap="round" opacity="0.45"/>
<path d="M175.0 109.2 Q175.9 110.4 178.5 109.7 Q179.5 109.1 182.0 110.0 Q183.8 110.4 185.5 110.4 Q188.0 109.0 189.0 109.4" fill="none" stroke="#16ee16" stroke-width="3.9" stroke-linecap="round" opacity="1"/>
<path d="M178.5 108.4 Q179.5 108.7 182.0 108.7 Q183.6 108.7 185.5 109.1" fill="none" stroke="#86ff86" stroke-width="0.9" stroke-linecap="round" opacity="0.45"/>
<path d="M194.4 110.6 Q197.3 109.3 201.9 109.9 Q205.2 110.5 209.3 111.9 Q214.0 112.4 216.8 111.5 Q220.4 111.5 224.3 111.4" fill="none" stroke="#16ee16" stroke-width="4.9" stroke-linecap="round" opacity="1"/>
<path d="M201.9 108.6 Q206.2 109.9 209.3 110.6 Q213.1 109.6 216.8 110.2" fill="none" stroke="#86ff86" stroke-width="1.2" stroke-linecap="round" opacity="0.45"/>
<path d="M11.7 115.4 Q16.3 114.5 20.0 114.6 Q23.7 114.6 28.3 115.2 Q32.5 116.8 36.6 117.6 Q39.9 118.2 45.0 117.8" fill="none" stroke="#16ee16" stroke-width="3.9" stroke-linecap="round" opacity="1"/>
<path d="M20.0 113.3 Q24.1 113.9 28.3 113.9 Q33.1 114.1 36.6 116.3" fill="none" stroke="#86ff86" stroke-width="1.1" stroke-linecap="round" opacity="0.45"/>
<path d="M48.3 114.7 Q53.0 113.9 55.9 114.2 Q59.5 116.1 63.5 116.1 Q68.0 115.6 71.0 116.1 Q75.3 115.5 78.6 115.4" fill="none" stroke="#16ee16" stroke-width="4.2" stroke-linecap="round" opacity="1"/>
<path d="M55.9 112.9 Q60.2 113.1 63.5 114.8 Q66.7 114.3 71.0 114.8" fill="none" stroke="#86ff86" stroke-width="1.1" stroke-linecap="round" opacity="0.45"/>
<path d="M80.9 114.2 Q82.5 114.5 84.6 114.0 Q86.4 112.8 88.4 112.9 Q90.2 112.3 92.1 113.6 Q94.3 113.1 95.8 114.0" fill="none" stroke="#16ee16" stroke-width="4.4" stroke-linecap="round" opacity="1"/>
<path d="M84.6 112.7 Q87.4 112.7 88.4 111.6 Q90.9 112.3 92.1 112.3" fill="none" stroke="#86ff86" stroke-width="1.0" stroke-linecap="round" opacity="0.45"/>
<path d="M100.0 113.8 Q104.5 115.6 107.7 115.8 Q111.7 115.2 115.4 115.8 Q118.3 116.2 123.1 116.5 Q127.5 117.1 130.9 118.5" fill="none" stroke="#16ee16" stroke-width="4.4" stroke-linecap="round" opacity="1"/>
<path d="M107.7 114.5 Q110.6 113.8 115.4 114.5 Q119.7 113.9 123.1 115.2" fill="none" stroke="#86ff86" stroke-width="0.8" stroke-linecap="round" opacity="0.45"/>
<path d="M133.0 115.4 Q135.2 114.6 138.1 113.7 Q140.3 113.8 143.2 114.2 Q145.7 114.6 148.3 116.1 Q150.0 115.4 153.4 116.4" fill="none" stroke="#16ee16" stroke-width="3.8" stroke-linecap="round" opacity="1"/>
<path d="M138.1 112.4 Q139.8 112.9 143.2 112.9 Q146.1 113.4 148.3 114.8" fill="none" stroke="#86ff86" stroke-width="0.9" stroke-linecap="round" opacity="0.45"/>
<path d="M158.3 114.4 Q162.7 113.7 166.2 113.5 Q170.6 113.6 174.1 114.7 Q178.6 114.8 182.0 113.7 Q185.1 113.2 189.8 112.3" fill="none" stroke="#16ee16" stroke-width="3.8" stroke-linecap="round" opacity="1"/>
<path d="M166.2 112.2 Q170.6 113.4 174.1 113.4 Q178.6 112.3 182.0 112.4" fill="none" stroke="#86ff86" stroke-width="0.9" stroke-linecap="round" opacity="0.45"/>
<path d="M191.3 113.7 Q194.6 113.7 198.8 113.9 Q202.6 114.8 206.3 114.8 Q209.1 114.9 213.7 114.0 Q216.9 114.2 221.2 115.2" fill="none" stroke="#16ee16" stroke-width="3.9" stroke-linecap="round" opacity="1"/>
<path d="M198.8 112.6 Q202.9 113.3 206.3 113.5 Q210.8 112.5 213.7 112.7" fill="none" stroke="#86ff86" stroke-width="1.1" stroke-linecap="round" opacity="0.45"/>
<path d="M37.6 130.3 Q37.3 134.2 35.9 138.9 Q37.7 142.2 40.2 144.6" fill="none" stroke="#006000" stroke-width="1.4" stroke-linecap="round" opacity="0.45"/>
<path d="M122.5 115.9 Q122.1 118.0 120.1 120.2 Q120.7 122.7 122.6 126.8" fill="none" stroke="#006000" stroke-width="1.4" stroke-linecap="round" opacity="0.45"/>
<path d="M106.0 147.5 Q104.7 151.4 105.2 155.8 Q105.7 158.5 106.2 162.1" fill="none" stroke="#006000" stroke-width="1.0" stroke-linecap="round" opacity="0.45"/>
<path d="M49.7 158.8 Q49.1 163.1 48.6 165.7 Q50.9 169.8 51.4 173.4" fill="none" stroke="#006000" stroke-width="1.1" stroke-linecap="round" opacity="0.45"/>
<path d="M93.7 119.3 Q93.3 122.1 94.5 125.0 Q92.5 129.7 90.0 135.2" fill="none" stroke="#006000" stroke-width="1.4" stroke-linecap="round" opacity="0.45"/>
<path d="M149.1 116.8 Q150.9 119.2 150.8 123.4 Q147.9 126.8 145.8 129.2" fill="none" stroke="#006000" stroke-width="0.9" stroke-linecap="round" opacity="0.45"/>
<path d="M28.0 121.5 Q26.1 124.5 25.5 126.4 Q26.7 131.1 28.3 136.5" fill="none" stroke="#006000" stroke-width="1.0" stroke-linecap="round" opacity="0.45"/>
<path d="M53.7 120.6 Q55.9 122.9 56.5 125.3 Q55.0 130.4 51.7 135.1" fill="none" stroke="#006000" stroke-width="1.3" stroke-linecap="round" opacity="0.45"/>
<path d="M95.5 132.2 Q95.3 137.0 96.8 140.6 Q94.3 141.5 92.5 143.4" fill="none" stroke="#006000" stroke-width="1.4" stroke-linecap="round" opacity="0.45"/>
<path d="M96.2 129.9 Q98.2 132.0 99.2 134.8 Q98.5 138.1 99.0 141.8" fill="none" stroke="#006000" stroke-width="1.0" stroke-linecap="round" opacity="0.45"/>
<path d="M170.3 169.5 Q171.4 171.2 170.7 173.6 Q172.2 179.0 172.4 183.2" fill="none" stroke="#006000" stroke-width="1.3" stroke-linecap="round" opacity="0.45"/>
<path d="M76.8 130.6 Q77.2 133.5 76.0 136.7 Q76.2 139.8 75.8 141.3" fill="none" stroke="#006000" stroke-width="1.0" stroke-linecap="round" opacity="0.45"/>
<path d="M53.9 164.9 Q55.8 168.8 56.5 173.7 Q57.5 176.2 57.9 179.3" fill="none" stroke="#006000" stroke-width="1.3" stroke-linecap="round" opacity="0.45"/>
<path d="M33.1 170.8 Q33.9 174.5 33.4 176.8 Q33.8 180.7 35.7 182.9" fill="none" stroke="#006000" stroke-width="1.3" stroke-linecap="round" opacity="0.45"/>
<path d="M135.3 164.1 Q135.4 166.8 136.2 168.4 Q137.8 173.6 138.2 177.4" fill="none" stroke="#006000" stroke-width="1.1" stroke-linecap="round" opacity="0.45"/>
<path d="M72.0 127.0 Q70.7 128.4 70.5 131.6 Q69.7 134.9 70.6 137.1" fill="none" stroke="#006000" stroke-width="1.3" stroke-linecap="round" opacity="0.45"/>
<path d="M94.9 125.9 Q95.4 130.2 94.3 134.7 Q97.2 136.7 98.5 137.8" fill="none" stroke="#006000" stroke-width="1.2" stroke-linecap="round" opacity="0.45"/>
<path d="M172.3 133.8 Q172.5 136.0 172.7 138.4 Q173.6 143.9 173.0 148.8" fill="none" stroke="#006000" stroke-width="1.2" stroke-linecap="round" opacity="0.45"/>
<path d="M76.1 126.6 Q74.8 131.6 75.3 136.3 Q76.4 137.2 77.7 137.3" fill="none" stroke="#006000" stroke-width="1.4" stroke-linecap="round" opacity="0.45"/>
<path d="M25.4 142.1 Q25.9 147.1 25.5 151.0 Q26.0 153.3 27.7 154.2" fill="none" stroke="#006000" stroke-width="1.0" stroke-linecap="round" opacity="0.45"/>
<path d="M89.5 181.5 Q88.8 186.1 88.8 189.7 Q90.2 191.3 92.9 192.7" fill="none" stroke="#006000" stroke-width="1.1" stroke-linecap="round" opacity="0.45"/>
<path d="M133.7 147.0 Q132.0 152.7 131.5 156.8 Q134.7 159.1 137.7 160.4" fill="none" stroke="#006000" stroke-width="1.3" stroke-linecap="round" opacity="0.45"/>
<path d="M76.0 172.8 Q78.1 176.3 78.5 178.0 Q75.4 182.8 72.2 185.8" fill="none" stroke="#006000" stroke-width="1.3" stroke-linecap="round" opacity="0.45"/>
<path d="M35.0 151.2 Q35.0 155.4 35.8 160.0 Q35.1 162.4 34.4 164.8" fill="none" stroke="#006000" stroke-width="1.0" stroke-linecap="round" opacity="0.45"/>
<path d="M9.1 118.5 Q8.6 122.0 8.1 126.8 Q9.8 129.1 11.1 129.9" fill="none" stroke="#006000" stroke-width="1.0" stroke-linecap="round" opacity="0.45"/>
<path d="M118.1 126.1 Q119.4 131.2 119.4 134.6 Q118.7 138.4 119.8 140.4" fill="none" stroke="#006000" stroke-width="1.0" stroke-linecap="round" opacity="0.45"/>
<path d="M24.2 143.0 Q23.2 148.4 21.6 151.8 Q23.3 153.3 25.7 153.8" fill="none" stroke="#006000" stroke-width="1.1" stroke-linecap="round" opacity="0.45"/>
<path d="M45.4 129.2 Q43.8 131.6 43.4 135.6 Q44.2 137.9 46.3 141.0" fill="none" stroke="#006000" stroke-width="1.0" stroke-linecap="round" opacity="0.45"/>
<path d="M42.5 147.3 Q42.4 150.0 42.4 154.0 Q44.5 156.4 46.3 160.2" fill="none" stroke="#006000" stroke-width="1.4" stroke-linecap="round" opacity="0.45"/>
<path d="M21.8 123.8 Q22.1 129.1 23.0 133.6 Q21.8 134.1 21.0 136.0" fill="none" stroke="#006000" stroke-width="1.1" stroke-linecap="round" opacity="0.45"/>
<path d="M115.6 172.5 Q115.0 176.9 112.7 181.6 Q114.9 182.7 117.5 184.6" fill="none" stroke="#006000" stroke-width="1.2" stroke-linecap="round" opacity="0.45"/>
<path d="M132.6 150.8 Q133.9 155.8 134.0 160.5 Q132.2 161.4 129.8 163.0" fill="none" stroke="#006000" stroke-width="1.3" stroke-linecap="round" opacity="0.45"/>
<path d="M111.3 178.1 Q110.0 180.3 110.7 183.2 Q109.4 188.4 108.2 193.5" fill="none" stroke="#006000" stroke-width="1.3" stroke-linecap="round" opacity="0.45"/>
<path d="M176.3 137.4 Q175.5 140.8 175.4 144.6 Q177.8 148.5 179.7 151.3" fill="none" stroke="#006000" stroke-width="1.1" stroke-linecap="round" opacity="0.45"/>
<path d="M77.7 130.2 Q77.0 134.0 77.0 136.4 Q78.3 140.3 81.0 143.5" fill="none" stroke="#006000" stroke-width="1.0" stroke-linecap="round" opacity="0.45"/>
<path d="M44.3 113.5 Q42.5 118.4 41.7 122.4 Q42.0 124.4 41.5 124.9" fill="none" stroke="#006000" stroke-width="0.9" stroke-linecap="round" opacity="0.45"/>
<path d="M111.6 178.3 Q113.3 181.3 114.1 182.8 Q114.3 186.0 115.0 190.9" fill="none" stroke="#006000" stroke-width="1.0" stroke-linecap="round" opacity="0.45"/>
<path d="M149.7 173.1 Q149.0 178.5 150.2 183.0 Q148.4 182.4 146.0 183.4" fill="none" stroke="#006000" stroke-width="1.0" stroke-linecap="round" opacity="0.45"/>
<path d="M42.0 123.3 Q42.2 127.1 42.7 131.4 Q43.7 132.9 45.8 135.5" fill="none" stroke="#006000" stroke-width="1.4" stroke-linecap="round" opacity="0.45"/>
<path d="M195.0 180.2 Q196.1 181.9 196.3 185.3 Q194.4 188.6 192.5 191.1" fill="none" stroke="#006000" stroke-width="1.1" stroke-linecap="round" opacity="0.45"/>
<path d="M90.6 114.3 Q91.2 117.9 92.4 121.8 Q92.2 126.4 90.3 129.6" fill="none" stroke="#006000" stroke-width="1.2" stroke-linecap="round" opacity="0.45"/>
<path d="M113.4 176.0 Q113.0 179.1 111.3 181.1 Q111.9 184.6 112.5 190.2" fill="none" stroke="#006000" stroke-width="0.9" stroke-linecap="round" opacity="0.45"/>
<path d="M85.9 167.9 Q87.3 172.4 86.9 175.3 Q87.5 177.4 87.7 180.3" fill="none" stroke="#006000" stroke-width="1.4" stroke-linecap="round" opacity="0.45"/>
<path d="M58.6 138.4 Q60.1 142.4 61.0 147.1 Q61.4 149.7 60.9 153.3" fill="none" stroke="#006000" stroke-width="1.4" stroke-linecap="round" opacity="0.45"/>
<path d="M37.8 154.8 Q39.7 158.7 39.9 161.7 Q37.3 166.5 36.0 170.3" fill="none" stroke="#006000" stroke-width="0.9" stroke-linecap="round" opacity="0.45"/>
<path d="M173.1 89.0 Q176.3 88.4 181.0 88.7 Q185.0 88.3 190.6 86.5" fill="none" stroke="#006000" stroke-width="1.0" stroke-linecap="round" opacity="0.45"/>
<path d="M140.2 81.9 Q143.8 81.7 146.5 82.8 Q151.2 80.7 155.4 79.4" fill="none" stroke="#006000" stroke-width="0.9" stroke-linecap="round" opacity="0.45"/>
<path d="M175.4 78.0 Q180.8 78.9 185.1 80.0 Q187.7 79.0 188.8 78.4" fill="none" stroke="#006000" stroke-width="1.0" stroke-linecap="round" opacity="0.45"/>
<path d="M94.0 109.3 Q97.8 109.9 99.6 110.3 Q102.9 109.6 105.2 110.4" fill="none" stroke="#006000" stroke-width="0.7" stroke-linecap="round" opacity="0.45"/>
<path d="M76.5 92.4 Q80.4 93.8 82.8 93.7 Q83.9 92.9 86.8 92.3" fill="none" stroke="#006000" stroke-width="0.7" stroke-linecap="round" opacity="0.45"/>
<path d="M138.8 83.3 Q143.8 82.3 147.4 82.7 Q151.2 82.1 156.3 81.4" fill="none" stroke="#006000" stroke-width="0.8" stroke-linecap="round" opacity="0.45"/>
<path d="M37.8 76.2 Q42.1 76.9 47.5 76.1 Q51.0 76.3 54.1 74.7" fill="none" stroke="#006000" stroke-width="1.1" stroke-linecap="round" opacity="0.45"/>
<path d="M122.8 99.6 Q127.3 100.7 130.5 101.1 Q133.9 98.6 136.4 97.2" fill="none" stroke="#006000" stroke-width="1.1" stroke-linecap="round" opacity="0.45"/>
<path d="M157.8 83.0 Q162.5 83.2 167.6 84.7 Q167.6 84.4 169.1 84.1" fill="none" stroke="#006000" stroke-width="0.9" stroke-linecap="round" opacity="0.45"/>
<path d="M56.7 84.6 Q60.9 84.5 63.6 84.8 Q69.1 86.0 72.8 85.2" fill="none" stroke="#006000" stroke-width="0.8" stroke-linecap="round" opacity="0.45"/>
<path d="M114.0 65.6 Q118.3 64.6 123.8 65.1 Q125.7 65.0 128.4 64.5" fill="none" stroke="#006000" stroke-width="0.7" stroke-linecap="round" opacity="0.45"/>
<path d="M180.6 88.4 Q185.5 88.5 189.0 87.9 Q193.3 88.7 198.2 89.2" fill="none" stroke="#006000" stroke-width="0.9" stroke-linecap="round" opacity="0.45"/>
<path d="M184.4 74.2 Q186.9 75.2 190.6 76.1 Q192.0 74.4 194.9 71.3" fill="none" stroke="#006000" stroke-width="0.9" stroke-linecap="round" opacity="0.45"/>
<path d="M132.5 94.1 Q136.4 95.0 142.2 96.1 Q146.0 95.4 148.0 95.4" fill="none" stroke="#006000" stroke-width="0.7" stroke-linecap="round" opacity="0.45"/>
<path d="M9.6 88.7 Q12.6 88.9 16.7 90.3 Q21.2 89.7 24.3 90.6" fill="none" stroke="#006000" stroke-width="0.7" stroke-linecap="round" opacity="0.45"/>
<path d="M56.7 108.3 Q61.8 107.5 66.1 108.4 Q68.3 110.7 69.3 111.1" fill="none" stroke="#006000" stroke-width="0.9" stroke-linecap="round" opacity="0.45"/>
<path d="M143.8 64.0 Q148.0 64.3 150.2 62.6 Q153.7 64.1 156.7 64.9" fill="none" stroke="#006000" stroke-width="1.1" stroke-linecap="round" opacity="0.45"/>
<path d="M140.1 66.7 Q143.3 65.7 147.9 66.1 Q152.8 66.3 157.3 65.2" fill="none" stroke="#006000" stroke-width="0.8" stroke-linecap="round" opacity="0.45"/>
<path d="M99.5 66.6 Q102.6 66.6 107.4 66.9 Q109.6 67.4 112.8 66.9" fill="none" stroke="#006000" stroke-width="0.7" stroke-linecap="round" opacity="0.45"/>
<path d="M158.0 71.1 Q161.6 69.7 164.2 69.4 Q168.3 70.6 171.8 70.4" fill="none" stroke="#006000" stroke-width="0.8" stroke-linecap="round" opacity="0.45"/>
<path d="M99.6 82.4 Q104.0 81.8 109.2 82.9 Q110.4 81.2 111.0 79.9" fill="none" stroke="#006000" stroke-width="0.7" stroke-linecap="round" opacity="0.45"/>
<path d="M101.2 74.7 Q106.9 74.6 110.9 73.6 Q111.5 72.9 112.5 73.5" fill="none" stroke="#006000" stroke-width="0.8" stroke-linecap="round" opacity="0.45"/>
<path d="M30.3 60.5 Q34.9 60.4 39.5 61.0 Q39.7 61.6 41.5 61.2" fill="none" stroke="#006000" stroke-width="0.7" stroke-linecap="round" opacity="0.45"/>
<path d="M100.9 96.7 Q104.7 96.1 106.8 97.4 Q110.0 97.3 114.4 97.7" fill="none" stroke="#006000" stroke-width="0.7" stroke-linecap="round" opacity="0.45"/>
<path d="M24.0 68.7 Q27.6 69.5 32.4 70.7 Q34.9 68.9 36.7 67.3" fill="none" stroke="#006000" stroke-width="1.0" stroke-linecap="round" opacity="0.45"/>
<path d="M20.8 66.4 Q24.7 66.8 28.5 68.4 Q33.7 66.2 38.2 64.0" fill="none" stroke="#006000" stroke-width="0.9" stroke-linecap="round" opacity="0.45"/>
<path d="M61.1 101.7 Q65.2 102.7 70.8 102.9 Q73.3 101.4 74.9 99.5" fill="none" stroke="#006000" stroke-width="0.9" stroke-linecap="round" opacity="0.45"/>
<path d="M16.2 110.7 Q20.7 111.8 24.8 111.9 Q25.7 111.2 27.1 109.7" fill="none" stroke="#006000" stroke-width="0.7" stroke-linecap="round" opacity="0.45"/>
<path d="M137.6 77.8 Q141.3 79.5 144.0 79.7 Q147.8 76.6 151.1 74.8" fill="none" stroke="#006000" stroke-width="0.7" stroke-linecap="round" opacity="0.45"/>
<path d="M138.5 105.1 Q141.0 105.6 144.0 104.6 Q149.9 103.0 153.8 102.1" fill="none" stroke="#006000" stroke-width="0.7" stroke-linecap="round" opacity="0.45"/>
</g>
<rect x="0" y="40" width="200" height="55" fill="url(#aTop)"/>
<path d="M10 119 Q60 113 100 116 T196 111" fill="none" stroke="#20f020" stroke-width="4" filter="url(#ablur)"/>
<path d="M10 116.5 Q60 110.5 100 113.5 T196 108.5" fill="none" stroke="#0a7a0a" stroke-width="1.4" opacity="0.6" filter="url(#ablur)"/>
<line x1="39.3" y1="99.4" x2="41.1" y2="99.9" stroke="#b4349e" stroke-width="0.9"/>
<line x1="39.8" y1="98.7" x2="42.0" y2="99.0" stroke="#b4349e" stroke-width="0.9"/>
<line x1="33.6" y1="98.1" x2="33.5" y2="97.3" stroke="#b4349e" stroke-width="0.9"/>
<line x1="35.0" y1="98.1" x2="35.4" y2="96.7" stroke="#b4349e" stroke-width="0.9"/>
<line x1="34.2" y1="98.0" x2="34.2" y2="97.6" stroke="#b4349e" stroke-width="0.9"/>
<line x1="37.3" y1="96.4" x2="37.5" y2="95.3" stroke="#b4349e" stroke-width="0.9"/>
<line x1="38.2" y1="99.0" x2="39.6" y2="99.1" stroke="#b4349e" stroke-width="0.9"/>
<line x1="34.0" y1="100.1" x2="34.0" y2="99.5" stroke="#b4349e" stroke-width="0.9"/>
<line x1="34.3" y1="97.5" x2="35.4" y2="99.1" stroke="#b4349e" stroke-width="0.9"/>
<line x1="35.9" y1="99.2" x2="34.4" y2="98.9" stroke="#b4349e" stroke-width="0.9"/>
<line x1="50.9" y1="99.0" x2="50.2" y2="100.3" stroke="#b4349e" stroke-width="0.9"/>
<line x1="53.9" y1="98.5" x2="52.5" y2="100.0" stroke="#b4349e" stroke-width="0.9"/>
<line x1="53.2" y1="100.9" x2="53.9" y2="101.8" stroke="#b4349e" stroke-width="0.9"/>
<line x1="50.2" y1="97.8" x2="49.5" y2="95.5" stroke="#b4349e" stroke-width="0.9"/>
<line x1="55.7" y1="100.1" x2="56.5" y2="102.5" stroke="#b4349e" stroke-width="0.9"/>
<line x1="54.4" y1="98.6" x2="53.6" y2="96.7" stroke="#b4349e" stroke-width="0.9"/>
<line x1="54.4" y1="101.2" x2="54.3" y2="100.5" stroke="#b4349e" stroke-width="0.9"/>
<line x1="50.2" y1="99.9" x2="51.2" y2="101.9" stroke="#b4349e" stroke-width="0.9"/>
<line x1="54.8" y1="101.8" x2="54.5" y2="101.4" stroke="#b4349e" stroke-width="0.9"/>
<line x1="50.5" y1="102.4" x2="48.9" y2="100.7" stroke="#b4349e" stroke-width="0.9"/>
<line x1="74.2" y1="110.1" x2="76.0" y2="109.3" stroke="#b4349e" stroke-width="0.9"/>
<line x1="78.8" y1="110.0" x2="78.4" y2="108.4" stroke="#b4349e" stroke-width="0.9"/>
<line x1="78.2" y1="107.4" x2="76.3" y2="109.4" stroke="#b4349e" stroke-width="0.9"/>
<line x1="75.5" y1="107.5" x2="76.0" y2="106.3" stroke="#b4349e" stroke-width="0.9"/>
<line x1="72.2" y1="107.5" x2="71.6" y2="105.0" stroke="#b4349e" stroke-width="0.9"/>
<line x1="75.0" y1="109.3" x2="74.1" y2="110.2" stroke="#b4349e" stroke-width="0.9"/>
<line x1="77.0" y1="106.4" x2="74.6" y2="107.3" stroke="#b4349e" stroke-width="0.9"/>
<line x1="76.9" y1="107.0" x2="75.4" y2="108.7" stroke="#b4349e" stroke-width="0.9"/>
<line x1="79.3" y1="106.7" x2="79.7" y2="107.0" stroke="#b4349e" stroke-width="0.9"/>
<line x1="74.6" y1="105.7" x2="73.7" y2="106.4" stroke="#b4349e" stroke-width="0.9"/>
<line x1="88.8" y1="87.1" x2="86.9" y2="85.6" stroke="#b4349e" stroke-width="0.9"/>
<line x1="86.5" y1="86.6" x2="85.8" y2="88.6" stroke="#b4349e" stroke-width="0.9"/>
<line x1="84.9" y1="89.4" x2="83.6" y2="91.2" stroke="#b4349e" stroke-width="0.9"/>
<line x1="85.9" y1="87.4" x2="85.3" y2="85.1" stroke="#b4349e" stroke-width="0.9"/>
<line x1="90.4" y1="88.6" x2="89.2" y2="89.9" stroke="#b4349e" stroke-width="0.9"/>
<line x1="87.8" y1="89.4" x2="85.6" y2="88.8" stroke="#b4349e" stroke-width="0.9"/>
<line x1="85.8" y1="87.6" x2="87.2" y2="89.3" stroke="#b4349e" stroke-width="0.9"/>
<line x1="88.4" y1="86.4" x2="89.9" y2="84.5" stroke="#b4349e" stroke-width="0.9"/>
<line x1="86.1" y1="88.3" x2="85.8" y2="90.7" stroke="#b4349e" stroke-width="0.9"/>
<line x1="84.7" y1="86.8" x2="83.3" y2="84.3" stroke="#b4349e" stroke-width="0.9"/>
<line x1="116.7" y1="88.0" x2="116.1" y2="87.6" stroke="#b4349e" stroke-width="0.9"/>
<line x1="120.1" y1="88.9" x2="121.1" y2="89.0" stroke="#b4349e" stroke-width="0.9"/>
<line x1="123.9" y1="88.3" x2="123.9" y2="88.3" stroke="#b4349e" stroke-width="0.9"/>
<line x1="119.0" y1="91.8" x2="117.5" y2="93.7" stroke="#b4349e" stroke-width="0.9"/>
<line x1="118.9" y1="89.2" x2="119.4" y2="89.5" stroke="#b4349e" stroke-width="0.9"/>
<line x1="118.3" y1="87.9" x2="120.5" y2="87.3" stroke="#b4349e" stroke-width="0.9"/>
<line x1="116.9" y1="90.8" x2="117.1" y2="89.9" stroke="#b4349e" stroke-width="0.9"/>
<line x1="118.6" y1="91.7" x2="117.8" y2="91.3" stroke="#b4349e" stroke-width="0.9"/>
<line x1="123.7" y1="89.3" x2="123.2" y2="87.6" stroke="#b4349e" stroke-width="0.9"/>
<line x1="121.3" y1="90.8" x2="121.0" y2="90.4" stroke="#b4349e" stroke-width="0.9"/>
<line x1="137.9" y1="79.4" x2="137.6" y2="81.1" stroke="#b4349e" stroke-width="0.9"/>
<line x1="139.0" y1="79.2" x2="136.6" y2="77.8" stroke="#b4349e" stroke-width="0.9"/>
<line x1="143.7" y1="78.9" x2="144.6" y2="78.9" stroke="#b4349e" stroke-width="0.9"/>
<line x1="139.8" y1="76.5" x2="138.1" y2="77.2" stroke="#b4349e" stroke-width="0.9"/>
<line x1="141.6" y1="76.8" x2="142.3" y2="75.0" stroke="#b4349e" stroke-width="0.9"/>
<line x1="140.9" y1="76.4" x2="141.0" y2="75.4" stroke="#b4349e" stroke-width="0.9"/>
<line x1="140.4" y1="76.2" x2="140.3" y2="76.8" stroke="#b4349e" stroke-width="0.9"/>
<line x1="137.1" y1="77.0" x2="138.0" y2="77.3" stroke="#b4349e" stroke-width="0.9"/>
<line x1="140.9" y1="79.4" x2="141.3" y2="78.0" stroke="#b4349e" stroke-width="0.9"/>
<line x1="139.5" y1="79.7" x2="139.9" y2="80.9" stroke="#b4349e" stroke-width="0.9"/>
<line x1="153.9" y1="72.7" x2="156.3" y2="74.4" stroke="#b4349e" stroke-width="0.9"/>
<line x1="156.2" y1="71.0" x2="156.8" y2="68.7" stroke="#b4349e" stroke-width="0.9"/>
<line x1="158.5" y1="75.4" x2="159.6" y2="74.2" stroke="#b4349e" stroke-width="0.9"/>
<line x1="157.8" y1="71.4" x2="159.4" y2="71.5" stroke="#b4349e" stroke-width="0.9"/>
<line x1="151.1" y1="75.0" x2="150.8" y2="76.6" stroke="#b4349e" stroke-width="0.9"/>
<line x1="156.5" y1="73.2" x2="158.3" y2="71.7" stroke="#b4349e" stroke-width="0.9"/>
<line x1="158.2" y1="72.2" x2="155.8" y2="71.4" stroke="#b4349e" stroke-width="0.9"/>
<line x1="151.5" y1="70.9" x2="152.1" y2="69.0" stroke="#b4349e" stroke-width="0.9"/>
<line x1="152.3" y1="72.0" x2="151.2" y2="74.1" stroke="#b4349e" stroke-width="0.9"/>
<line x1="158.2" y1="74.9" x2="160.7" y2="74.6" stroke="#b4349e" stroke-width="0.9"/>
<line x1="167.4" y1="60.9" x2="169.5" y2="62.5" stroke="#b4349e" stroke-width="0.9"/>
<line x1="166.9" y1="60.6" x2="164.8" y2="62.8" stroke="#b4349e" stroke-width="0.9"/>
<line x1="165.4" y1="62.6" x2="167.2" y2="60.8" stroke="#b4349e" stroke-width="0.9"/>
<line x1="166.6" y1="61.8" x2="168.0" y2="61.6" stroke="#b4349e" stroke-width="0.9"/>
<line x1="162.6" y1="64.3" x2="161.5" y2="65.5" stroke="#b4349e" stroke-width="0.9"/>
<line x1="167.6" y1="60.7" x2="168.6" y2="60.2" stroke="#b4349e" stroke-width="0.9"/>
<line x1="162.8" y1="60.6" x2="165.1" y2="59.9" stroke="#b4349e" stroke-width="0.9"/>
<line x1="165.1" y1="62.0" x2="162.7" y2="63.3" stroke="#b4349e" stroke-width="0.9"/>
<line x1="167.0" y1="63.9" x2="166.2" y2="62.4" stroke="#b4349e" stroke-width="0.9"/>
<line x1="163.8" y1="63.2" x2="164.6" y2="62.7" stroke="#b4349e" stroke-width="0.9"/>
<line x1="60.2" y1="78.3" x2="62.3" y2="78.1" stroke="#b4349e" stroke-width="0.9"/>
<line x1="60.1" y1="81.4" x2="58.5" y2="82.5" stroke="#b4349e" stroke-width="0.9"/>
<line x1="58.8" y1="81.6" x2="56.8" y2="80.4" stroke="#b4349e" stroke-width="0.9"/>
<line x1="61.1" y1="79.9" x2="60.5" y2="80.3" stroke="#b4349e" stroke-width="0.9"/>
<line x1="57.7" y1="79.7" x2="55.3" y2="81.2" stroke="#b4349e" stroke-width="0.9"/>
<line x1="58.0" y1="81.7" x2="58.3" y2="82.2" stroke="#b4349e" stroke-width="0.9"/>
<line x1="61.0" y1="78.1" x2="62.4" y2="77.1" stroke="#b4349e" stroke-width="0.9"/>
<line x1="62.9" y1="81.4" x2="63.8" y2="83.0" stroke="#b4349e" stroke-width="0.9"/>
<line x1="59.5" y1="80.9" x2="61.8" y2="79.3" stroke="#b4349e" stroke-width="0.9"/>
<line x1="56.8" y1="79.6" x2="56.9" y2="77.8" stroke="#b4349e" stroke-width="0.9"/>
<line x1="97.8" y1="96.8" x2="97.2" y2="95.1" stroke="#b4349e" stroke-width="0.9"/>
<line x1="97.5" y1="95.4" x2="95.9" y2="95.3" stroke="#b4349e" stroke-width="0.9"/>
<line x1="100.3" y1="94.7" x2="100.3" y2="96.4" stroke="#b4349e" stroke-width="0.9"/>
<line x1="96.1" y1="97.1" x2="94.6" y2="94.8" stroke="#b4349e" stroke-width="0.9"/>
<line x1="102.1" y1="95.3" x2="102.3" y2="93.9" stroke="#b4349e" stroke-width="0.9"/>
<line x1="102.2" y1="94.0" x2="103.4" y2="92.7" stroke="#b4349e" stroke-width="0.9"/>
<line x1="100.6" y1="95.7" x2="99.9" y2="95.6" stroke="#b4349e" stroke-width="0.9"/>
<line x1="96.5" y1="95.7" x2="97.5" y2="94.0" stroke="#b4349e" stroke-width="0.9"/>
<line x1="100.4" y1="96.2" x2="98.4" y2="97.9" stroke="#b4349e" stroke-width="0.9"/>
<line x1="103.0" y1="92.8" x2="101.7" y2="90.7" stroke="#b4349e" stroke-width="0.9"/>
<line x1="18.0" y1="109.9" x2="18.0" y2="108.7" stroke="#b4349e" stroke-width="0.9"/>
<line x1="18.4" y1="111.8" x2="17.8" y2="113.2" stroke="#b4349e" stroke-width="0.9"/>
<line x1="21.8" y1="110.1" x2="20.4" y2="107.6" stroke="#b4349e" stroke-width="0.9"/>
<line x1="18.6" y1="110.0" x2="19.6" y2="111.4" stroke="#b4349e" stroke-width="0.9"/>
<line x1="24.0" y1="110.5" x2="21.6" y2="111.8" stroke="#b4349e" stroke-width="0.9"/>
<line x1="19.3" y1="114.2" x2="18.8" y2="113.2" stroke="#b4349e" stroke-width="0.9"/>
<line x1="16.6" y1="114.2" x2="16.6" y2="113.9" stroke="#b4349e" stroke-width="0.9"/>
<line x1="19.5" y1="113.3" x2="21.2" y2="113.2" stroke="#b4349e" stroke-width="0.9"/>
<line x1="17.4" y1="111.5" x2="19.4" y2="111.1" stroke="#b4349e" stroke-width="0.9"/>
<line x1="21.3" y1="112.3" x2="21.1" y2="112.7" stroke="#b4349e" stroke-width="0.9"/>
<line x1="28.0" y1="176.3" x2="29.8" y2="174.2" stroke="#b4349e" stroke-width="0.9"/>
<line x1="29.0" y1="177.9" x2="31.3" y2="175.5" stroke="#b4349e" stroke-width="0.9"/>
<line x1="31.0" y1="176.7" x2="32.7" y2="176.5" stroke="#b4349e" stroke-width="0.9"/>
<line x1="27.0" y1="175.0" x2="28.1" y2="176.1" stroke="#b4349e" stroke-width="0.9"/>
<line x1="27.6" y1="176.7" x2="28.4" y2="177.5" stroke="#b4349e" stroke-width="0.9"/>
<line x1="26.2" y1="175.7" x2="25.3" y2="176.2" stroke="#b4349e" stroke-width="0.9"/>
<line x1="28.7" y1="174.1" x2="29.5" y2="173.1" stroke="#b4349e" stroke-width="0.9"/>
<line x1="32.3" y1="175.0" x2="32.6" y2="176.6" stroke="#b4349e" stroke-width="0.9"/>
<line x1="26.9" y1="177.2" x2="24.8" y2="179.3" stroke="#b4349e" stroke-width="0.9"/>
<line x1="26.2" y1="177.1" x2="25.5" y2="175.5" stroke="#b4349e" stroke-width="0.9"/>
<line x1="44.2" y1="165.0" x2="43.7" y2="163.1" stroke="#b4349e" stroke-width="0.9"/>
<line x1="45.2" y1="164.0" x2="47.5" y2="163.4" stroke="#b4349e" stroke-width="0.9"/>
<line x1="44.5" y1="163.6" x2="46.8" y2="162.7" stroke="#b4349e" stroke-width="0.9"/>
<line x1="46.2" y1="166.7" x2="45.6" y2="167.9" stroke="#b4349e" stroke-width="0.9"/>
<line x1="43.2" y1="163.0" x2="40.9" y2="162.8" stroke="#b4349e" stroke-width="0.9"/>
<line x1="48.0" y1="163.5" x2="47.7" y2="164.8" stroke="#b4349e" stroke-width="0.9"/>
<line x1="43.2" y1="163.3" x2="43.3" y2="162.9" stroke="#b4349e" stroke-width="0.9"/>
<line x1="48.5" y1="167.0" x2="47.2" y2="167.3" stroke="#b4349e" stroke-width="0.9"/>
<line x1="44.3" y1="162.7" x2="44.1" y2="164.7" stroke="#b4349e" stroke-width="0.9"/>
<line x1="43.4" y1="165.4" x2="44.5" y2="163.2" stroke="#b4349e" stroke-width="0.9"/>
<line x1="173.4" y1="110.0" x2="172.4" y2="111.1" stroke="#b4349e" stroke-width="0.9"/>
<line x1="166.2" y1="111.4" x2="164.3" y2="111.2" stroke="#b4349e" stroke-width="0.9"/>
<line x1="166.1" y1="110.3" x2="164.7" y2="108.2" stroke="#b4349e" stroke-width="0.9"/>
<line x1="166.7" y1="110.5" x2="166.8" y2="108.7" stroke="#b4349e" stroke-width="0.9"/>
<line x1="172.6" y1="111.6" x2="171.3" y2="110.3" stroke="#b4349e" stroke-width="0.9"/>
<line x1="172.7" y1="109.7" x2="173.9" y2="107.7" stroke="#b4349e" stroke-width="0.9"/>
<line x1="173.6" y1="111.5" x2="174.0" y2="113.4" stroke="#b4349e" stroke-width="0.9"/>
<line x1="166.8" y1="109.8" x2="167.8" y2="110.3" stroke="#b4349e" stroke-width="0.9"/>
<line x1="171.8" y1="110.9" x2="171.8" y2="109.3" stroke="#b4349e" stroke-width="0.9"/>
<line x1="169.5" y1="110.9" x2="169.9" y2="109.9" stroke="#b4349e" stroke-width="0.9"/>
<line x1="148.2" y1="100.7" x2="146.1" y2="102.2" stroke="#b4349e" stroke-width="0.9"/>
<line x1="150.0" y1="98.6" x2="148.0" y2="98.7" stroke="#b4349e" stroke-width="0.9"/>
<line x1="150.0" y1="101.1" x2="149.4" y2="100.7" stroke="#b4349e" stroke-width="0.9"/>
<line x1="153.1" y1="98.9" x2="155.5" y2="100.8" stroke="#b4349e" stroke-width="0.9"/>
<line x1="153.9" y1="102.2" x2="152.7" y2="103.8" stroke="#b4349e" stroke-width="0.9"/>
<line x1="150.9" y1="98.5" x2="153.4" y2="99.3" stroke="#b4349e" stroke-width="0.9"/>
<line x1="152.5" y1="100.3" x2="150.4" y2="102.1" stroke="#b4349e" stroke-width="0.9"/>
<line x1="147.4" y1="98.8" x2="148.0" y2="97.3" stroke="#b4349e" stroke-width="0.9"/>
<line x1="149.7" y1="101.1" x2="147.7" y2="101.9" stroke="#b4349e" stroke-width="0.9"/>
<line x1="146.8" y1="99.9" x2="147.6" y2="100.8" stroke="#b4349e" stroke-width="0.9"/>
<line x1="124.3" y1="83.5" x2="126.6" y2="82.9" stroke="#b4349e" stroke-width="0.9"/>
<line x1="127.4" y1="84.4" x2="128.4" y2="85.6" stroke="#b4349e" stroke-width="0.9"/>
<line x1="129.2" y1="84.5" x2="129.5" y2="84.6" stroke="#b4349e" stroke-width="0.9"/>
<line x1="125.5" y1="87.2" x2="127.8" y2="88.6" stroke="#b4349e" stroke-width="0.9"/>
<line x1="131.9" y1="84.8" x2="133.6" y2="83.5" stroke="#b4349e" stroke-width="0.9"/>
<line x1="129.9" y1="86.1" x2="132.1" y2="87.7" stroke="#b4349e" stroke-width="0.9"/>
<line x1="131.0" y1="83.8" x2="132.5" y2="83.7" stroke="#b4349e" stroke-width="0.9"/>
<line x1="126.5" y1="84.3" x2="128.0" y2="86.1" stroke="#b4349e" stroke-width="0.9"/>
<line x1="130.8" y1="85.8" x2="129.1" y2="84.1" stroke="#b4349e" stroke-width="0.9"/>
<line x1="128.5" y1="83.6" x2="127.7" y2="81.6" stroke="#b4349e" stroke-width="0.9"/>
<line x1="107.2" y1="71.1" x2="105.9" y2="72.8" stroke="#b4349e" stroke-width="0.9"/>
<line x1="108.6" y1="71.7" x2="107.6" y2="70.6" stroke="#b4349e" stroke-width="0.9"/>
<line x1="109.2" y1="67.6" x2="108.8" y2="67.0" stroke="#b4349e" stroke-width="0.9"/>
<line x1="106.1" y1="71.8" x2="105.5" y2="69.3" stroke="#b4349e" stroke-width="0.9"/>
<line x1="113.7" y1="68.6" x2="112.4" y2="66.3" stroke="#b4349e" stroke-width="0.9"/>
<line x1="106.8" y1="71.0" x2="107.2" y2="71.1" stroke="#b4349e" stroke-width="0.9"/>
<line x1="108.0" y1="68.9" x2="110.3" y2="68.3" stroke="#b4349e" stroke-width="0.9"/>
<line x1="113.9" y1="71.9" x2="112.0" y2="73.7" stroke="#b4349e" stroke-width="0.9"/>
<line x1="106.2" y1="71.1" x2="107.7" y2="72.0" stroke="#b4349e" stroke-width="0.9"/>
<line x1="110.4" y1="71.6" x2="108.7" y2="71.8" stroke="#b4349e" stroke-width="0.9"/>
<line x1="66.1" y1="65.5" x2="64.6" y2="66.5" stroke="#b4349e" stroke-width="0.9"/>
<line x1="68.6" y1="67.4" x2="69.2" y2="67.9" stroke="#b4349e" stroke-width="0.9"/>
<line x1="71.4" y1="67.6" x2="71.7" y2="66.7" stroke="#b4349e" stroke-width="0.9"/>
<line x1="71.4" y1="65.4" x2="69.4" y2="64.5" stroke="#b4349e" stroke-width="0.9"/>
<line x1="69.7" y1="68.2" x2="70.4" y2="69.0" stroke="#b4349e" stroke-width="0.9"/>
<line x1="71.5" y1="67.4" x2="71.2" y2="67.2" stroke="#b4349e" stroke-width="0.9"/>
<line x1="70.1" y1="65.1" x2="68.1" y2="65.7" stroke="#b4349e" stroke-width="0.9"/>
<line x1="70.5" y1="64.7" x2="71.4" y2="66.7" stroke="#b4349e" stroke-width="0.9"/>
<line x1="65.0" y1="64.2" x2="65.0" y2="63.4" stroke="#b4349e" stroke-width="0.9"/>
<line x1="71.6" y1="68.5" x2="71.3" y2="69.9" stroke="#b4349e" stroke-width="0.9"/>
<line x1="126.1" y1="108.4" x2="128.4" y2="106.7" stroke="#b4349e" stroke-width="0.9"/>
<line x1="121.6" y1="109.8" x2="119.2" y2="109.7" stroke="#b4349e" stroke-width="0.9"/>
<line x1="124.3" y1="112.3" x2="123.9" y2="114.0" stroke="#b4349e" stroke-width="0.9"/>
<line x1="127.2" y1="110.4" x2="125.9" y2="109.5" stroke="#b4349e" stroke-width="0.9"/>
<line x1="124.9" y1="109.5" x2="125.7" y2="109.5" stroke="#b4349e" stroke-width="0.9"/>
<line x1="123.6" y1="110.5" x2="126.1" y2="109.0" stroke="#b4349e" stroke-width="0.9"/>
<line x1="123.7" y1="107.6" x2="121.7" y2="105.3" stroke="#b4349e" stroke-width="0.9"/>
<line x1="124.4" y1="111.7" x2="125.4" y2="114.0" stroke="#b4349e" stroke-width="0.9"/>
<line x1="127.7" y1="110.4" x2="128.1" y2="108.0" stroke="#b4349e" stroke-width="0.9"/>
<line x1="124.1" y1="108.8" x2="124.7" y2="106.6" stroke="#b4349e" stroke-width="0.9"/>
<line x1="140.3" y1="101.4" x2="140.3" y2="100.9" stroke="#b4349e" stroke-width="0.9"/>
<line x1="136.8" y1="103.2" x2="138.3" y2="103.6" stroke="#b4349e" stroke-width="0.9"/>
<line x1="136.9" y1="102.5" x2="138.8" y2="104.9" stroke="#b4349e" stroke-width="0.9"/>
<line x1="142.1" y1="99.7" x2="144.0" y2="100.6" stroke="#b4349e" stroke-width="0.9"/>
<line x1="138.2" y1="104.1" x2="139.8" y2="106.1" stroke="#b4349e" stroke-width="0.9"/>
<line x1="138.0" y1="102.4" x2="137.4" y2="101.4" stroke="#b4349e" stroke-width="0.9"/>
<line x1="142.1" y1="102.6" x2="141.2" y2="102.8" stroke="#b4349e" stroke-width="0.9"/>
<line x1="143.4" y1="102.3" x2="145.5" y2="102.7" stroke="#b4349e" stroke-width="0.9"/>
<line x1="143.9" y1="99.6" x2="143.7" y2="99.9" stroke="#b4349e" stroke-width="0.9"/>
<line x1="141.8" y1="104.3" x2="142.4" y2="104.2" stroke="#b4349e" stroke-width="0.9"/>
<line x1="101.1" y1="108.2" x2="102.1" y2="110.4" stroke="#b4349e" stroke-width="0.9"/>
<line x1="96.1" y1="107.1" x2="98.0" y2="104.9" stroke="#b4349e" stroke-width="0.9"/>
<line x1="102.3" y1="105.7" x2="103.1" y2="107.2" stroke="#b4349e" stroke-width="0.9"/>
<line x1="97.9" y1="107.4" x2="96.5" y2="108.4" stroke="#b4349e" stroke-width="0.9"/>
<line x1="100.2" y1="108.5" x2="99.4" y2="109.0" stroke="#b4349e" stroke-width="0.9"/>
<line x1="103.6" y1="109.4" x2="105.9" y2="108.1" stroke="#b4349e" stroke-width="0.9"/>
<line x1="100.1" y1="107.4" x2="99.4" y2="108.9" stroke="#b4349e" stroke-width="0.9"/>
<line x1="97.4" y1="108.3" x2="98.8" y2="110.5" stroke="#b4349e" stroke-width="0.9"/>
<line x1="96.1" y1="106.9" x2="96.1" y2="109.0" stroke="#b4349e" stroke-width="0.9"/>
<line x1="97.3" y1="109.7" x2="96.8" y2="109.9" stroke="#b4349e" stroke-width="0.9"/>
<line x1="163.4" y1="89.8" x2="162.6" y2="88.1" stroke="#b4349e" stroke-width="0.9"/>
<line x1="157.1" y1="91.0" x2="158.1" y2="91.4" stroke="#b4349e" stroke-width="0.9"/>
<line x1="157.0" y1="93.5" x2="157.0" y2="91.7" stroke="#b4349e" stroke-width="0.9"/>
<line x1="162.6" y1="93.6" x2="161.1" y2="95.8" stroke="#b4349e" stroke-width="0.9"/>
<line x1="162.5" y1="90.6" x2="160.0" y2="92.5" stroke="#b4349e" stroke-width="0.9"/>
<line x1="162.6" y1="90.0" x2="163.9" y2="91.4" stroke="#b4349e" stroke-width="0.9"/>
<line x1="161.1" y1="93.7" x2="163.5" y2="92.8" stroke="#b4349e" stroke-width="0.9"/>
<line x1="162.7" y1="94.1" x2="161.7" y2="95.0" stroke="#b4349e" stroke-width="0.9"/>
<line x1="161.5" y1="93.7" x2="161.8" y2="92.6" stroke="#b4349e" stroke-width="0.9"/>
<line x1="158.0" y1="92.2" x2="156.2" y2="94.0" stroke="#b4349e" stroke-width="0.9"/>
<line x1="63.1" y1="64.7" x2="64.1" y2="65.6" stroke="#b4349e" stroke-width="0.9"/>
<line x1="57.0" y1="67.4" x2="58.3" y2="66.4" stroke="#b4349e" stroke-width="0.9"/>
<line x1="56.8" y1="64.9" x2="58.1" y2="64.7" stroke="#b4349e" stroke-width="0.9"/>
<line x1="62.5" y1="64.3" x2="60.6" y2="63.5" stroke="#b4349e" stroke-width="0.9"/>
<line x1="63.0" y1="64.3" x2="60.9" y2="65.6" stroke="#b4349e" stroke-width="0.9"/>
<line x1="56.7" y1="66.8" x2="54.6" y2="65.6" stroke="#b4349e" stroke-width="0.9"/>
<line x1="61.3" y1="67.9" x2="60.9" y2="67.6" stroke="#b4349e" stroke-width="0.9"/>
<line x1="56.2" y1="65.2" x2="55.0" y2="66.6" stroke="#b4349e" stroke-width="0.9"/>
<line x1="61.7" y1="67.4" x2="61.9" y2="68.4" stroke="#b4349e" stroke-width="0.9"/>
<line x1="57.0" y1="65.4" x2="56.0" y2="64.3" stroke="#b4349e" stroke-width="0.9"/>
<line x1="26.9" y1="98.6" x2="26.0" y2="97.5" stroke="#b4349e" stroke-width="0.9"/>
<line x1="27.9" y1="100.7" x2="27.8" y2="100.1" stroke="#b4349e" stroke-width="0.9"/>
<line x1="28.4" y1="102.2" x2="28.1" y2="102.5" stroke="#b4349e" stroke-width="0.9"/>
<line x1="27.9" y1="98.8" x2="26.7" y2="96.8" stroke="#b4349e" stroke-width="0.9"/>
<line x1="25.0" y1="101.3" x2="23.3" y2="101.0" stroke="#b4349e" stroke-width="0.9"/>
<line x1="28.9" y1="99.9" x2="28.3" y2="101.6" stroke="#b4349e" stroke-width="0.9"/>
<line x1="28.1" y1="99.4" x2="26.3" y2="100.1" stroke="#b4349e" stroke-width="0.9"/>
<line x1="26.9" y1="102.1" x2="27.7" y2="101.2" stroke="#b4349e" stroke-width="0.9"/>
<line x1="25.1" y1="98.9" x2="24.8" y2="98.8" stroke="#b4349e" stroke-width="0.9"/>
<line x1="28.3" y1="102.0" x2="30.4" y2="101.9" stroke="#b4349e" stroke-width="0.9"/>
</g>
<text x="244" y="32.4" font-size="11.5" fill="#000" text-anchor="start" >C-Lp</text>
<text x="244" y="46.3" font-size="11.5" fill="#000" text-anchor="start" >Number of DP signals:1 ± 1</text>
<text x="436.5" y="32.4" font-size="11.5" fill="#000" text-anchor="start" >Rg3-Lp</text>
<text x="436.5" y="46.3" font-size="11.5" fill="#000" text-anchor="start" >Number of DP signals:15 ± 2</text>
<polygon points="248.3,129.5 248.8,132.8 249.3,133.7 249.8,133.2 250.3,132.6 250.8,133.1 251.3,133.1 251.8,132.6 252.3,131.9 252.8,132.1 253.3,132.0 253.8,132.0 254.3,132.2 254.8,131.6 255.3,131.8 255.8,130.8 256.3,131.8 256.8,130.8 257.3,130.7 257.8,130.7 258.3,130.9 258.8,130.8 259.3,131.3 259.8,132.1 260.3,131.4 260.8,131.9 261.3,132.4 261.8,131.9 262.3,132.2 262.8,132.4 263.3,132.4 263.8,133.2 264.3,130.9 264.8,132.7 265.3,133.5 265.8,133.1 266.3,133.4 266.8,133.8 267.3,131.4 267.8,133.6 268.3,133.7 268.8,131.5 269.3,133.5 269.8,134.2 270.3,134.4 270.8,134.8 271.3,135.4 271.8,135.7 272.3,135.3 272.8,136.0 273.3,136.2 273.8,136.2 274.3,136.3 274.8,136.2 275.3,134.7 275.8,136.9 276.3,137.3 276.8,137.5 277.3,136.1 277.8,137.7 278.3,137.5 278.8,137.3 279.3,137.3 279.8,138.0 280.3,137.7 280.8,137.8 281.3,138.3 281.8,138.4 282.3,138.9 282.8,139.4 283.3,138.4 283.8,140.3 284.3,137.6 284.8,140.9 285.3,140.8 285.8,141.1 286.3,140.7 286.8,141.5 287.3,141.4 287.8,138.5 288.3,142.0 288.8,142.4 289.3,143.5 289.8,142.8 290.3,143.7 290.8,140.5 291.3,143.6 291.8,140.4 292.3,140.0 292.8,143.3 293.3,144.0 293.8,140.4 294.3,140.5 294.8,141.7 295.3,143.9 295.8,139.2 296.3,140.5 296.8,141.4 297.3,143.6 297.8,143.4 298.3,142.9 298.8,143.1 299.3,142.2 299.8,143.4 300.3,142.4 300.8,142.6 301.3,143.1 301.8,142.7 302.3,143.1 302.8,142.3 303.3,140.4 303.8,142.4 304.3,142.4 304.8,142.3 305.3,142.1 305.8,142.5 306.3,142.2 306.8,142.4 307.3,140.1 307.8,142.2 308.3,139.3 308.8,142.3 309.3,142.5 309.8,142.3 310.3,141.6 310.8,142.0 311.3,138.9 311.8,140.9 312.3,141.4 312.8,140.3 313.3,139.9 313.8,140.6 314.3,140.2 314.8,140.0 315.3,139.2 315.8,138.7 316.3,139.0 316.8,138.8 317.3,138.4 317.8,137.8 318.3,138.2 318.8,137.0 319.3,137.1 319.8,137.4 320.3,136.2 320.8,136.9 321.3,136.5 321.8,136.5 322.3,136.0 322.8,136.8 323.3,136.3 323.8,137.0 324.3,136.4 324.8,137.0 325.3,136.4 325.8,136.4 326.3,137.0 326.8,136.7 327.3,137.0 327.8,136.5 328.3,136.4 328.8,137.4 329.3,136.9 329.8,137.0 330.3,136.7 330.8,136.4 331.3,137.5 331.8,136.6 332.3,137.4 332.8,136.9 333.3,133.9 333.8,137.0 334.3,137.3 334.8,137.6 335.3,137.3 335.8,137.8 336.3,137.3 336.8,137.1 337.3,137.9 337.8,135.5 338.3,138.1 338.8,135.0 339.3,138.0 339.8,137.6 340.3,138.6 340.8,138.2 341.3,138.9 341.8,138.1 342.3,138.6 342.8,139.2 343.3,138.4 343.8,136.4 344.3,138.8 344.8,139.7 345.3,139.6 345.8,139.1 346.3,139.9 346.8,139.5 347.3,139.7 347.8,139.7 348.3,140.4 348.8,139.8 349.3,140.9 349.8,140.4 350.3,137.1 350.8,141.0 351.3,140.3 351.8,140.5 352.3,141.3 352.8,141.4 353.3,140.7 353.8,141.4 354.3,141.0 354.8,141.3 355.3,140.9 355.8,141.4 356.3,137.8 356.8,141.7 357.3,141.9 357.8,142.0 358.3,142.2 358.8,142.2 359.3,142.6 359.8,142.1 360.3,142.2 360.8,141.8 361.3,141.8 361.8,142.7 362.3,142.2 362.8,143.5 363.3,143.1 363.8,143.2 364.3,143.1 364.8,143.6 365.3,144.3 365.8,144.2 366.3,143.6 366.8,144.5 367.3,143.7 367.8,144.6 368.3,144.2 368.8,145.0 369.3,144.4 369.8,145.6 370.3,144.6 370.8,145.5 371.3,145.0 371.8,145.1 372.3,146.0 372.8,145.4 373.3,144.2 373.8,146.6 374.3,146.7 374.8,147.1 375.3,146.5 375.8,147.4 376.3,147.1 376.8,146.7 377.3,147.3 377.8,147.3 378.3,147.6 378.8,145.3 379.3,148.1 379.8,148.0 380.3,147.4 380.8,148.1 381.3,147.2 381.8,148.2 382.3,146.2 382.8,147.5 383.3,148.1 383.8,147.9 384.3,147.7 384.8,147.9 385.3,147.7 385.8,147.9 386.3,144.3 386.8,145.4 387.3,147.4 387.8,147.3 388.3,147.4 388.8,146.8 389.3,147.7 389.8,147.6 390.3,147.4 390.8,147.1 391.3,147.5 391.8,147.5 392.3,147.1 392.8,147.7 393.3,147.8 393.8,147.6 393.8,159.3 393.3,159.5 392.8,159.3 392.3,159.5 391.8,159.6 391.3,159.0 390.8,159.1 390.3,159.3 389.8,159.9 389.3,159.6 388.8,159.2 388.3,159.8 387.8,159.1 387.3,159.6 386.8,159.6 386.3,159.5 385.8,159.3 385.3,159.1 384.8,159.6 384.3,159.4 383.8,159.8 383.3,159.0 382.8,159.1 382.3,159.1 381.8,159.5 381.3,159.1 380.8,159.7 380.3,159.6 379.8,159.5 379.3,159.3 378.8,159.5 378.3,159.1 377.8,159.3 377.3,159.6 376.8,159.2 376.3,159.8 375.8,159.7 375.3,159.0 374.8,159.0 374.3,159.5 373.8,159.5 373.3,159.8 372.8,159.1 372.3,159.7 371.8,159.2 371.3,158.5 370.8,158.8 370.3,158.3 369.8,158.7 369.3,158.6 368.8,157.9 368.3,158.4 367.8,157.5 367.3,157.5 366.8,157.8 366.3,157.4 365.8,157.6 365.3,157.2 364.8,156.7 364.3,156.9 363.8,156.4 363.3,156.6 362.8,155.8 362.3,155.8 361.8,156.3 361.3,155.4 360.8,156.0 360.3,156.3 359.8,155.8 359.3,156.4 358.8,156.1 358.3,156.3 357.8,156.5 357.3,156.8 356.8,156.3 356.3,156.9 355.8,156.9 355.3,156.9 354.8,156.9 354.3,157.4 353.8,157.6 353.3,157.4 352.8,157.9 352.3,157.9 351.8,157.9 351.3,158.0 350.8,157.6 350.3,157.0 349.8,157.3 349.3,157.3 348.8,157.6 348.3,157.4 347.8,156.9 347.3,157.1 346.8,156.4 346.3,156.3 345.8,156.4 345.3,155.5 344.8,155.8 344.3,155.2 343.8,155.5 343.3,154.9 342.8,154.4 342.3,154.6 341.8,154.6 341.3,154.5 340.8,154.1 340.3,153.7 339.8,153.3 339.3,153.3 338.8,153.2 338.3,153.1 337.8,152.8 337.3,151.9 336.8,152.2 336.3,152.1 335.8,151.7 335.3,152.2 334.8,151.9 334.3,151.3 333.8,151.2 333.3,150.9 332.8,151.0 332.3,151.5 331.8,150.6 331.3,150.7 330.8,151.0 330.3,150.1 329.8,150.9 329.3,150.4 328.8,150.0 328.3,149.7 327.8,150.1 327.3,149.7 326.8,149.5 326.3,149.9 325.8,149.1 325.3,149.2 324.8,149.7 324.3,150.0 323.8,150.1 323.3,150.1 322.8,150.6 322.3,151.1 321.8,151.1 321.3,151.0 320.8,151.0 320.3,150.7 319.8,150.8 319.3,151.0 318.8,150.4 318.3,150.6 317.8,150.4 317.3,150.3 316.8,149.7 316.3,150.3 315.8,150.0 315.3,149.6 314.8,149.3 314.3,149.6 313.8,149.1 313.3,149.2 312.8,148.9 312.3,148.4 311.8,148.3 311.3,149.0 310.8,148.7 310.3,148.2 309.8,148.6 309.3,148.8 308.8,148.3 308.3,149.0 307.8,148.5 307.3,148.6 306.8,149.3 306.3,148.8 305.8,148.9 305.3,148.7 304.8,149.1 304.3,149.3 303.8,149.2 303.3,149.5 302.8,149.0 302.3,149.8 301.8,149.8 301.3,149.3 300.8,149.9 300.3,150.1 299.8,149.4 299.3,149.7 298.8,150.4 298.3,150.6 297.8,150.5 297.3,150.8 296.8,151.5 296.3,151.5 295.8,152.2 295.3,151.7 294.8,152.9 294.3,153.0 293.8,153.4 293.3,153.3 292.8,153.6 292.3,154.1 291.8,154.7 291.3,155.2 290.8,155.3 290.3,155.0 289.8,155.9 289.3,155.4 288.8,155.6 288.3,155.0 287.8,154.6 287.3,155.1 286.8,154.3 286.3,154.3 285.8,154.3 285.3,154.1 284.8,154.4 284.3,154.3 283.8,153.5 283.3,153.3 282.8,153.2 282.3,153.5 281.8,153.2 281.3,153.1 280.8,152.4 280.3,152.2 279.8,152.0 279.3,152.1 278.8,151.7 278.3,151.6 277.8,151.4 277.3,150.7 276.8,150.6 276.3,150.4 275.8,150.7 275.3,149.9 274.8,150.2 274.3,149.7 273.8,149.7 273.3,149.1 272.8,148.5 272.3,148.8 271.8,148.5 271.3,147.9 270.8,148.0 270.3,147.3 269.8,147.2 269.3,147.2 268.8,146.5 268.3,146.8 267.8,146.1 267.3,146.0 266.8,145.5 266.3,146.2 265.8,145.7 265.3,145.1 264.8,144.8 264.3,145.2 263.8,144.3 263.3,144.5 262.8,144.6 262.3,143.8 261.8,144.0 261.3,143.4 260.8,143.0 260.3,142.8 259.8,142.4 259.3,142.3 258.8,142.0 258.3,142.5 257.8,142.1 257.3,142.0 256.8,141.9 256.3,142.1 255.8,142.2 255.3,142.5 254.8,142.5 254.3,143.0 253.8,143.0 253.3,143.7 252.8,143.4 252.3,143.6 251.8,143.7 251.3,143.5 250.8,144.2 250.3,144.0 249.8,144.0 249.3,144.7 248.8,145.0 248.3,144.8" fill="#1aa83a"/>
<polygon points="248.3,133.6 248.8,134.0 249.3,134.7 249.8,133.4 250.3,134.1 250.8,134.3 251.3,133.6 251.8,132.8 252.3,133.1 252.8,134.0 253.3,133.1 253.8,132.6 254.3,133.3 254.8,132.3 255.3,133.6 255.8,132.4 256.3,132.2 256.8,132.1 257.3,132.8 257.8,128.5 258.3,132.1 258.8,131.9 259.3,128.9 259.8,133.1 260.3,133.5 260.8,132.3 261.3,133.1 261.8,133.4 262.3,132.8 262.8,133.1 263.3,133.0 263.8,131.2 264.3,133.6 264.8,133.4 265.3,133.9 265.8,134.6 266.3,133.6 266.8,133.0 267.3,134.4 267.8,134.3 268.3,130.6 268.8,134.3 269.3,133.2 269.8,135.3 270.3,135.8 270.8,135.5 271.3,132.1 271.8,134.5 272.3,135.7 272.8,133.2 273.3,136.5 273.8,135.9 274.3,136.4 274.8,135.9 275.3,136.2 275.8,137.1 276.3,136.4 276.8,137.3 277.3,137.5 277.8,136.9 278.3,137.8 278.8,137.6 279.3,138.2 279.8,137.9 280.3,137.5 280.8,138.6 281.3,136.7 281.8,139.3 282.3,138.9 282.8,138.7 283.3,139.6 283.8,139.5 284.3,140.0 284.8,140.1 285.3,140.9 285.8,141.5 286.3,141.5 286.8,141.0 287.3,142.3 287.8,141.7 288.3,143.3 288.8,141.1 289.3,143.7 289.8,143.5 290.3,142.0 290.8,144.4 291.3,144.1 291.8,144.5 292.3,145.1 292.8,145.4 293.3,145.5 293.8,142.4 294.3,143.3 294.8,146.8 295.3,147.6 295.8,148.3 296.3,146.7 296.8,148.7 297.3,147.7 297.8,147.3 298.3,147.8 298.8,147.9 299.3,148.1 299.8,147.2 300.3,147.2 300.8,147.3 301.3,146.8 301.8,146.1 302.3,146.0 302.8,146.9 303.3,146.3 303.8,145.8 304.3,145.5 304.8,143.4 305.3,145.7 305.8,145.6 306.3,144.2 306.8,144.4 307.3,144.5 307.8,144.4 308.3,143.1 308.8,143.5 309.3,143.1 309.8,141.8 310.3,142.7 310.8,142.3 311.3,141.7 311.8,141.5 312.3,140.8 312.8,137.0 313.3,140.6 313.8,141.0 314.3,140.1 314.8,136.6 315.3,140.2 315.8,139.2 316.3,136.8 316.8,138.9 317.3,139.5 317.8,139.4 318.3,138.6 318.8,138.4 319.3,137.8 319.8,138.0 320.3,138.4 320.8,137.8 321.3,137.5 321.8,136.8 322.3,137.3 322.8,136.7 323.3,136.5 323.8,135.8 324.3,133.8 324.8,135.3 325.3,135.7 325.8,135.5 326.3,134.4 326.8,136.1 327.3,135.0 327.8,135.7 328.3,135.8 328.8,136.6 329.3,135.8 329.8,135.5 330.3,136.9 330.8,136.1 331.3,136.5 331.8,133.4 332.3,137.1 332.8,136.2 333.3,137.4 333.8,133.5 334.3,135.4 334.8,137.0 335.3,137.1 335.8,137.8 336.3,137.2 336.8,133.5 337.3,137.0 337.8,137.5 338.3,137.8 338.8,138.2 339.3,138.2 339.8,137.9 340.3,138.3 340.8,138.7 341.3,138.2 341.8,138.7 342.3,139.4 342.8,138.9 343.3,139.4 343.8,139.3 344.3,139.2 344.8,139.5 345.3,135.4 345.8,139.3 346.3,139.9 346.8,139.6 347.3,139.4 347.8,139.5 348.3,136.6 348.8,140.2 349.3,140.8 349.8,140.3 350.3,140.8 350.8,139.9 351.3,140.9 351.8,138.8 352.3,140.4 352.8,136.7 353.3,141.5 353.8,141.2 354.3,141.1 354.8,138.2 355.3,140.8 355.8,141.6 356.3,141.9 356.8,141.5 357.3,141.3 357.8,141.3 358.3,141.8 358.8,141.7 359.3,142.2 359.8,141.7 360.3,141.4 360.8,141.6 361.3,141.9 361.8,142.6 362.3,143.0 362.8,141.2 363.3,139.2 363.8,139.9 364.3,143.7 364.8,143.6 365.3,143.6 365.8,141.9 366.3,140.8 366.8,143.5 367.3,144.5 367.8,144.2 368.3,144.9 368.8,144.4 369.3,144.8 369.8,145.5 370.3,144.6 370.8,142.9 371.3,145.8 371.8,145.8 372.3,144.4 372.8,146.1 373.3,145.6 373.8,146.3 374.3,143.7 374.8,145.6 375.3,145.7 375.8,146.9 376.3,146.3 376.8,144.4 377.3,147.2 377.8,146.2 378.3,147.2 378.8,146.7 379.3,147.6 379.8,146.6 380.3,147.4 380.8,146.7 381.3,145.4 381.8,147.6 382.3,143.8 382.8,147.8 383.3,147.1 383.8,147.6 384.3,148.5 384.8,147.7 385.3,147.8 385.8,147.9 386.3,147.5 386.8,148.9 387.3,148.7 387.8,148.3 388.3,148.9 388.8,148.3 389.3,148.4 389.8,148.3 390.3,149.1 390.8,148.2 391.3,148.5 391.8,148.9 392.3,148.6 392.8,147.5 393.3,144.6 393.8,149.3 393.8,158.0 393.3,157.5 392.8,157.3 392.3,158.2 391.8,158.1 391.3,158.1 390.8,158.1 390.3,158.3 389.8,157.9 389.3,158.2 388.8,157.5 388.3,157.9 387.8,158.0 387.3,157.3 386.8,157.7 386.3,158.2 385.8,157.2 385.3,158.3 384.8,157.4 384.3,157.4 383.8,157.4 383.3,157.6 382.8,157.4 382.3,157.8 381.8,157.7 381.3,158.3 380.8,158.0 380.3,157.5 379.8,157.4 379.3,157.8 378.8,157.6 378.3,157.4 377.8,157.8 377.3,157.8 376.8,157.5 376.3,157.7 375.8,158.2 375.3,157.2 374.8,158.2 374.3,157.8 373.8,157.5 373.3,157.6 372.8,157.3 372.3,158.2 371.8,157.7 371.3,157.5 370.8,157.3 370.3,156.7 369.8,156.7 369.3,156.4 368.8,156.5 368.3,156.5 367.8,156.5 367.3,155.8 366.8,155.8 366.3,155.6 365.8,155.4 365.3,155.9 364.8,155.2 364.3,155.4 363.8,154.6 363.3,154.4 362.8,155.0 362.3,154.5 361.8,154.8 361.3,154.3 360.8,154.0 360.3,153.9 359.8,155.2 359.3,155.2 358.8,154.7 358.3,155.6 357.8,155.8 357.3,156.1 356.8,155.6 356.3,155.7 355.8,157.0 355.3,157.1 354.8,157.1 354.3,157.6 353.8,157.5 353.3,157.7 352.8,158.2 352.3,157.8 351.8,158.8 351.3,157.4 350.8,157.6 350.3,156.1 349.8,155.1 349.3,154.8 348.8,154.2 348.3,153.2 347.8,152.3 347.3,152.4 346.8,151.7 346.3,151.9 345.8,151.9 345.3,151.7 344.8,150.5 344.3,150.8 343.8,150.7 343.3,150.0 342.8,150.2 342.3,150.1 341.8,150.1 341.3,149.1 340.8,149.0 340.3,148.6 339.8,148.5 339.3,148.6 338.8,148.7 338.3,148.2 337.8,148.5 337.3,147.3 336.8,147.8 336.3,148.1 335.8,147.0 335.3,147.2 334.8,146.9 334.3,147.7 333.8,147.3 333.3,147.3 332.8,147.2 332.3,147.3 331.8,146.7 331.3,146.7 330.8,146.0 330.3,146.5 329.8,145.8 329.3,146.1 328.8,145.7 328.3,145.9 327.8,145.6 327.3,146.2 326.8,145.7 326.3,145.3 325.8,145.6 325.3,144.9 324.8,145.0 324.3,144.6 323.8,145.5 323.3,144.6 322.8,145.1 322.3,144.7 321.8,144.7 321.3,144.6 320.8,143.9 320.3,144.7 319.8,145.5 319.3,145.7 318.8,146.2 318.3,147.1 317.8,147.4 317.3,147.0 316.8,147.5 316.3,148.5 315.8,148.8 315.3,148.8 314.8,149.4 314.3,150.4 313.8,150.1 313.3,151.0 312.8,151.6 312.3,152.3 311.8,151.9 311.3,152.8 310.8,153.0 310.3,153.5 309.8,154.1 309.3,154.2 308.8,154.4 308.3,155.6 307.8,155.1 307.3,156.5 306.8,156.7 306.3,156.4 305.8,157.8 305.3,158.1 304.8,158.1 304.3,158.9 303.8,158.3 303.3,158.2 302.8,158.8 302.3,158.5 301.8,158.4 301.3,159.4 300.8,159.4 300.3,158.8 299.8,158.9 299.3,159.9 298.8,159.5 298.3,159.6 297.8,160.1 297.3,159.4 296.8,160.3 296.3,160.4 295.8,159.8 295.3,160.0 294.8,159.8 294.3,158.9 293.8,158.9 293.3,159.0 292.8,158.9 292.3,158.5 291.8,157.4 291.3,157.5 290.8,156.6 290.3,156.9 289.8,155.9 289.3,155.4 288.8,154.7 288.3,154.8 287.8,154.2 287.3,154.0 286.8,153.9 286.3,153.4 285.8,152.8 285.3,152.7 284.8,152.1 284.3,152.1 283.8,151.4 283.3,151.4 282.8,150.3 282.3,149.8 281.8,149.3 281.3,149.3 280.8,148.9 280.3,148.2 279.8,148.2 279.3,147.7 278.8,148.1 278.3,147.7 277.8,146.8 277.3,146.5 276.8,146.9 276.3,146.9 275.8,146.5 275.3,145.7 274.8,145.1 274.3,145.7 273.8,145.1 273.3,144.9 272.8,144.5 272.3,144.5 271.8,144.3 271.3,143.9 270.8,143.2 270.3,142.8 269.8,142.5 269.3,142.0 268.8,142.6 268.3,142.7 267.8,142.6 267.3,142.2 266.8,142.1 266.3,141.7 265.8,142.0 265.3,141.5 264.8,141.4 264.3,141.8 263.8,141.7 263.3,141.1 262.8,141.2 262.3,141.6 261.8,141.3 261.3,140.8 260.8,141.1 260.3,140.4 259.8,141.2 259.3,140.3 258.8,141.0 258.3,140.5 257.8,140.2 257.3,140.0 256.8,140.6 256.3,140.2 255.8,141.2 255.3,140.6 254.8,141.5 254.3,140.8 253.8,140.9 253.3,141.4 252.8,142.0 252.3,141.5 251.8,142.5 251.3,142.2 250.8,142.3 250.3,142.9 249.8,142.2 249.3,142.7 248.8,143.3 248.3,143.3" fill="#e0203a"/>
<line x1="248.6" x2="248.6" y1="134.84255319148937" y2="84" stroke="#1aa83a" stroke-width="1.4" opacity="0.9"/>
<line x1="258.3" x2="258.3" y1="133.22307692307692" y2="84.6" stroke="#1aa83a" stroke-width="1.4" opacity="0.9"/>
<line x1="262.4" x2="262.4" y1="134.06410256410257" y2="113" stroke="#1aa83a" stroke-width="1.4" opacity="0.9"/>
<line x1="266" x2="266" y1="134.8025641025641" y2="88.6" stroke="#1aa83a" stroke-width="1.4" opacity="0.9"/>
<line x1="269.4" x2="269.4" y1="135.5" y2="82.8" stroke="#1aa83a" stroke-width="1.4" opacity="0.9"/>
<line x1="270.3" x2="270.3" y1="135.76923076923077" y2="103.7" stroke="#1aa83a" stroke-width="1.4" opacity="0.9"/>
<line x1="280.2" x2="280.2" y1="138.73076923076923" y2="79.7" stroke="#1aa83a" stroke-width="1.4" opacity="0.9"/>
<line x1="279.5" x2="279.5" y1="138.52136752136752" y2="103" stroke="#1aa83a" stroke-width="1.4" opacity="0.9"/>
<line x1="286.6" x2="286.6" y1="142.2905982905983" y2="116" stroke="#1aa83a" stroke-width="1.4" opacity="0.9"/>
<line x1="298.3" x2="298.3" y1="148.41463414634146" y2="88.6" stroke="#1aa83a" stroke-width="1.4" opacity="0.9"/>
<line x1="301.7" x2="301.7" y1="147.41951219512194" y2="96.3" stroke="#1aa83a" stroke-width="1.4" opacity="0.9"/>
<line x1="310" x2="310" y1="142.9857142857143" y2="111.7" stroke="#1aa83a" stroke-width="1.4" opacity="0.9"/>
<line x1="314.7" x2="314.7" y1="140.77446808510638" y2="106.8" stroke="#1aa83a" stroke-width="1.4" opacity="0.9"/>
<line x1="322.7" x2="322.7" y1="137.536" y2="82.8" stroke="#1aa83a" stroke-width="1.4" opacity="0.9"/>
<line x1="326.8" x2="326.8" y1="136.18620689655174" y2="65" stroke="#1aa83a" stroke-width="1.4" opacity="0.9"/>
<line x1="330.5" x2="330.5" y1="136.95172413793105" y2="85.9" stroke="#1aa83a" stroke-width="1.4" opacity="0.9"/>
<line x1="340.7" x2="340.7" y1="139.10095238095238" y2="92.6" stroke="#1aa83a" stroke-width="1.4" opacity="0.9"/>
<line x1="344" x2="344" y1="139.82380952380953" y2="103" stroke="#1aa83a" stroke-width="1.4" opacity="0.9"/>
<line x1="345" x2="345" y1="140.04285714285714" y2="82.8" stroke="#1aa83a" stroke-width="1.4" opacity="0.9"/>
<line x1="353" x2="353" y1="141.58461538461538" y2="92" stroke="#1aa83a" stroke-width="1.4" opacity="0.9"/>
<line x1="366.2" x2="366.2" y1="144.61379310344827" y2="83.4" stroke="#1aa83a" stroke-width="1.4" opacity="0.9"/>
<line x1="370" x2="370" y1="145.79310344827584" y2="78.5" stroke="#1aa83a" stroke-width="1.4" opacity="0.9"/>
<line x1="371.4" x2="371.4" y1="146.22758620689655" y2="90.8" stroke="#1aa83a" stroke-width="1.4" opacity="0.9"/>
<line x1="375.7" x2="375.7" y1="147.11079545454544" y2="82.8" stroke="#1aa83a" stroke-width="1.4" opacity="0.9"/>
<line x1="384" x2="384" y1="148.47840909090908" y2="90.8" stroke="#1aa83a" stroke-width="1.4" opacity="0.9"/>
<line x1="391.4" x2="391.4" y1="149.5" y2="101.3" stroke="#1aa83a" stroke-width="1.4" opacity="0.9"/>
<line x1="364.3" x2="364.3" y1="146" y2="113" stroke="#e0203a" stroke-width="1.1"/>
<rect x="248.3" y="54.7" width="145.7" height="114.3" fill="none" stroke="#000" stroke-width="1.4"/>
<line x1="248.3" x2="250.3" y1="67.8" y2="67.8" stroke="#000" stroke-width="1.2"/>
<line x1="394" x2="392" y1="67.8" y2="67.8" stroke="#000" stroke-width="1.2"/>
<line x1="248.3" x2="250.3" y1="81.39999999999999" y2="81.39999999999999" stroke="#000" stroke-width="1.2"/>
<line x1="394" x2="392" y1="81.39999999999999" y2="81.39999999999999" stroke="#000" stroke-width="1.2"/>
<line x1="248.3" x2="250.3" y1="95.0" y2="95.0" stroke="#000" stroke-width="1.2"/>
<line x1="394" x2="392" y1="95.0" y2="95.0" stroke="#000" stroke-width="1.2"/>
<line x1="248.3" x2="250.3" y1="108.6" y2="108.6" stroke="#000" stroke-width="1.2"/>
<line x1="394" x2="392" y1="108.6" y2="108.6" stroke="#000" stroke-width="1.2"/>
<line x1="248.3" x2="250.3" y1="122.19999999999999" y2="122.19999999999999" stroke="#000" stroke-width="1.2"/>
<line x1="394" x2="392" y1="122.19999999999999" y2="122.19999999999999" stroke="#000" stroke-width="1.2"/>
<line x1="248.3" x2="250.3" y1="135.8" y2="135.8" stroke="#000" stroke-width="1.2"/>
<line x1="394" x2="392" y1="135.8" y2="135.8" stroke="#000" stroke-width="1.2"/>
<line x1="248.3" x2="250.3" y1="149.39999999999998" y2="149.39999999999998" stroke="#000" stroke-width="1.2"/>
<line x1="394" x2="392" y1="149.39999999999998" y2="149.39999999999998" stroke="#000" stroke-width="1.2"/>
<line x1="248.3" x2="250.3" y1="163.0" y2="163.0" stroke="#000" stroke-width="1.2"/>
<line x1="394" x2="392" y1="163.0" y2="163.0" stroke="#000" stroke-width="1.2"/>
<line x1="272.6" x2="272.6" y1="169" y2="167" stroke="#000" stroke-width="1.2"/>
<line x1="272.6" x2="272.6" y1="54.7" y2="56.7" stroke="#000" stroke-width="1.2"/>
<line x1="296.9" x2="296.9" y1="169" y2="167" stroke="#000" stroke-width="1.2"/>
<line x1="296.9" x2="296.9" y1="54.7" y2="56.7" stroke="#000" stroke-width="1.2"/>
<line x1="321.1" x2="321.1" y1="169" y2="167" stroke="#000" stroke-width="1.2"/>
<line x1="321.1" x2="321.1" y1="54.7" y2="56.7" stroke="#000" stroke-width="1.2"/>
<line x1="345.4" x2="345.4" y1="169" y2="167" stroke="#000" stroke-width="1.2"/>
<line x1="345.4" x2="345.4" y1="54.7" y2="56.7" stroke="#000" stroke-width="1.2"/>
<line x1="369.7" x2="369.7" y1="169" y2="167" stroke="#000" stroke-width="1.2"/>
<line x1="369.7" x2="369.7" y1="54.7" y2="56.7" stroke="#000" stroke-width="1.2"/>
<text x="239.8" y="68.4" font-size="10.3" fill="#3a3a3a" text-anchor="end" >1.8</text>
<text x="239.8" y="82.97000000000001" font-size="10.3" fill="#3a3a3a" text-anchor="end" >1.6</text>
<text x="239.8" y="97.54" font-size="10.3" fill="#3a3a3a" text-anchor="end" >1.4</text>
<text x="239.8" y="112.11" font-size="10.3" fill="#3a3a3a" text-anchor="end" >1.2</text>
<text x="239.8" y="126.68" font-size="10.3" fill="#3a3a3a" text-anchor="end" >1</text>
<text x="239.8" y="141.25" font-size="10.3" fill="#3a3a3a" text-anchor="end" >0.8</text>
<text x="239.8" y="155.82" font-size="10.3" fill="#3a3a3a" text-anchor="end" >0.6</text>
<text x="239.8" y="170.39" font-size="10.3" fill="#3a3a3a" text-anchor="end" >0.4</text>
<text x="246.4" y="185.4" font-size="10.3" fill="#3a3a3a" text-anchor="middle" >0</text>
<text x="263" y="185.4" font-size="10.3" fill="#3a3a3a" text-anchor="middle" >100</text>
<text x="289" y="185.4" font-size="10.3" fill="#3a3a3a" text-anchor="middle" >200</text>
<text x="315.5" y="185.4" font-size="10.3" fill="#3a3a3a" text-anchor="middle" >300</text>
<text x="342" y="185.4" font-size="10.3" fill="#3a3a3a" text-anchor="middle" >400</text>
<text x="368.5" y="185.4" font-size="10.3" fill="#3a3a3a" text-anchor="middle" >500</text>
<text x="395" y="185.4" font-size="10.3" fill="#3a3a3a" text-anchor="middle" >600</text>
<text x="321.5" y="205.5" font-size="11.3" fill="#111" text-anchor="middle" >Time (s)</text>
<text transform="translate(217,113) rotate(-90)" font-size="11.6" fill="#111" text-anchor="middle">PMT Signal (V)</text>
<polygon points="440.0,140.3 440.5,139.9 441.0,140.4 441.5,140.8 442.0,140.4 442.5,139.7 443.0,140.5 443.5,140.6 444.0,141.2 444.5,140.9 445.0,140.8 445.5,141.4 446.0,141.4 446.5,141.8 447.0,141.5 447.5,142.0 448.0,141.4 448.5,142.0 449.0,142.0 449.5,142.2 450.0,142.1 450.5,142.1 451.0,142.1 451.5,142.5 452.0,141.0 452.5,142.3 453.0,142.1 453.5,142.2 454.0,142.3 454.5,142.1 455.0,142.1 455.5,139.8 456.0,142.8 456.5,142.0 457.0,142.8 457.5,142.3 458.0,142.3 458.5,142.3 459.0,142.9 459.5,142.9 460.0,142.4 460.5,143.0 461.0,142.6 461.5,142.8 462.0,143.0 462.5,143.1 463.0,142.6 463.5,142.8 464.0,142.8 464.5,143.0 465.0,142.6 465.5,142.7 466.0,143.3 466.5,143.3 467.0,142.8 467.5,140.9 468.0,143.2 468.5,140.7 469.0,142.8 469.5,142.8 470.0,142.7 470.5,143.0 471.0,143.1 471.5,142.9 472.0,143.1 472.5,142.0 473.0,143.5 473.5,143.5 474.0,143.1 474.5,143.5 475.0,143.4 475.5,143.2 476.0,143.7 476.5,143.0 477.0,143.2 477.5,143.8 478.0,143.4 478.5,143.7 479.0,142.8 479.5,142.8 480.0,141.4 480.5,143.6 481.0,143.4 481.5,143.7 482.0,143.6 482.5,143.2 483.0,143.1 483.5,141.8 484.0,143.3 484.5,143.6 485.0,143.7 485.5,143.5 486.0,143.8 486.5,143.3 487.0,143.7 487.5,143.2 488.0,144.0 488.5,144.0 489.0,143.5 489.5,143.5 490.0,143.4 490.5,143.4 491.0,143.9 491.5,144.1 492.0,143.4 492.5,144.0 493.0,143.6 493.5,143.8 494.0,143.6 494.5,144.1 495.0,143.8 495.5,143.6 496.0,143.8 496.5,143.8 497.0,144.0 497.5,143.8 498.0,143.7 498.5,143.6 499.0,144.0 499.5,143.9 500.0,143.7 500.5,143.5 501.0,143.5 501.5,143.7 502.0,143.7 502.5,143.9 503.0,143.6 503.5,143.6 504.0,144.2 504.5,143.8 505.0,143.8 505.5,143.7 506.0,144.1 506.5,144.3 507.0,143.3 507.5,142.2 508.0,143.6 508.5,143.8 509.0,144.4 509.5,144.3 510.0,143.8 510.5,143.4 511.0,144.4 511.5,143.9 512.0,144.4 512.5,143.9 513.0,144.3 513.5,144.4 514.0,144.2 514.5,144.0 515.0,144.5 515.5,144.5 516.0,144.3 516.5,143.8 517.0,144.0 517.5,144.1 518.0,144.3 518.5,144.0 519.0,142.7 519.5,144.0 520.0,143.9 520.5,143.0 521.0,143.9 521.5,144.2 522.0,143.9 522.5,142.8 523.0,144.1 523.5,144.1 524.0,144.6 524.5,144.2 525.0,144.4 525.5,144.6 526.0,144.6 526.5,144.4 527.0,144.6 527.5,144.0 528.0,144.4 528.5,144.1 529.0,144.7 529.5,144.1 530.0,143.3 530.5,143.5 531.0,144.3 531.5,144.7 532.0,144.0 532.5,144.6 533.0,144.5 533.5,144.5 534.0,144.4 534.5,144.2 535.0,144.7 535.5,144.7 536.0,142.2 536.5,144.1 537.0,144.2 537.5,142.3 538.0,144.1 538.5,144.4 539.0,144.5 539.5,144.3 540.0,144.6 540.5,144.2 541.0,144.2 541.5,144.5 542.0,144.4 542.5,144.5 543.0,144.9 543.5,144.6 544.0,144.2 544.5,144.2 545.0,144.8 545.5,144.4 546.0,144.5 546.5,144.2 547.0,143.7 547.5,144.5 548.0,144.5 548.5,144.5 549.0,143.9 549.5,144.8 550.0,144.4 550.5,144.7 551.0,145.0 551.5,144.7 552.0,144.4 552.5,145.0 553.0,145.0 553.5,145.0 554.0,145.0 554.5,144.9 555.0,145.0 555.5,145.1 556.0,144.4 556.5,144.8 557.0,145.0 557.5,145.1 558.0,144.4 558.5,144.4 559.0,145.0 559.5,144.7 560.0,144.8 560.5,143.3 561.0,144.6 561.5,144.7 562.0,144.8 562.5,142.8 563.0,144.5 563.5,144.5 564.0,144.8 564.5,144.7 565.0,144.8 565.5,144.6 566.0,144.7 566.5,145.0 567.0,144.6 567.5,143.5 568.0,145.1 568.5,145.1 569.0,145.2 569.5,145.1 570.0,144.9 570.5,144.9 571.0,145.1 571.5,144.0 572.0,145.2 572.5,145.4 573.0,145.4 573.5,145.0 574.0,144.7 574.5,145.3 575.0,144.7 575.5,144.8 576.0,143.5 576.5,144.9 577.0,144.9 577.5,144.8 578.0,145.1 578.5,145.3 579.0,145.4 579.5,144.9 580.0,145.2 580.5,144.7 581.0,145.5 581.5,145.0 582.0,145.3 582.5,145.1 583.0,145.5 583.5,145.0 584.0,144.9 584.5,145.6 585.0,145.2 585.5,145.4 585.5,158.9 585.0,158.7 584.5,158.8 584.0,158.9 583.5,158.7 583.0,158.8 582.5,158.9 582.0,158.9 581.5,158.8 581.0,158.7 580.5,158.7 580.0,158.5 579.5,158.5 579.0,158.8 578.5,158.9 578.0,158.6 577.5,158.8 577.0,158.9 576.5,158.8 576.0,158.8 575.5,158.7 575.0,159.0 574.5,158.6 574.0,159.0 573.5,158.8 573.0,158.7 572.5,158.9 572.0,158.4 571.5,158.7 571.0,158.4 570.5,158.8 570.0,158.4 569.5,158.7 569.0,158.6 568.5,158.9 568.0,158.8 567.5,158.8 567.0,158.8 566.5,158.8 566.0,158.6 565.5,158.8 565.0,158.5 564.5,158.4 564.0,158.3 563.5,158.8 563.0,158.7 562.5,158.3 562.0,158.8 561.5,158.6 561.0,158.8 560.5,158.4 560.0,158.7 559.5,158.7 559.0,158.7 558.5,158.4 558.0,158.5 557.5,158.3 557.0,158.6 556.5,158.3 556.0,158.3 555.5,158.8 555.0,158.8 554.5,158.2 554.0,158.7 553.5,158.8 553.0,158.2 552.5,158.5 552.0,158.5 551.5,158.8 551.0,158.2 550.5,158.7 550.0,158.7 549.5,158.4 549.0,158.5 548.5,158.5 548.0,158.2 547.5,158.3 547.0,158.2 546.5,158.8 546.0,158.2 545.5,158.5 545.0,158.4 544.5,158.5 544.0,158.7 543.5,158.7 543.0,158.3 542.5,158.6 542.0,158.2 541.5,158.7 541.0,158.6 540.5,158.2 540.0,158.4 539.5,158.5 539.0,158.2 538.5,158.2 538.0,158.4 537.5,158.5 537.0,158.3 536.5,158.4 536.0,158.1 535.5,158.2 535.0,158.0 534.5,158.5 534.0,158.5 533.5,158.3 533.0,158.1 532.5,158.3 532.0,158.4 531.5,158.2 531.0,158.5 530.5,158.0 530.0,158.2 529.5,158.4 529.0,158.3 528.5,158.5 528.0,158.0 527.5,158.6 527.0,158.4 526.5,158.0 526.0,158.5 525.5,158.4 525.0,158.5 524.5,158.0 524.0,157.9 523.5,158.5 523.0,158.2 522.5,158.4 522.0,158.3 521.5,158.0 521.0,158.4 520.5,158.1 520.0,158.3 519.5,158.0 519.0,158.3 518.5,158.2 518.0,158.1 517.5,158.1 517.0,157.9 516.5,158.2 516.0,158.3 515.5,158.4 515.0,158.3 514.5,158.0 514.0,158.3 513.5,157.8 513.0,158.3 512.5,158.0 512.0,158.1 511.5,157.8 511.0,158.1 510.5,158.2 510.0,158.3 509.5,158.2 509.0,157.6 508.5,157.7 508.0,158.0 507.5,157.5 507.0,157.7 506.5,157.8 506.0,157.8 505.5,157.9 505.0,157.3 504.5,157.4 504.0,157.3 503.5,157.4 503.0,157.3 502.5,157.7 502.0,157.3 501.5,157.2 501.0,157.6 500.5,157.4 500.0,157.4 499.5,157.6 499.0,157.1 498.5,156.9 498.0,157.2 497.5,157.1 497.0,157.1 496.5,157.2 496.0,156.7 495.5,156.8 495.0,156.9 494.5,157.1 494.0,156.9 493.5,157.1 493.0,156.6 492.5,156.5 492.0,156.4 491.5,156.5 491.0,156.4 490.5,156.7 490.0,156.3 489.5,156.3 489.0,156.3 488.5,156.5 488.0,156.4 487.5,156.3 487.0,156.6 486.5,156.1 486.0,156.1 485.5,156.1 485.0,156.3 484.5,156.3 484.0,155.9 483.5,156.3 483.0,156.1 482.5,155.9 482.0,156.1 481.5,155.9 481.0,156.3 480.5,156.2 480.0,156.1 479.5,155.6 479.0,155.8 478.5,155.9 478.0,155.6 477.5,155.9 477.0,155.7 476.5,155.4 476.0,155.4 475.5,155.4 475.0,155.5 474.5,155.4 474.0,155.6 473.5,155.0 473.0,155.0 472.5,155.5 472.0,155.2 471.5,155.3 471.0,154.9 470.5,155.0 470.0,155.1 469.5,155.3 469.0,154.9 468.5,154.7 468.0,155.0 467.5,155.0 467.0,154.9 466.5,154.6 466.0,154.7 465.5,154.6 465.0,154.7 464.5,154.3 464.0,154.4 463.5,154.1 463.0,154.3 462.5,154.3 462.0,154.3 461.5,154.2 461.0,154.2 460.5,154.0 460.0,154.2 459.5,153.8 459.0,153.7 458.5,153.8 458.0,154.0 457.5,154.0 457.0,153.6 456.5,153.5 456.0,153.3 455.5,153.3 455.0,153.4 454.5,153.3 454.0,153.1 453.5,153.3 453.0,153.1 452.5,153.2 452.0,153.0 451.5,153.2 451.0,153.1 450.5,153.1 450.0,152.6 449.5,152.5 449.0,152.6 448.5,152.3 448.0,152.1 447.5,152.1 447.0,152.0 446.5,151.9 446.0,151.9 445.5,151.9 445.0,151.6 444.5,151.4 444.0,151.5 443.5,151.6 443.0,151.4 442.5,151.3 442.0,150.9 441.5,151.1 441.0,150.9 440.5,150.7 440.0,150.6" fill="#1aa83a"/>
<polygon points="440.0,140.5 440.5,140.3 441.0,140.2 441.5,140.7 442.0,140.3 442.5,139.6 443.0,138.8 443.5,140.2 444.0,140.7 444.5,140.5 445.0,141.3 445.5,140.6 446.0,137.5 446.5,138.0 447.0,141.0 447.5,140.8 448.0,141.8 448.5,141.5 449.0,140.8 449.5,141.8 450.0,141.0 450.5,141.3 451.0,141.8 451.5,141.8 452.0,141.2 452.5,142.7 453.0,141.7 453.5,142.6 454.0,142.0 454.5,142.0 455.0,141.7 455.5,141.7 456.0,142.3 456.5,141.7 457.0,142.2 457.5,142.1 458.0,141.6 458.5,141.9 459.0,138.5 459.5,141.9 460.0,142.3 460.5,142.4 461.0,141.6 461.5,142.0 462.0,142.3 462.5,142.1 463.0,142.4 463.5,138.8 464.0,142.3 464.5,142.7 465.0,142.2 465.5,142.7 466.0,142.7 466.5,141.9 467.0,142.4 467.5,142.1 468.0,143.1 468.5,142.5 469.0,141.6 469.5,143.2 470.0,143.1 470.5,142.4 471.0,143.5 471.5,142.7 472.0,137.9 472.5,143.0 473.0,139.9 473.5,142.8 474.0,142.4 474.5,142.5 475.0,142.3 475.5,143.2 476.0,142.8 476.5,142.9 477.0,143.7 477.5,142.4 478.0,142.8 478.5,142.5 479.0,142.9 479.5,142.9 480.0,142.6 480.5,142.9 481.0,143.2 481.5,143.4 482.0,143.2 482.5,140.6 483.0,143.0 483.5,143.6 484.0,142.6 484.5,143.4 485.0,143.3 485.5,143.4 486.0,143.5 486.5,143.0 487.0,142.9 487.5,143.6 488.0,142.6 488.5,141.0 489.0,140.8 489.5,142.9 490.0,142.8 490.5,143.2 491.0,143.0 491.5,143.3 492.0,144.1 492.5,143.9 493.0,143.0 493.5,141.3 494.0,143.2 494.5,144.0 495.0,143.5 495.5,143.4 496.0,144.1 496.5,143.9 497.0,143.1 497.5,144.1 498.0,143.3 498.5,139.7 499.0,142.9 499.5,143.5 500.0,143.0 500.5,142.9 501.0,142.8 501.5,144.1 502.0,142.9 502.5,139.9 503.0,143.1 503.5,143.1 504.0,143.5 504.5,143.8 505.0,140.3 505.5,143.8 506.0,144.2 506.5,142.9 507.0,144.1 507.5,143.1 508.0,144.4 508.5,143.5 509.0,143.5 509.5,143.0 510.0,144.2 510.5,143.1 511.0,143.7 511.5,143.2 512.0,143.1 512.5,142.7 513.0,144.3 513.5,143.9 514.0,143.4 514.5,143.1 515.0,144.4 515.5,144.4 516.0,143.4 516.5,143.2 517.0,143.1 517.5,143.3 518.0,144.5 518.5,144.0 519.0,144.4 519.5,143.5 520.0,144.5 520.5,144.3 521.0,143.7 521.5,143.4 522.0,144.1 522.5,143.9 523.0,140.9 523.5,144.2 524.0,144.6 524.5,144.4 525.0,144.2 525.5,143.9 526.0,143.3 526.5,144.5 527.0,144.6 527.5,143.9 528.0,144.2 528.5,143.6 529.0,144.1 529.5,144.2 530.0,144.7 530.5,144.0 531.0,143.9 531.5,143.7 532.0,143.7 532.5,143.7 533.0,143.8 533.5,143.5 534.0,144.0 534.5,143.7 535.0,144.0 535.5,143.5 536.0,144.6 536.5,144.8 537.0,144.3 537.5,142.4 538.0,144.7 538.5,144.0 539.0,143.6 539.5,143.5 540.0,143.8 540.5,144.1 541.0,143.6 541.5,144.3 542.0,143.9 542.5,143.6 543.0,144.7 543.5,142.7 544.0,143.6 544.5,143.9 545.0,144.4 545.5,144.5 546.0,144.4 546.5,144.9 547.0,144.7 547.5,144.5 548.0,144.9 548.5,144.2 549.0,144.1 549.5,145.0 550.0,144.2 550.5,144.6 551.0,143.7 551.5,144.1 552.0,141.0 552.5,144.1 553.0,144.7 553.5,143.8 554.0,143.9 554.5,144.4 555.0,144.8 555.5,143.8 556.0,141.9 556.5,145.1 557.0,144.3 557.5,144.5 558.0,144.2 558.5,142.7 559.0,144.7 559.5,145.1 560.0,144.8 560.5,143.9 561.0,145.1 561.5,144.6 562.0,145.2 562.5,145.1 563.0,144.9 563.5,144.4 564.0,143.9 564.5,144.8 565.0,144.0 565.5,145.0 566.0,143.9 566.5,144.5 567.0,143.9 567.5,144.5 568.0,144.1 568.5,144.9 569.0,144.9 569.5,144.3 570.0,144.8 570.5,144.4 571.0,145.3 571.5,144.5 572.0,145.4 572.5,144.5 573.0,144.1 573.5,145.4 574.0,144.3 574.5,142.6 575.0,144.6 575.5,144.5 576.0,143.7 576.5,145.4 577.0,144.4 577.5,145.4 578.0,144.5 578.5,144.3 579.0,144.8 579.5,144.5 580.0,145.5 580.5,145.3 581.0,144.7 581.5,144.5 582.0,144.8 582.5,144.1 583.0,145.3 583.5,144.5 584.0,144.2 584.5,144.5 585.0,145.1 585.5,145.4 585.5,155.0 585.0,154.9 584.5,155.8 584.0,155.2 583.5,155.2 583.0,155.1 582.5,155.7 582.0,154.8 581.5,155.4 581.0,154.6 580.5,155.4 580.0,155.5 579.5,155.4 579.0,154.8 578.5,155.0 578.0,155.1 577.5,155.6 577.0,155.5 576.5,154.9 576.0,154.8 575.5,154.6 575.0,155.3 574.5,155.1 574.0,154.5 573.5,155.1 573.0,154.6 572.5,155.2 572.0,154.8 571.5,155.4 571.0,155.4 570.5,155.0 570.0,155.5 569.5,155.3 569.0,155.3 568.5,155.0 568.0,155.2 567.5,154.5 567.0,155.4 566.5,155.0 566.0,155.5 565.5,154.7 565.0,155.2 564.5,154.8 564.0,155.5 563.5,154.7 563.0,154.7 562.5,155.3 562.0,155.1 561.5,155.0 561.0,155.2 560.5,154.8 560.0,154.8 559.5,155.0 559.0,155.3 558.5,154.6 558.0,154.3 557.5,154.4 557.0,154.7 556.5,154.4 556.0,154.8 555.5,154.8 555.0,154.7 554.5,154.2 554.0,155.0 553.5,154.2 553.0,155.0 552.5,154.3 552.0,154.5 551.5,154.7 551.0,154.5 550.5,154.8 550.0,154.5 549.5,155.1 549.0,154.4 548.5,154.5 548.0,154.2 547.5,155.1 547.0,154.7 546.5,154.7 546.0,154.6 545.5,154.3 545.0,154.3 544.5,154.5 544.0,155.0 543.5,154.7 543.0,154.4 542.5,155.1 542.0,154.8 541.5,154.4 541.0,154.6 540.5,154.0 540.0,154.3 539.5,155.1 539.0,155.0 538.5,154.7 538.0,154.0 537.5,153.9 537.0,154.5 536.5,154.6 536.0,154.2 535.5,154.4 535.0,154.3 534.5,154.3 534.0,154.9 533.5,154.9 533.0,154.1 532.5,154.1 532.0,154.4 531.5,153.9 531.0,154.6 530.5,153.8 530.0,154.3 529.5,154.9 529.0,153.9 528.5,153.9 528.0,154.6 527.5,153.8 527.0,154.2 526.5,153.7 526.0,154.5 525.5,154.8 525.0,154.5 524.5,153.7 524.0,154.5 523.5,153.7 523.0,154.1 522.5,154.1 522.0,153.6 521.5,153.9 521.0,154.1 520.5,154.2 520.0,154.3 519.5,154.7 519.0,153.6 518.5,154.1 518.0,154.4 517.5,154.3 517.0,154.1 516.5,154.3 516.0,153.7 515.5,153.7 515.0,153.5 514.5,154.2 514.0,154.1 513.5,154.4 513.0,153.8 512.5,154.2 512.0,154.3 511.5,154.1 511.0,153.7 510.5,153.9 510.0,153.7 509.5,153.4 509.0,153.4 508.5,154.2 508.0,154.1 507.5,153.6 507.0,153.9 506.5,153.7 506.0,153.7 505.5,153.8 505.0,154.0 504.5,154.0 504.0,154.2 503.5,154.3 503.0,153.4 502.5,153.1 502.0,154.2 501.5,153.3 501.0,153.5 500.5,153.4 500.0,153.1 499.5,153.4 499.0,153.4 498.5,154.0 498.0,153.4 497.5,152.9 497.0,153.2 496.5,153.0 496.0,153.3 495.5,152.9 495.0,152.8 494.5,153.4 494.0,152.7 493.5,152.9 493.0,153.4 492.5,153.3 492.0,153.2 491.5,153.3 491.0,152.9 490.5,153.5 490.0,153.2 489.5,153.7 489.0,153.1 488.5,153.4 488.0,153.1 487.5,152.5 487.0,152.7 486.5,153.4 486.0,152.4 485.5,153.4 485.0,152.5 484.5,152.6 484.0,153.3 483.5,152.7 483.0,152.5 482.5,152.5 482.0,152.9 481.5,152.4 481.0,152.4 480.5,152.6 480.0,152.6 479.5,152.6 479.0,152.7 478.5,153.0 478.0,152.5 477.5,152.2 477.0,152.1 476.5,152.2 476.0,152.0 475.5,152.4 475.0,152.3 474.5,152.5 474.0,152.1 473.5,152.0 473.0,152.3 472.5,152.8 472.0,152.4 471.5,152.3 471.0,152.3 470.5,152.0 470.0,152.0 469.5,151.9 469.0,152.2 468.5,152.2 468.0,152.4 467.5,152.0 467.0,152.3 466.5,152.0 466.0,151.4 465.5,151.7 465.0,151.6 464.5,151.6 464.0,152.2 463.5,151.7 463.0,152.3 462.5,152.0 462.0,151.4 461.5,151.7 461.0,151.1 460.5,151.6 460.0,151.4 459.5,151.4 459.0,151.8 458.5,151.7 458.0,151.9 457.5,150.8 457.0,150.7 456.5,151.0 456.0,151.7 455.5,151.3 455.0,150.9 454.5,151.0 454.0,151.4 453.5,151.3 453.0,150.9 452.5,151.3 452.0,151.4 451.5,150.3 451.0,150.2 450.5,151.3 450.0,151.0 449.5,151.0 449.0,151.0 448.5,150.8 448.0,150.4 447.5,150.3 447.0,150.2 446.5,150.9 446.0,150.6 445.5,149.7 445.0,150.6 444.5,150.6 444.0,149.6 443.5,150.6 443.0,149.8 442.5,149.4 442.0,150.0 441.5,149.4 441.0,150.3 440.5,149.7 440.0,150.1" fill="#e0203a"/>
<line x1="445.1" x2="445.1" y1="141.5532710280374" y2="87.7" stroke="#1aa83a" stroke-width="1.4" opacity="0.85"/>
<line x1="449.7" x2="449.7" y1="142.41308411214953" y2="110" stroke="#1aa83a" stroke-width="1.4" opacity="0.85"/>
<line x1="451.5" x2="451.5" y1="142.63764705882352" y2="78.5" stroke="#1aa83a" stroke-width="1.4" opacity="0.85"/>
<line x1="452.8" x2="452.8" y1="142.69882352941175" y2="77.2" stroke="#1aa83a" stroke-width="1.4" opacity="0.85"/>
<line x1="462" x2="462" y1="143.13176470588235" y2="99.4" stroke="#1aa83a" stroke-width="1.4" opacity="0.85"/>
<line x1="475" x2="475" y1="143.7435294117647" y2="66.8" stroke="#1aa83a" stroke-width="1.4" opacity="0.85"/>
<line x1="480.5" x2="480.5" y1="143.88431372549022" y2="74.8" stroke="#1aa83a" stroke-width="1.4" opacity="0.85"/>
<line x1="481" x2="481" y1="143.89411764705883" y2="80.3" stroke="#1aa83a" stroke-width="1.4" opacity="0.85"/>
<line x1="483.2" x2="483.2" y1="143.93725490196078" y2="63" stroke="#1aa83a" stroke-width="1.4" opacity="0.85"/>
<line x1="496.5" x2="496.5" y1="144.1980392156863" y2="64.3" stroke="#1aa83a" stroke-width="1.4" opacity="0.85"/>
<line x1="501" x2="501" y1="144.28627450980392" y2="98.8" stroke="#1aa83a" stroke-width="1.4" opacity="0.85"/>
<line x1="504.5" x2="504.5" y1="144.3549019607843" y2="71.7" stroke="#1aa83a" stroke-width="1.4" opacity="0.85"/>
<line x1="514.9" x2="514.9" y1="144.54483695652175" y2="68" stroke="#1aa83a" stroke-width="1.4" opacity="0.85"/>
<line x1="516" x2="516" y1="144.56127717391306" y2="128.9" stroke="#1aa83a" stroke-width="1.4" opacity="0.85"/>
<line x1="525.2" x2="525.2" y1="144.69877717391304" y2="115.2" stroke="#1aa83a" stroke-width="1.4" opacity="0.85"/>
<line x1="531" x2="531" y1="144.78546195652174" y2="69.3" stroke="#1aa83a" stroke-width="1.4" opacity="0.85"/>
<line x1="532" x2="532" y1="144.80040760869565" y2="64.3" stroke="#1aa83a" stroke-width="1.4" opacity="0.85"/>
<line x1="536.2" x2="536.2" y1="144.86317934782608" y2="68.6" stroke="#1aa83a" stroke-width="1.4" opacity="0.85"/>
<line x1="538" x2="538" y1="144.89008152173912" y2="128.9" stroke="#1aa83a" stroke-width="1.4" opacity="0.85"/>
<line x1="541" x2="541" y1="144.93491847826087" y2="77.9" stroke="#1aa83a" stroke-width="1.4" opacity="0.85"/>
<line x1="550.3" x2="550.3" y1="145.07391304347826" y2="108.4" stroke="#1aa83a" stroke-width="1.4" opacity="0.85"/>
<line x1="552" x2="552" y1="145.0993206521739" y2="65.5" stroke="#1aa83a" stroke-width="1.4" opacity="0.85"/>
<line x1="553" x2="553" y1="145.11426630434784" y2="61.9" stroke="#1aa83a" stroke-width="1.4" opacity="0.85"/>
<line x1="563.6" x2="563.6" y1="145.2726902173913" y2="65.5" stroke="#1aa83a" stroke-width="1.4" opacity="0.85"/>
<line x1="573.5" x2="573.5" y1="145.42065217391303" y2="63" stroke="#1aa83a" stroke-width="1.4" opacity="0.85"/>
<line x1="579.6" x2="579.6" y1="145.5118206521739" y2="79" stroke="#1aa83a" stroke-width="1.4" opacity="0.85"/>
<line x1="583.7" x2="583.7" y1="145.57309782608695" y2="68" stroke="#1aa83a" stroke-width="1.4" opacity="0.85"/>
<line x1="446.3" x2="446.3" y1="141.77757009345794" y2="126.6" stroke="#e0203a" stroke-width="1" opacity="0.8"/>
<line x1="452" x2="452" y1="142.66117647058823" y2="130.5" stroke="#e0203a" stroke-width="1" opacity="0.8"/>
<line x1="460.3" x2="460.3" y1="143.05176470588236" y2="136.2" stroke="#e0203a" stroke-width="1" opacity="0.8"/>
<line x1="467.3" x2="467.3" y1="143.38117647058823" y2="132.4" stroke="#e0203a" stroke-width="1" opacity="0.8"/>
<line x1="475" x2="475" y1="143.7435294117647" y2="122.2" stroke="#e0203a" stroke-width="1" opacity="0.8"/>
<line x1="483.2" x2="483.2" y1="143.93725490196078" y2="112" stroke="#e0203a" stroke-width="1" opacity="0.8"/>
<line x1="487" x2="487" y1="144.01176470588237" y2="134.3" stroke="#e0203a" stroke-width="1" opacity="0.8"/>
<line x1="490" x2="490" y1="144.07058823529414" y2="112" stroke="#e0203a" stroke-width="1" opacity="0.8"/>
<line x1="496.6" x2="496.6" y1="144.20000000000002" y2="112" stroke="#e0203a" stroke-width="1" opacity="0.8"/>
<line x1="497.8" x2="497.8" y1="144.2235294117647" y2="127.3" stroke="#e0203a" stroke-width="1" opacity="0.8"/>
<line x1="504.9" x2="504.9" y1="144.36274509803923" y2="133" stroke="#e0203a" stroke-width="1" opacity="0.8"/>
<line x1="508.7" x2="508.7" y1="144.43725490196078" y2="137.5" stroke="#e0203a" stroke-width="1" opacity="0.8"/>
<line x1="516" x2="516" y1="144.56127717391306" y2="128.9" stroke="#e0203a" stroke-width="1" opacity="0.8"/>
<line x1="524.4" x2="524.4" y1="144.6868206521739" y2="136.5" stroke="#e0203a" stroke-width="1" opacity="0.8"/>
<line x1="532" x2="532" y1="144.80040760869565" y2="110.6" stroke="#e0203a" stroke-width="1" opacity="0.8"/>
<line x1="536.6" x2="536.6" y1="144.86915760869564" y2="134.2" stroke="#e0203a" stroke-width="1" opacity="0.8"/>
<line x1="547.2" x2="547.2" y1="145.02758152173914" y2="138.8" stroke="#e0203a" stroke-width="1" opacity="0.8"/>
<line x1="553.3" x2="553.3" y1="145.11875" y2="116.7" stroke="#e0203a" stroke-width="1" opacity="0.8"/>
<line x1="557" x2="557" y1="145.17404891304346" y2="135.7" stroke="#e0203a" stroke-width="1" opacity="0.8"/>
<line x1="564" x2="564" y1="145.27866847826087" y2="119.8" stroke="#e0203a" stroke-width="1" opacity="0.8"/>
<line x1="573.8" x2="573.8" y1="145.42513586956522" y2="113.7" stroke="#e0203a" stroke-width="1" opacity="0.8"/>
<line x1="580.7" x2="580.7" y1="145.5282608695652" y2="128.9" stroke="#e0203a" stroke-width="1" opacity="0.8"/>
<path d="M460 93.9 L464 93.9 L462 97.5 Z" fill="#000"/>
<path d="M473 62.5 L477 62.5 L475 66.1 Z" fill="#000"/>
<path d="M478.5 68.7 L482.5 68.7 L480.5 72.3 Z" fill="#000"/>
<path d="M481.2 57.800000000000004 L485.2 57.800000000000004 L483.2 61.4 Z" fill="#000"/>
<path d="M494.5 60.300000000000004 L498.5 60.300000000000004 L496.5 63.9 Z" fill="#000"/>
<path d="M502.5 65.60000000000001 L506.5 65.60000000000001 L504.5 69.2 Z" fill="#000"/>
<path d="M512.9 62.5 L516.9 62.5 L514.9 66.1 Z" fill="#000"/>
<path d="M529 65.0 L533 65.0 L531 68.6 Z" fill="#000"/>
<path d="M530 58.800000000000004 L534 58.800000000000004 L532 62.4 Z" fill="#000"/>
<path d="M534.2 65.0 L538.2 65.0 L536.2 68.6 Z" fill="#000"/>
<path d="M539 73.0 L543 73.0 L541 76.6 Z" fill="#000"/>
<path d="M550 63.7 L554 63.7 L552 67.3 Z" fill="#000"/>
<path d="M551 58.800000000000004 L555 58.800000000000004 L553 62.4 Z" fill="#000"/>
<path d="M551 55.7 L555 55.7 L553 59.3 Z" fill="#000"/>
<path d="M561.6 60.1 L565.6 60.1 L563.6 63.699999999999996 Z" fill="#000"/>
<path d="M571.5 58.800000000000004 L575.5 58.800000000000004 L573.5 62.4 Z" fill="#000"/>
<path d="M581.7 62.5 L585.7 62.5 L583.7 66.1 Z" fill="#000"/>
<rect x="440" y="57" width="145.5" height="114" fill="none" stroke="#000" stroke-width="1.4"/>
<line x1="440" x2="442" y1="67.3" y2="67.3" stroke="#000" stroke-width="1.2"/>
<line x1="585.5" x2="583.5" y1="67.3" y2="67.3" stroke="#000" stroke-width="1.2"/>
<line x1="440" x2="442" y1="82.1" y2="82.1" stroke="#000" stroke-width="1.2"/>
<line x1="585.5" x2="583.5" y1="82.1" y2="82.1" stroke="#000" stroke-width="1.2"/>
<line x1="440" x2="442" y1="96.9" y2="96.9" stroke="#000" stroke-width="1.2"/>
<line x1="585.5" x2="583.5" y1="96.9" y2="96.9" stroke="#000" stroke-width="1.2"/>
<line x1="440" x2="442" y1="111.7" y2="111.7" stroke="#000" stroke-width="1.2"/>
<line x1="585.5" x2="583.5" y1="111.7" y2="111.7" stroke="#000" stroke-width="1.2"/>
<line x1="440" x2="442" y1="126.5" y2="126.5" stroke="#000" stroke-width="1.2"/>
<line x1="585.5" x2="583.5" y1="126.5" y2="126.5" stroke="#000" stroke-width="1.2"/>
<line x1="440" x2="442" y1="141.3" y2="141.3" stroke="#000" stroke-width="1.2"/>
<line x1="585.5" x2="583.5" y1="141.3" y2="141.3" stroke="#000" stroke-width="1.2"/>
<line x1="440" x2="442" y1="156.10000000000002" y2="156.10000000000002" stroke="#000" stroke-width="1.2"/>
<line x1="585.5" x2="583.5" y1="156.10000000000002" y2="156.10000000000002" stroke="#000" stroke-width="1.2"/>
<line x1="464.2" x2="464.2" y1="171" y2="169" stroke="#000" stroke-width="1.2"/>
<line x1="464.2" x2="464.2" y1="57" y2="59" stroke="#000" stroke-width="1.2"/>
<line x1="488.5" x2="488.5" y1="171" y2="169" stroke="#000" stroke-width="1.2"/>
<line x1="488.5" x2="488.5" y1="57" y2="59" stroke="#000" stroke-width="1.2"/>
<line x1="512.8" x2="512.8" y1="171" y2="169" stroke="#000" stroke-width="1.2"/>
<line x1="512.8" x2="512.8" y1="57" y2="59" stroke="#000" stroke-width="1.2"/>
<line x1="537.0" x2="537.0" y1="171" y2="169" stroke="#000" stroke-width="1.2"/>
<line x1="537.0" x2="537.0" y1="57" y2="59" stroke="#000" stroke-width="1.2"/>
<line x1="561.2" x2="561.2" y1="171" y2="169" stroke="#000" stroke-width="1.2"/>
<line x1="561.2" x2="561.2" y1="57" y2="59" stroke="#000" stroke-width="1.2"/>
<text x="431.5" y="68.60000000000001" font-size="10.3" fill="#3a3a3a" text-anchor="end" >1.6</text>
<text x="431.5" y="83.4" font-size="10.3" fill="#3a3a3a" text-anchor="end" >1.4</text>
<text x="431.5" y="98.2" font-size="10.3" fill="#3a3a3a" text-anchor="end" >1.2</text>
<text x="431.5" y="113.00000000000001" font-size="10.3" fill="#3a3a3a" text-anchor="end" >1</text>
<text x="431.5" y="127.80000000000001" font-size="10.3" fill="#3a3a3a" text-anchor="end" >0.8</text>
<text x="431.5" y="142.6" font-size="10.3" fill="#3a3a3a" text-anchor="end" >0.6</text>
<text x="431.5" y="157.4" font-size="10.3" fill="#3a3a3a" text-anchor="end" >0.4</text>
<text x="431.5" y="172.2" font-size="10.3" fill="#3a3a3a" text-anchor="end" >0.2</text>
<text x="436.5" y="185.6" font-size="10.3" fill="#3a3a3a" text-anchor="middle" >0</text>
<text x="453.75" y="185.6" font-size="10.3" fill="#3a3a3a" text-anchor="middle" >100</text>
<text x="480" y="185.6" font-size="10.3" fill="#3a3a3a" text-anchor="middle" >200</text>
<text x="505" y="185.6" font-size="10.3" fill="#3a3a3a" text-anchor="middle" >300</text>
<text x="531" y="185.6" font-size="10.3" fill="#3a3a3a" text-anchor="middle" >400</text>
<text x="557" y="185.6" font-size="10.3" fill="#3a3a3a" text-anchor="middle" >500</text>
<text x="584" y="185.6" font-size="10.3" fill="#3a3a3a" text-anchor="middle" >600</text>
<text x="515.5" y="203.6" font-size="11.3" fill="#111" text-anchor="middle" >Time (s)</text>
<text transform="translate(412.8,115.7) rotate(-90)" font-size="11.6" fill="#111" text-anchor="middle">PMT Signal (V)</text>
<line x1="656.8" x2="656.8" y1="52" y2="144.3" stroke="#000" stroke-width="1.4"/>
<line x1="655.3" x2="796.5" y1="144" y2="144" stroke="#000" stroke-width="1.4"/>
<line x1="653.5" x2="656.8" y1="144.5" y2="144.5" stroke="#000" stroke-width="1.2"/>
<text x="652.6" y="146.6" font-size="11.5" fill="#000" text-anchor="end" >300</text>
<line x1="653.5" x2="656.8" y1="121.5" y2="121.5" stroke="#000" stroke-width="1.2"/>
<text x="652.6" y="124.8" font-size="11.5" fill="#000" text-anchor="end" >400</text>
<line x1="653.5" x2="656.8" y1="98.4" y2="98.4" stroke="#000" stroke-width="1.2"/>
<text x="652.6" y="102.3" font-size="11.5" fill="#000" text-anchor="end" >500</text>
<line x1="653.5" x2="656.8" y1="75.3" y2="75.3" stroke="#000" stroke-width="1.2"/>
<text x="652.6" y="79.6" font-size="11.5" fill="#000" text-anchor="end" >600</text>
<line x1="653.5" x2="656.8" y1="52.3" y2="52.3" stroke="#000" stroke-width="1.2"/>
<text x="652.6" y="58.5" font-size="11.5" fill="#000" text-anchor="end" >700</text>
<line x1="668.2" x2="668.2" y1="144" y2="147.2" stroke="#000" stroke-width="1.2"/>
<line x1="684.7" x2="684.7" y1="144" y2="147.2" stroke="#000" stroke-width="1.2"/>
<line x1="701.6" x2="701.6" y1="144" y2="147.2" stroke="#000" stroke-width="1.2"/>
<line x1="717.8" x2="717.8" y1="144" y2="147.2" stroke="#000" stroke-width="1.2"/>
<line x1="734.4" x2="734.4" y1="144" y2="147.2" stroke="#000" stroke-width="1.2"/>
<line x1="751" x2="751" y1="144" y2="147.2" stroke="#000" stroke-width="1.2"/>
<line x1="767.6" x2="767.6" y1="144" y2="147.2" stroke="#000" stroke-width="1.2"/>
<line x1="785" x2="785" y1="144" y2="147.2" stroke="#000" stroke-width="1.2"/>
<text transform="translate(612.5,165.2) rotate(-90)" font-size="11.6" fill="#000">Concentration of CCL2 in</text>
<text transform="translate(626.2,166) rotate(-90)" font-size="11.3" fill="#000">cell culture medium (pg/ml)</text>
<text transform="translate(671.2,155.5) rotate(-45)" font-size="11.8" fill="#000" text-anchor="end">PBS</text>
<text transform="translate(687.7,155.5) rotate(-45)" font-size="11.8" fill="#000" text-anchor="end">DTX</text>
<text transform="translate(704.6,155.5) rotate(-45)" font-size="11.8" fill="#000" text-anchor="end">C-Lp/DTX</text>
<text transform="translate(720.8,155.5) rotate(-45)" font-size="11.8" fill="#000" text-anchor="end">Nanoxel-PM</text>
<text transform="translate(737.4,155.5) rotate(-45)" font-size="11.8" fill="#000" text-anchor="end">Rg3</text>
<text transform="translate(754,155.5) rotate(-45)" font-size="11.8" fill="#000" text-anchor="end">Rg3-Lp</text>
<text transform="translate(770.6,155.5) rotate(-45)" font-size="11.8" fill="#000" text-anchor="end">Rg3/DTX</text>
<text transform="translate(788,155.5) rotate(-45)" font-size="11.8" fill="#000" text-anchor="end">Rg3-Lp/DTX</text>
<line x1="668.2" x2="668.2" y1="66.9" y2="89" stroke="#000" stroke-width="1.3"/>
<line x1="665.2" x2="671.2" y1="66.9" y2="66.9" stroke="#000" stroke-width="1.4"/>
<line x1="662.3" x2="673.8" y1="77.6" y2="77.6" stroke="#000" stroke-width="1.5"/>
<path d="M665.9 66.8 L670.5 66.8 L668.2 70.9 Z" fill="#000"/>
<circle cx="668.2" cy="77.8" r="1.6" fill="#000"/>
<circle cx="668.2" cy="88.9" r="2.2" fill="#000"/>
<circle cx="682.2" cy="93.2" r="2.1" fill="#0a14f0"/>
<circle cx="686.4" cy="92.4" r="2.1" fill="#0a14f0"/>
<circle cx="684" cy="96.8" r="2.1" fill="#0a14f0"/>
<path d="M686.0 93.9 L690.0 93.9 L688.0 97.5 Z" fill="#0a14f0"/>
<circle cx="681" cy="95.5" r="1.6" fill="#0a14f0"/>
<line x1="679.3" x2="690" y1="94.3" y2="94.3" stroke="#0a14f0" stroke-width="1.6"/>
<circle cx="698.6" cy="84" r="2.1" fill="#808080"/>
<circle cx="701.8" cy="85.2" r="2.1" fill="#808080"/>
<circle cx="705" cy="86.6" r="2.1" fill="#808080"/>
<circle cx="700" cy="86.2" r="1.6" fill="#808080"/>
<line x1="697" x2="706.5" y1="85.3" y2="85.3" stroke="#808080" stroke-width="1.4"/>
<circle cx="715.6" cy="91.6" r="2.1" fill="#12c012"/>
<circle cx="719" cy="88.4" r="2.1" fill="#12c012"/>
<circle cx="721.2" cy="91" r="2.1" fill="#12c012"/>
<circle cx="717.6" cy="92.4" r="1.7" fill="#12c012"/>
<line x1="712.6" x2="723.3" y1="90" y2="90" stroke="#12c012" stroke-width="1.6"/>
<line x1="734.3" x2="734.3" y1="99.8" y2="110" stroke="#9a22d8" stroke-width="1.3"/>
<circle cx="734.3" cy="99.8" r="2.2" fill="#9a22d8"/>
<line x1="728.9" x2="740.4" y1="106.6" y2="106.6" stroke="#9a22d8" stroke-width="1.5"/>
<ellipse cx="734.3" cy="109.3" rx="4.3" ry="2.6" fill="#9a22d8"/>
<circle cx="731.6" cy="108.4" r="1.8" fill="#9a22d8"/>
<circle cx="737" cy="108.4" r="1.8" fill="#9a22d8"/>
<line x1="751.5" x2="751.5" y1="106.6" y2="119.7" stroke="#ff8412" stroke-width="1.3"/>
<circle cx="751.5" cy="107.4" r="2.2" fill="#ff8412"/>
<line x1="745.8" x2="756.6" y1="112.7" y2="112.7" stroke="#ff8412" stroke-width="1.5"/>
<path d="M749.0 117.6 L751.5 115.1 L754.0 117.6 L751.5 120.1 Z" fill="#ff8412"/>
<circle cx="751.5" cy="112.3" r="1.5" fill="#ff8412"/>
<line x1="768.1" x2="768.1" y1="117.4" y2="133.5" stroke="#8b5a12" stroke-width="1.3"/>
<circle cx="768.1" cy="118.6" r="2.2" fill="#8b5a12"/>
<line x1="762.7" x2="773.5" y1="126.3" y2="126.3" stroke="#8b5a12" stroke-width="1.5"/>
<path d="M765.5 133.9 L770.7 133.9 L768.1 129.2 Z" fill="#8b5a12"/>
<line x1="765.5" x2="770.7" y1="133.6" y2="133.6" stroke="#8b5a12" stroke-width="1.2"/>
<line x1="785" x2="785" y1="113.5" y2="136.6" stroke="#ff0a0a" stroke-width="1.3"/>
<path d="M782.5 117.3 L787.5 117.3 L785.0 112.8 Z" fill="#ff0a0a"/>
<line x1="779.4" x2="790.5" y1="126.3" y2="126.3" stroke="#ff0a0a" stroke-width="1.5"/>
<circle cx="783.3" cy="132.6" r="2.1" fill="#ff0a0a"/>
<circle cx="786.8" cy="132.2" r="2.1" fill="#ff0a0a"/>
<line x1="782.2" x2="787.8" y1="136.6" y2="136.6" stroke="#ff0a0a" stroke-width="1.3"/>
<line x1="720.4" x2="749" y1="77.6" y2="77.6" stroke="#000" stroke-width="1.4"/>
<circle cx="732" cy="73.6" r="1.2" fill="#000"/><circle cx="735.8" cy="73.6" r="1.2" fill="#000"/>
<defs>
<radialGradient id="gp"><stop offset="0" stop-color="#6418ff"/><stop offset="0.7" stop-color="#6c18ff"/><stop offset="1" stop-color="#7a20f0" stop-opacity="0.55"/></radialGradient>
<radialGradient id="gb"><stop offset="0" stop-color="#0830ff"/><stop offset="0.4" stop-color="#2a14ff"/><stop offset="0.8" stop-color="#6c14ff"/><stop offset="1" stop-color="#7a20f0" stop-opacity="0.55"/></radialGradient>
<radialGradient id="gc"><stop offset="0" stop-color="#30ffe8"/><stop offset="0.22" stop-color="#00a0ff"/><stop offset="0.42" stop-color="#0018ff"/><stop offset="0.62" stop-color="#5014ff"/><stop offset="0.9" stop-color="#6e14ff"/><stop offset="1" stop-color="#7a20f0" stop-opacity="0.55"/></radialGradient>
<radialGradient id="gg"><stop offset="0" stop-color="#40ff30"/><stop offset="0.18" stop-color="#00ffd0"/><stop offset="0.34" stop-color="#0090ff"/><stop offset="0.48" stop-color="#0018ff"/><stop offset="0.66" stop-color="#5014ff"/><stop offset="0.9" stop-color="#6e14ff"/><stop offset="1" stop-color="#7a20f0" stop-opacity="0.55"/></radialGradient>
<radialGradient id="gy"><stop offset="0" stop-color="#ffff00"/><stop offset="0.15" stop-color="#60ff00"/><stop offset="0.3" stop-color="#00ffe0"/><stop offset="0.45" stop-color="#0020ff"/><stop offset="0.64" stop-color="#5014ff"/><stop offset="0.9" stop-color="#6e14ff"/><stop offset="1" stop-color="#7a20f0" stop-opacity="0.55"/></radialGradient>
<radialGradient id="gh"><stop offset="0" stop-color="#ff0000"/><stop offset="0.12" stop-color="#ff1000"/><stop offset="0.2" stop-color="#ffee00"/><stop offset="0.3" stop-color="#00ff40"/><stop offset="0.38" stop-color="#00f0ff"/><stop offset="0.5" stop-color="#0020ff"/><stop offset="0.64" stop-color="#5014ff"/><stop offset="0.9" stop-color="#6e14ff"/><stop offset="1" stop-color="#7a20f0" stop-opacity="0.55"/></radialGradient>
<radialGradient id="gX"><stop offset="0" stop-color="#ff0000"/><stop offset="0.42" stop-color="#ff1000"/><stop offset="0.55" stop-color="#ffe000"/><stop offset="0.68" stop-color="#30ff30"/><stop offset="0.8" stop-color="#00e8ff"/><stop offset="0.92" stop-color="#0030ff"/><stop offset="1" stop-color="#4014ff" stop-opacity="0.5"/></radialGradient>
<radialGradient id="gY"><stop offset="0" stop-color="#a0ff20"/><stop offset="0.35" stop-color="#20ff60"/><stop offset="0.62" stop-color="#00e0ff"/><stop offset="0.84" stop-color="#0030ff"/><stop offset="1" stop-color="#5014ff"/></radialGradient>
<radialGradient id="gR"><stop offset="0" stop-color="#ff0000"/><stop offset="0.8" stop-color="#ff0000"/><stop offset="0.88" stop-color="#ffe000"/><stop offset="0.94" stop-color="#00ff80"/><stop offset="1" stop-color="#0040ff"/></radialGradient>
<radialGradient id="gw"><stop offset="0" stop-color="#e0e0e0"/><stop offset="0.6" stop-color="#c8c8c8"/><stop offset="1" stop-color="#a0a0a0" stop-opacity="0.7"/></radialGradient>
<radialGradient id="mb2" cx="50%" cy="50%" r="50%">
<stop offset="0" stop-color="#5c5c5c"/><stop offset="0.72" stop-color="#626262"/><stop offset="0.9" stop-color="#6c6c6c" stop-opacity="0.7"/><stop offset="1" stop-color="#767676" stop-opacity="0"/>
</radialGradient>
<linearGradient id="mhead" x1="0" x2="0" y1="0" y2="1"><stop offset="0" stop-color="#7a7a7a"/><stop offset="0.14" stop-color="#868686"/><stop offset="0.24" stop-color="#a6a6a6"/><stop offset="0.75" stop-color="#a0a0a0"/><stop offset="1" stop-color="#b4b4b4"/></linearGradient>
<g id="m2">
<path d="M6.5 0 L14.5 0 C14.8 2.5 16.5 4.5 18.5 6.5 C20.3 8.5 20.6 12 20.5 17 C20.4 23 20.9 28 20.8 31.5 C20.7 34.5 19.5 36 18 36 L4 36 C2.5 36 1.3 34.5 1.2 31.5 C1.1 28 1.6 23 1.5 17 C1.4 12 1.7 8.5 3.5 6.5 C5.5 4.5 7.2 2.5 6.5 0 Z" fill="url(#mhead)"/>
<ellipse cx="11" cy="20" rx="9.3" ry="15.5" fill="url(#mb2)"/>
</g>
</defs>
<text x="93.5" y="245.6" font-size="11.7" fill="#000" text-anchor="middle" >PBS</text>
<clipPath id="cl57"><rect x="57" y="248.9" width="88.4" height="169.1"/></clipPath>
<g clip-path="url(#cl57)">
<rect x="57" y="248.9" width="88.4" height="146.0" fill="#171717"/>
<rect x="57" y="396" width="88.4" height="22.0" fill="#686868"/>
<use href="#m2" transform="translate(57.42,248.90) scale(0.969,0.989)"/>
<use href="#m2" transform="translate(79.58,248.90) scale(1.008,0.989)"/>
<use href="#m2" transform="translate(102.26,248.90) scale(0.942,0.989)"/>
<use href="#m2" transform="translate(122.90,248.90) scale(0.991,0.989)"/>
<use href="#m2" transform="translate(56.53,285.30) scale(1.011,1.006)"/>
<use href="#m2" transform="translate(79.19,285.30) scale(1.024,1.006)"/>
<use href="#m2" transform="translate(101.96,285.30) scale(0.983,1.006)"/>
<use href="#m2" transform="translate(123.91,285.30) scale(0.985,1.006)"/>
<use href="#m2" transform="translate(57.36,322.40) scale(0.958,1.006)"/>
<use href="#m2" transform="translate(79.62,322.40) scale(1.002,1.006)"/>
<use href="#m2" transform="translate(101.87,322.40) scale(0.972,1.006)"/>
<use href="#m2" transform="translate(123.10,322.40) scale(1.018,1.006)"/>
<use href="#m2" transform="translate(57.40,359.40) scale(0.964,0.986)"/>
<use href="#m2" transform="translate(79.83,359.40) scale(1.010,0.986)"/>
<use href="#m2" transform="translate(101.77,359.40) scale(1.010,0.986)"/>
<use href="#m2" transform="translate(123.75,359.40) scale(0.957,0.986)"/>
<path d="M76.3 405.1 Q77.5 407.2 76.6 409.4 Q75.7 411.7 73.3 413.0 Q70.9 414.2 68.0 414.7 Q65.0 415.2 63.1 413.3 Q61.2 411.3 59.3 409.3 Q57.4 407.2 59.3 405.2 Q61.3 403.1 63.4 401.8 Q65.5 400.4 68.4 399.8 Q71.4 399.1 73.2 401.1 Q75.1 403.1 76.3 405.1Z" fill="url(#gY)"/>
<ellipse cx="68.15" cy="407.2" rx="3.90" ry="3.90" fill="url(#gc)"/>
<ellipse cx="63.650000000000006" cy="406.7" rx="4.94" ry="5.20" fill="url(#gX)"/>
<ellipse cx="72.65" cy="407.7" rx="4.55" ry="5.20" fill="url(#gX)"/>
<ellipse cx="68.15" cy="410.2" rx="3.90" ry="3.25" fill="url(#gg)"/>
<path d="M98.2 405.3 Q99.9 407.2 98.5 409.3 Q97.0 411.4 95.0 412.8 Q93.1 414.3 90.4 414.4 Q87.7 414.4 85.8 412.9 Q83.8 411.3 82.2 409.3 Q80.6 407.2 81.4 404.6 Q82.2 402.0 84.8 400.5 Q87.3 398.9 90.1 399.8 Q92.8 400.7 94.7 402.0 Q96.5 403.4 98.2 405.3Z" fill="url(#gb)"/>
<ellipse cx="87.4" cy="409.2" rx="3.90" ry="3.90" fill="url(#gc)"/>
<path d="M96.9 405.1 Q97.9 406.7 97.4 408.6 Q97.0 410.6 95.0 411.5 Q93.0 412.3 90.7 412.3 Q88.4 412.3 86.8 410.6 Q85.2 408.9 85.5 406.8 Q85.8 404.7 87.4 403.4 Q89.1 402.2 91.0 401.8 Q92.9 401.3 94.4 402.5 Q95.9 403.6 96.9 405.1Z" fill="url(#gR)"/>
<path d="M119.9 405.4 Q121.0 407.2 120.5 409.3 Q120.1 411.4 117.6 412.3 Q115.0 413.1 112.5 413.0 Q109.9 412.9 107.5 412.0 Q105.1 411.2 103.8 409.2 Q102.4 407.2 103.7 405.2 Q104.9 403.1 107.5 402.4 Q110.0 401.7 112.5 401.3 Q115.1 401.0 117.0 402.3 Q118.9 403.6 119.9 405.4Z" fill="url(#gY)"/>
<ellipse cx="109.4" cy="406.2" rx="4.55" ry="4.55" fill="url(#gX)"/>
<ellipse cx="116.4" cy="409.2" rx="3.90" ry="3.90" fill="url(#gX)"/>
<ellipse cx="113.4" cy="404.2" rx="3.25" ry="3.25" fill="url(#gg)"/>
<path d="M143.5 404.5 Q144.7 407.2 143.2 409.7 Q141.7 412.2 139.5 413.7 Q137.2 415.3 134.1 415.9 Q131.1 416.5 129.2 414.2 Q127.3 412.0 126.2 409.6 Q125.1 407.2 125.4 404.2 Q125.6 401.3 128.6 400.4 Q131.6 399.4 134.5 399.1 Q137.3 398.8 139.8 400.3 Q142.3 401.8 143.5 404.5Z" fill="url(#gb)"/>
<path d="M140.8 405.0 Q141.6 407.2 141.0 409.6 Q140.5 412.0 138.1 413.0 Q135.6 414.1 132.9 414.1 Q130.1 414.1 128.6 411.9 Q127.0 409.7 126.8 407.1 Q126.6 404.6 128.5 402.7 Q130.4 400.9 133.1 400.3 Q135.8 399.7 137.9 401.2 Q140.0 402.8 140.8 405.0Z" fill="url(#gR)"/>
<ellipse cx="66.2" cy="261.2" rx="2.8" ry="3.2" fill="url(#gp)"/>
<ellipse cx="68.6" cy="282.3" rx="3.5" ry="2.8" fill="url(#gp)"/>
<ellipse cx="87" cy="262.8" rx="2" ry="2" fill="url(#gp)"/>
<ellipse cx="89.5" cy="265.2" rx="1.6" ry="1.6" fill="url(#gp)"/>
<ellipse cx="113.5" cy="261.7" rx="1.8" ry="1.5" fill="url(#gp)"/>
<ellipse cx="118.8" cy="261.5" rx="1.3" ry="1.5" fill="url(#gp)"/>
<ellipse cx="130.3" cy="261.2" rx="3.5" ry="3.2" fill="url(#gb)"/>
<ellipse cx="132.7" cy="258" rx="2" ry="1.6" fill="url(#gp)"/>
<ellipse cx="139" cy="258" rx="1.4" ry="1.6" fill="url(#gp)"/>
<ellipse cx="107.9" cy="298" rx="0.8" ry="0.8" fill="url(#gp)"/>
<ellipse cx="110" cy="299" rx="0.7" ry="0.7" fill="url(#gp)"/>
<ellipse cx="134.3" cy="299.7" rx="2.8" ry="2" fill="url(#gp)"/>
<ellipse cx="66.3" cy="336.4" rx="4.80" ry="4.80" fill="url(#gg)"/>
<ellipse cx="72.5" cy="335.4" rx="1" ry="1" fill="url(#gp)"/>
<ellipse cx="87.9" cy="335.4" rx="5.25" ry="4.50" fill="url(#gc)"/>
<ellipse cx="108" cy="333.3" rx="4.50" ry="4.50" fill="url(#gc)"/>
<ellipse cx="116.2" cy="333.3" rx="4.50" ry="4.50" fill="url(#gc)"/>
<ellipse cx="116.6" cy="345.7" rx="1" ry="1" fill="url(#gp)"/>
<ellipse cx="134" cy="335.4" rx="3.64" ry="3.38" fill="url(#gb)"/>
<ellipse cx="139.2" cy="346.7" rx="0.8" ry="0.8" fill="url(#gp)"/>
<ellipse cx="74.5" cy="375.4" rx="2.86" ry="6.50" fill="url(#gp)"/>
<ellipse cx="75.5" cy="382.6" rx="1.3" ry="1.3" fill="url(#gp)"/>
<ellipse cx="66.3" cy="372.4" rx="6.75" ry="6.75" fill="url(#gh)"/>
<ellipse cx="86" cy="371" rx="2.60" ry="2.60" fill="url(#gp)"/>
<ellipse cx="88.9" cy="369.3" rx="5.55" ry="5.25" fill="url(#gh)"/>
<ellipse cx="110.4" cy="370.3" rx="3.25" ry="3.25" fill="url(#gp)"/>
<ellipse cx="112.5" cy="374.4" rx="4.50" ry="4.50" fill="url(#gy)"/>
<ellipse cx="117.6" cy="387.8" rx="3.90" ry="3.38" fill="url(#gp)"/>
<ellipse cx="111.5" cy="385.7" rx="1.5" ry="1.5" fill="url(#gp)"/>
<ellipse cx="135.5" cy="371.3" rx="6.75" ry="6.75" fill="url(#gh)"/>
<line x1="79.3" x2="79.3" y1="248.9" y2="418" stroke="#e4e4e4" stroke-width="1.2"/>
<line x1="101.5" x2="101.5" y1="248.9" y2="418" stroke="#e4e4e4" stroke-width="1.2"/>
<line x1="123.3" x2="123.3" y1="248.9" y2="418" stroke="#e4e4e4" stroke-width="1.2"/>
<line x1="57" x2="145.4" y1="284.90" y2="284.90" stroke="#e4e4e4" stroke-width="1.2"/>
<line x1="57" x2="145.4" y1="321.95" y2="321.95" stroke="#e4e4e4" stroke-width="1.2"/>
<line x1="57" x2="145.4" y1="359.00" y2="359.00" stroke="#e4e4e4" stroke-width="1.2"/>
<line x1="57" x2="145.4" y1="395.45" y2="395.45" stroke="#e4e4e4" stroke-width="1.5"/>
</g>
<text x="190.75" y="245.6" font-size="11.7" fill="#000" text-anchor="middle" >DTX</text>
<clipPath id="cl151"><rect x="151.2" y="248.9" width="87.1" height="169.1"/></clipPath>
<g clip-path="url(#cl151)">
<rect x="151.2" y="248.9" width="87.1" height="146.0" fill="#171717"/>
<rect x="151.2" y="396" width="87.1" height="22.0" fill="#686868"/>
<use href="#m2" transform="translate(151.11,248.90) scale(0.960,0.989)"/>
<use href="#m2" transform="translate(173.44,248.90) scale(0.941,0.989)"/>
<use href="#m2" transform="translate(195.52,248.90) scale(0.982,0.989)"/>
<use href="#m2" transform="translate(217.01,248.90) scale(0.965,0.989)"/>
<use href="#m2" transform="translate(151.22,285.30) scale(0.941,1.006)"/>
<use href="#m2" transform="translate(173.88,285.30) scale(0.943,1.006)"/>
<use href="#m2" transform="translate(195.66,285.30) scale(0.981,1.006)"/>
<use href="#m2" transform="translate(217.47,285.30) scale(0.977,1.006)"/>
<use href="#m2" transform="translate(151.44,322.40) scale(0.959,1.006)"/>
<use href="#m2" transform="translate(172.90,322.40) scale(1.002,1.006)"/>
<use href="#m2" transform="translate(194.98,322.40) scale(0.998,1.006)"/>
<use href="#m2" transform="translate(217.59,322.40) scale(0.968,1.006)"/>
<use href="#m2" transform="translate(151.22,359.40) scale(0.990,0.986)"/>
<use href="#m2" transform="translate(173.14,359.40) scale(0.986,0.986)"/>
<use href="#m2" transform="translate(194.74,359.40) scale(1.015,0.986)"/>
<use href="#m2" transform="translate(217.74,359.40) scale(0.954,0.986)"/>
<path d="M169.8 405.0 Q170.6 407.2 169.3 409.0 Q168.0 410.9 166.4 412.5 Q164.7 414.2 161.9 414.6 Q159.2 415.0 157.5 413.0 Q155.9 411.1 154.5 409.1 Q153.0 407.2 154.5 405.3 Q155.9 403.3 157.6 401.6 Q159.3 399.9 161.9 400.4 Q164.5 400.9 166.8 401.9 Q169.0 402.9 169.8 405.0Z" fill="#cfcfcf"/>
<ellipse cx="165.6" cy="402.2" rx="1.4" ry="1.1" fill="#707070" opacity="0.8"/>
<ellipse cx="158.9" cy="405.1" rx="1.1" ry="1.3" fill="#707070" opacity="0.8"/>
<ellipse cx="158.1" cy="402.6" rx="0.8" ry="1.2" fill="#707070" opacity="0.8"/>
<ellipse cx="160.9" cy="410.0" rx="1.3" ry="0.9" fill="#707070" opacity="0.8"/>
<ellipse cx="163.2" cy="403.4" rx="1.1" ry="1.2" fill="#707070" opacity="0.8"/>
<ellipse cx="158.8" cy="409.0" rx="0.7" ry="1.5" fill="#707070" opacity="0.8"/>
<ellipse cx="162.7" cy="411.8" rx="1.2" ry="0.8" fill="#707070" opacity="0.8"/>
<ellipse cx="165.0" cy="408.4" rx="0.9" ry="1.2" fill="#707070" opacity="0.8"/>
<ellipse cx="165.4" cy="409.1" rx="0.8" ry="1.5" fill="#707070" opacity="0.8"/>
<ellipse cx="166.5" cy="406.6" rx="1.9" ry="2.0" fill="#f4f4f4"/>
<ellipse cx="160.4" cy="404.3" rx="1.2" ry="1.5" fill="#f4f4f4"/>
<ellipse cx="158.3" cy="404.8" rx="1.7" ry="1.0" fill="#f4f4f4"/>
<ellipse cx="163.3" cy="406.3" rx="1.7" ry="1.3" fill="#f4f4f4"/>
<ellipse cx="161.9" cy="404.5" rx="1.0" ry="1.9" fill="#f4f4f4"/>
<ellipse cx="158.6" cy="411.2" rx="4.55" ry="4.55" fill="url(#gX)"/>
<ellipse cx="166.6" cy="410.7" rx="4.55" ry="4.55" fill="url(#gX)"/>
<path d="M191.7 404.7 Q192.0 407.2 191.1 409.3 Q190.3 411.4 188.6 413.5 Q186.9 415.5 184.2 414.9 Q181.5 414.2 179.4 413.0 Q177.2 411.8 176.9 409.5 Q176.6 407.2 177.0 405.0 Q177.5 402.8 179.3 400.9 Q181.1 399.0 184.0 399.1 Q186.8 399.1 189.1 400.7 Q191.4 402.2 191.7 404.7Z" fill="url(#gb)"/>
<ellipse cx="184.0" cy="410.7" rx="4.55" ry="4.55" fill="url(#gX)"/>
<ellipse cx="181.0" cy="404.2" rx="3.25" ry="3.25" fill="url(#gc)"/>
<ellipse cx="188.0" cy="405.2" rx="3.25" ry="3.25" fill="url(#gc)"/>
<path d="M214.7 404.9 Q216.0 407.2 214.3 409.3 Q212.5 411.3 210.4 412.4 Q208.3 413.4 206.0 413.5 Q203.6 413.6 201.0 412.8 Q198.5 411.9 197.8 409.6 Q197.0 407.2 198.1 405.0 Q199.1 402.9 201.1 401.1 Q203.1 399.4 205.8 400.0 Q208.5 400.6 211.0 401.5 Q213.4 402.5 214.7 404.9Z" fill="#cfcfcf"/>
<ellipse cx="204.9" cy="403.0" rx="1.3" ry="0.8" fill="#707070" opacity="0.8"/>
<ellipse cx="210.0" cy="410.2" rx="1.0" ry="1.0" fill="#707070" opacity="0.8"/>
<ellipse cx="202.1" cy="403.0" rx="1.2" ry="0.9" fill="#707070" opacity="0.8"/>
<ellipse cx="206.8" cy="405.7" rx="0.8" ry="0.7" fill="#707070" opacity="0.8"/>
<ellipse cx="209.5" cy="406.4" rx="0.7" ry="1.4" fill="#707070" opacity="0.8"/>
<ellipse cx="201.4" cy="404.1" rx="0.7" ry="1.1" fill="#707070" opacity="0.8"/>
<ellipse cx="209.7" cy="401.8" rx="1.4" ry="1.2" fill="#707070" opacity="0.8"/>
<ellipse cx="210.4" cy="406.3" rx="1.0" ry="0.7" fill="#707070" opacity="0.8"/>
<ellipse cx="202.8" cy="411.5" rx="0.9" ry="1.4" fill="#707070" opacity="0.8"/>
<ellipse cx="209.8" cy="411.4" rx="1.1" ry="1.4" fill="#f4f4f4"/>
<ellipse cx="209.8" cy="405.3" rx="1.2" ry="1.0" fill="#f4f4f4"/>
<ellipse cx="206.4" cy="407.7" rx="1.2" ry="1.3" fill="#f4f4f4"/>
<ellipse cx="207.5" cy="404.0" rx="1.8" ry="1.9" fill="#f4f4f4"/>
<ellipse cx="205.1" cy="403.5" rx="1.6" ry="1.3" fill="#f4f4f4"/>
<ellipse cx="203.0" cy="404.2" rx="3.90" ry="3.90" fill="url(#gX)"/>
<ellipse cx="209.0" cy="406.2" rx="3.90" ry="3.90" fill="url(#gg)"/>
<ellipse cx="205.0" cy="410.2" rx="3.90" ry="3.90" fill="url(#gc)"/>
<ellipse cx="210.0" cy="411.2" rx="3.25" ry="3.25" fill="url(#gX)"/>
<ellipse cx="201.0" cy="408.2" rx="3.25" ry="3.25" fill="url(#gg)"/>
<path d="M234.4 405.1 Q234.9 407.2 234.9 409.6 Q234.8 412.0 232.6 413.3 Q230.3 414.6 227.8 414.3 Q225.3 414.0 223.4 412.7 Q221.5 411.3 220.1 409.3 Q218.7 407.2 219.4 404.6 Q220.0 402.1 222.6 401.2 Q225.2 400.3 227.7 400.0 Q230.3 399.7 232.0 401.4 Q233.8 403.1 234.4 405.1Z" fill="url(#gb)"/>
<ellipse cx="227.65" cy="410.7" rx="4.55" ry="4.55" fill="url(#gX)"/>
<ellipse cx="224.15" cy="404.2" rx="3.25" ry="3.25" fill="url(#gc)"/>
<ellipse cx="231.65" cy="404.2" rx="3.25" ry="3.25" fill="url(#gc)"/>
<ellipse cx="157" cy="262" rx="2" ry="3" fill="url(#gp)"/>
<ellipse cx="165" cy="260.7" rx="2.5" ry="2.2" fill="url(#gp)"/>
<ellipse cx="187.5" cy="259.6" rx="1.8" ry="1.6" fill="url(#gp)"/>
<ellipse cx="200.3" cy="262" rx="1.8" ry="2" fill="url(#gp)"/>
<ellipse cx="204.8" cy="261.2" rx="2.2" ry="2" fill="url(#gp)"/>
<ellipse cx="201.6" cy="257.5" rx="0.8" ry="0.8" fill="url(#gp)"/>
<ellipse cx="225" cy="263.6" rx="2.2" ry="1.8" fill="url(#gp)"/>
<ellipse cx="178.6" cy="297" rx="1.3" ry="1.3" fill="url(#gp)"/>
<ellipse cx="205" cy="298" rx="1.2" ry="1" fill="url(#gp)"/>
<ellipse cx="205.9" cy="300.5" rx="1" ry="0.8" fill="url(#gp)"/>
<ellipse cx="226" cy="295.7" rx="1.8" ry="1.8" fill="url(#gp)"/>
<ellipse cx="158.2" cy="334.8" rx="4.50" ry="4.50" fill="url(#gc)"/>
<ellipse cx="187" cy="339" rx="3.30" ry="3.30" fill="url(#gc)"/>
<ellipse cx="179.8" cy="340" rx="0.8" ry="0.8" fill="url(#gp)"/>
<ellipse cx="198.3" cy="335.4" rx="2.86" ry="2.86" fill="url(#gp)"/>
<ellipse cx="205.5" cy="336.4" rx="2.60" ry="2.34" fill="url(#gp)"/>
<ellipse cx="210.6" cy="354" rx="2.60" ry="1.69" fill="url(#gp)"/>
<ellipse cx="225.4" cy="337.5" rx="4.80" ry="4.50" fill="url(#gc)"/>
<ellipse cx="183" cy="358" rx="2.60" ry="1.30" fill="url(#gp)"/>
<ellipse cx="158.2" cy="369.3" rx="4.80" ry="5.70" fill="url(#gh)"/>
<ellipse cx="158.2" cy="382.6" rx="4.55" ry="3.90" fill="url(#gp)"/>
<ellipse cx="179.8" cy="372.4" rx="3.75" ry="3.75" fill="url(#gc)"/>
<ellipse cx="188" cy="372.4" rx="3.25" ry="3.25" fill="url(#gp)"/>
<ellipse cx="206.5" cy="374.4" rx="4.50" ry="4.50" fill="url(#gh)"/>
<ellipse cx="206.5" cy="385.3" rx="1.2" ry="1.2" fill="url(#gp)"/>
<ellipse cx="225" cy="372.4" rx="5.25" ry="4.50" fill="url(#gg)"/>
<ellipse cx="232.8" cy="373.8" rx="3.25" ry="3.25" fill="url(#gp)"/>
<ellipse cx="229" cy="386.7" rx="2.60" ry="2.60" fill="url(#gp)"/>
<line x1="173" x2="173" y1="248.9" y2="418" stroke="#e4e4e4" stroke-width="1.2"/>
<line x1="195" x2="195" y1="248.9" y2="418" stroke="#e4e4e4" stroke-width="1.2"/>
<line x1="217" x2="217" y1="248.9" y2="418" stroke="#e4e4e4" stroke-width="1.2"/>
<line x1="151.2" x2="238.3" y1="284.90" y2="284.90" stroke="#e4e4e4" stroke-width="1.2"/>
<line x1="151.2" x2="238.3" y1="321.95" y2="321.95" stroke="#e4e4e4" stroke-width="1.2"/>
<line x1="151.2" x2="238.3" y1="359.00" y2="359.00" stroke="#e4e4e4" stroke-width="1.2"/>
<line x1="151.2" x2="238.3" y1="395.45" y2="395.45" stroke="#e4e4e4" stroke-width="1.5"/>
</g>
<text x="287.25" y="245.6" font-size="11.7" fill="#000" text-anchor="middle" >C-Lp/DTX</text>
<clipPath id="cl243"><rect x="243.2" y="248.9" width="88.0" height="169.1"/></clipPath>
<g clip-path="url(#cl243)">
<rect x="243.2" y="248.9" width="88.0" height="146.0" fill="#171717"/>
<rect x="243.2" y="396" width="88.0" height="22.0" fill="#686868"/>
<use href="#m2" transform="translate(243.31,248.90) scale(1.000,0.989)"/>
<use href="#m2" transform="translate(265.39,248.90) scale(0.988,0.989)"/>
<use href="#m2" transform="translate(288.16,248.90) scale(0.931,0.989)"/>
<use href="#m2" transform="translate(309.04,248.90) scale(0.973,0.989)"/>
<use href="#m2" transform="translate(242.96,285.30) scale(0.997,1.006)"/>
<use href="#m2" transform="translate(265.72,285.30) scale(0.990,1.006)"/>
<use href="#m2" transform="translate(288.09,285.30) scale(0.975,1.006)"/>
<use href="#m2" transform="translate(310.08,285.30) scale(0.949,1.006)"/>
<use href="#m2" transform="translate(243.49,322.40) scale(1.028,1.006)"/>
<use href="#m2" transform="translate(265.54,322.40) scale(1.006,1.006)"/>
<use href="#m2" transform="translate(287.83,322.40) scale(0.961,1.006)"/>
<use href="#m2" transform="translate(309.03,322.40) scale(0.978,1.006)"/>
<use href="#m2" transform="translate(243.42,359.40) scale(1.017,0.986)"/>
<use href="#m2" transform="translate(266.18,359.40) scale(0.981,0.986)"/>
<use href="#m2" transform="translate(288.36,359.40) scale(0.957,0.986)"/>
<use href="#m2" transform="translate(308.91,359.40) scale(0.974,0.986)"/>
<path d="M262.4 404.8 Q263.3 407.2 262.7 409.8 Q262.1 412.4 259.5 413.4 Q256.9 414.3 254.4 414.1 Q252.0 413.8 249.4 413.1 Q246.7 412.4 246.5 409.8 Q246.4 407.2 246.4 404.5 Q246.4 401.8 249.0 400.5 Q251.6 399.3 254.2 399.8 Q256.8 400.3 259.2 401.3 Q261.6 402.4 262.4 404.8Z" fill="url(#gb)"/>
<ellipse cx="251.35" cy="404.2" rx="3.25" ry="3.25" fill="url(#gc)"/>
<ellipse cx="257.35" cy="410.2" rx="3.25" ry="3.25" fill="url(#gc)"/>
<ellipse cx="251.35" cy="410.2" rx="2.60" ry="2.60" fill="url(#gc)"/>
<ellipse cx="256.35" cy="405.2" rx="3.90" ry="3.90" fill="url(#gb)"/>
<path d="M284.1 405.2 Q285.6 407.2 284.1 409.3 Q282.6 411.3 281.0 413.4 Q279.5 415.6 276.9 414.5 Q274.3 413.5 272.4 412.3 Q270.5 411.2 269.2 409.2 Q267.9 407.2 268.6 404.8 Q269.4 402.4 271.6 401.0 Q273.8 399.7 276.6 399.3 Q279.4 398.9 281.0 401.0 Q282.6 403.1 284.1 405.2Z" fill="url(#gp)"/>
<ellipse cx="279.0" cy="410.7" rx="3.90" ry="3.90" fill="url(#gX)"/>
<ellipse cx="272.5" cy="406.2" rx="2.86" ry="2.86" fill="url(#gc)"/>
<ellipse cx="276.5" cy="404.2" rx="2.60" ry="2.60" fill="url(#gc)"/>
<path d="M305.0 405.2 Q305.5 407.2 305.3 409.3 Q305.2 411.5 303.0 412.6 Q300.8 413.7 298.3 413.7 Q295.9 413.8 293.8 412.5 Q291.8 411.3 290.4 409.2 Q289.0 407.2 290.5 405.2 Q292.1 403.3 293.8 401.6 Q295.6 400.0 298.3 400.1 Q301.0 400.2 302.8 401.8 Q304.6 403.3 305.0 405.2Z" fill="url(#gp)"/>
<ellipse cx="298.35" cy="407.2" rx="5.20" ry="5.20" fill="url(#gb)"/>
<ellipse cx="301.35" cy="404.2" rx="2.60" ry="2.60" fill="url(#gc)"/>
<path d="M328.6 405.1 Q330.2 407.2 328.5 409.3 Q326.8 411.4 324.8 412.7 Q322.8 414.0 320.2 413.9 Q317.7 413.8 315.2 412.9 Q312.6 412.0 311.7 409.6 Q310.8 407.2 312.1 405.0 Q313.3 402.9 315.6 401.8 Q317.8 400.8 320.4 400.2 Q323.0 399.7 325.0 401.3 Q327.0 402.9 328.6 405.1Z" fill="#cfcfcf"/>
<ellipse cx="320.9" cy="409.0" rx="0.6" ry="0.6" fill="#707070" opacity="0.8"/>
<ellipse cx="324.5" cy="411.4" rx="0.7" ry="0.8" fill="#707070" opacity="0.8"/>
<ellipse cx="319.2" cy="411.0" rx="0.9" ry="1.5" fill="#707070" opacity="0.8"/>
<ellipse cx="314.7" cy="411.9" rx="0.7" ry="1.1" fill="#707070" opacity="0.8"/>
<ellipse cx="326.5" cy="409.8" rx="1.4" ry="0.9" fill="#707070" opacity="0.8"/>
<ellipse cx="326.3" cy="411.9" rx="0.8" ry="1.3" fill="#707070" opacity="0.8"/>
<ellipse cx="325.8" cy="403.9" rx="1.0" ry="1.3" fill="#707070" opacity="0.8"/>
<ellipse cx="321.2" cy="412.0" rx="1.0" ry="1.0" fill="#707070" opacity="0.8"/>
<ellipse cx="315.8" cy="404.6" rx="1.4" ry="0.8" fill="#707070" opacity="0.8"/>
<ellipse cx="324.7" cy="410.2" rx="1.6" ry="1.3" fill="#f4f4f4"/>
<ellipse cx="314.5" cy="403.4" rx="1.8" ry="2.0" fill="#f4f4f4"/>
<ellipse cx="325.5" cy="405.0" rx="1.9" ry="1.4" fill="#f4f4f4"/>
<ellipse cx="318.7" cy="411.2" rx="1.8" ry="1.7" fill="#f4f4f4"/>
<ellipse cx="317.8" cy="403.3" rx="1.2" ry="1.3" fill="#f4f4f4"/>
<ellipse cx="320.2" cy="406.2" rx="4.55" ry="4.55" fill="url(#gp)"/>
<ellipse cx="318.2" cy="410.2" rx="3.25" ry="3.25" fill="url(#gb)"/>
<ellipse cx="251.4" cy="262.8" rx="2.5" ry="2" fill="url(#gp)"/>
<ellipse cx="257.8" cy="262" rx="0.8" ry="0.8" fill="url(#gp)"/>
<ellipse cx="274.7" cy="264" rx="2.2" ry="2" fill="url(#gp)"/>
<ellipse cx="273" cy="260" rx="1.2" ry="1" fill="url(#gp)"/>
<ellipse cx="270.2" cy="263.6" rx="0.8" ry="0.8" fill="url(#gp)"/>
<ellipse cx="279.5" cy="282.5" rx="2.8" ry="2.5" fill="url(#gp)"/>
<ellipse cx="293.9" cy="260.4" rx="2.5" ry="3.2" fill="url(#gp)"/>
<ellipse cx="300.3" cy="258.8" rx="2.5" ry="2.5" fill="url(#gp)"/>
<ellipse cx="321" cy="259" rx="1.2" ry="1.2" fill="url(#gp)"/>
<ellipse cx="252.5" cy="298" rx="2" ry="1.8" fill="url(#gp)"/>
<ellipse cx="253.8" cy="286" rx="0.7" ry="0.7" fill="url(#gp)"/>
<ellipse cx="301" cy="299.4" rx="0.6" ry="0.6" fill="url(#gp)"/>
<ellipse cx="254.5" cy="335.6" rx="3.90" ry="2.34" fill="url(#gp)"/>
<ellipse cx="282" cy="332.3" rx="1.8" ry="2.8" fill="url(#gp)"/>
<ellipse cx="273.9" cy="332" rx="1" ry="1" fill="url(#gp)"/>
<ellipse cx="295.4" cy="334.4" rx="1.2" ry="1.2" fill="url(#gp)"/>
<ellipse cx="301" cy="336" rx="1.2" ry="1.2" fill="url(#gp)"/>
<ellipse cx="308.8" cy="346.7" rx="0.8" ry="0.8" fill="url(#gp)"/>
<ellipse cx="313.3" cy="338" rx="2.60" ry="2.60" fill="url(#gp)"/>
<ellipse cx="258.5" cy="358" rx="1" ry="0.8" fill="url(#gp)"/>
<ellipse cx="250.2" cy="374.4" rx="4.50" ry="4.50" fill="url(#gc)"/>
<ellipse cx="279" cy="370.3" rx="4.50" ry="6.75" fill="url(#gh)"/>
<ellipse cx="293.4" cy="370.3" rx="2.86" ry="3.64" fill="url(#gp)"/>
<ellipse cx="299.5" cy="368.9" rx="1.8" ry="1.8" fill="url(#gp)"/>
<ellipse cx="316.6" cy="371.3" rx="3.30" ry="3.30" fill="url(#gc)"/>
<ellipse cx="323" cy="372.4" rx="2.60" ry="2.60" fill="url(#gp)"/>
<line x1="265.5" x2="265.5" y1="248.9" y2="418" stroke="#e4e4e4" stroke-width="1.2"/>
<line x1="287.5" x2="287.5" y1="248.9" y2="418" stroke="#e4e4e4" stroke-width="1.2"/>
<line x1="309.2" x2="309.2" y1="248.9" y2="418" stroke="#e4e4e4" stroke-width="1.2"/>
<line x1="243.2" x2="331.2" y1="284.90" y2="284.90" stroke="#e4e4e4" stroke-width="1.2"/>
<line x1="243.2" x2="331.2" y1="321.95" y2="321.95" stroke="#e4e4e4" stroke-width="1.2"/>
<line x1="243.2" x2="331.2" y1="359.00" y2="359.00" stroke="#e4e4e4" stroke-width="1.2"/>
<line x1="243.2" x2="331.2" y1="395.45" y2="395.45" stroke="#e4e4e4" stroke-width="1.5"/>
</g>
<text x="375" y="245.6" font-size="11.7" fill="#000" text-anchor="middle" >Nanoxel-PM</text>
<clipPath id="cl336"><rect x="336.2" y="248.9" width="86.3" height="169.1"/></clipPath>
<g clip-path="url(#cl336)">
<rect x="336.2" y="248.9" width="86.3" height="146.0" fill="#171717"/>
<rect x="336.2" y="396" width="86.3" height="22.0" fill="#686868"/>
<use href="#m2" transform="translate(335.99,248.90) scale(0.977,0.989)"/>
<use href="#m2" transform="translate(358.24,248.90) scale(0.935,0.989)"/>
<use href="#m2" transform="translate(380.29,248.90) scale(0.969,0.989)"/>
<use href="#m2" transform="translate(401.53,248.90) scale(0.898,0.989)"/>
<use href="#m2" transform="translate(336.89,285.30) scale(0.934,1.006)"/>
<use href="#m2" transform="translate(358.69,285.30) scale(0.921,1.006)"/>
<use href="#m2" transform="translate(379.58,285.30) scale(0.990,1.006)"/>
<use href="#m2" transform="translate(402.00,285.30) scale(0.914,1.006)"/>
<use href="#m2" transform="translate(336.41,322.40) scale(1.009,1.006)"/>
<use href="#m2" transform="translate(358.22,322.40) scale(0.992,1.006)"/>
<use href="#m2" transform="translate(380.40,322.40) scale(0.969,1.006)"/>
<use href="#m2" transform="translate(401.83,322.40) scale(0.929,1.006)"/>
<use href="#m2" transform="translate(337.05,359.40) scale(0.945,0.986)"/>
<use href="#m2" transform="translate(357.93,359.40) scale(0.954,0.986)"/>
<use href="#m2" transform="translate(379.34,359.40) scale(1.019,0.986)"/>
<use href="#m2" transform="translate(401.93,359.40) scale(0.898,0.986)"/>
<path d="M355.0 404.6 Q355.1 407.2 354.9 409.7 Q354.7 412.3 352.0 412.9 Q349.3 413.5 346.9 414.0 Q344.5 414.5 342.3 413.2 Q340.1 411.9 339.0 409.5 Q337.9 407.2 339.3 405.1 Q340.7 402.9 342.6 401.3 Q344.4 399.7 347.2 399.2 Q350.1 398.8 352.5 400.4 Q354.9 402.0 355.0 404.6Z" fill="#cfcfcf"/>
<ellipse cx="347.9" cy="405.3" rx="1.2" ry="1.3" fill="#707070" opacity="0.8"/>
<ellipse cx="349.4" cy="409.2" rx="0.9" ry="1.2" fill="#707070" opacity="0.8"/>
<ellipse cx="345.2" cy="404.1" rx="0.7" ry="1.1" fill="#707070" opacity="0.8"/>
<ellipse cx="343.0" cy="404.7" rx="0.9" ry="0.9" fill="#707070" opacity="0.8"/>
<ellipse cx="346.1" cy="412.7" rx="1.1" ry="1.1" fill="#707070" opacity="0.8"/>
<ellipse cx="345.9" cy="407.7" rx="1.3" ry="1.1" fill="#707070" opacity="0.8"/>
<ellipse cx="347.3" cy="405.5" rx="0.8" ry="0.8" fill="#707070" opacity="0.8"/>
<ellipse cx="341.9" cy="404.7" rx="0.6" ry="1.0" fill="#707070" opacity="0.8"/>
<ellipse cx="348.0" cy="402.7" rx="1.3" ry="1.0" fill="#707070" opacity="0.8"/>
<ellipse cx="348.4" cy="406.5" rx="1.8" ry="1.7" fill="#f4f4f4"/>
<ellipse cx="343.0" cy="407.7" rx="1.3" ry="1.7" fill="#f4f4f4"/>
<ellipse cx="345.7" cy="404.5" rx="1.0" ry="2.0" fill="#f4f4f4"/>
<ellipse cx="343.0" cy="404.7" rx="1.9" ry="1.1" fill="#f4f4f4"/>
<ellipse cx="346.1" cy="406.5" rx="1.7" ry="1.8" fill="#f4f4f4"/>
<ellipse cx="343.1" cy="411.2" rx="3.90" ry="3.90" fill="url(#gc)"/>
<ellipse cx="348.1" cy="406.2" rx="1.95" ry="1.95" fill="url(#gp)"/>
<path d="M377.2 405.4 Q379.0 407.2 377.2 409.0 Q375.5 410.9 373.3 411.8 Q371.1 412.7 368.7 412.8 Q366.3 412.9 364.5 411.7 Q362.7 410.5 361.6 408.8 Q360.6 407.2 360.9 405.2 Q361.3 403.1 363.5 401.6 Q365.7 400.1 368.4 400.9 Q371.1 401.7 373.3 402.6 Q375.4 403.6 377.2 405.4Z" fill="#cfcfcf"/>
<ellipse cx="373.9" cy="408.1" rx="1.0" ry="0.7" fill="#707070" opacity="0.8"/>
<ellipse cx="362.8" cy="404.4" rx="1.2" ry="0.7" fill="#707070" opacity="0.8"/>
<ellipse cx="368.8" cy="410.4" rx="0.6" ry="0.9" fill="#707070" opacity="0.8"/>
<ellipse cx="367.6" cy="408.3" rx="1.3" ry="1.2" fill="#707070" opacity="0.8"/>
<ellipse cx="367.9" cy="405.6" rx="1.2" ry="1.0" fill="#707070" opacity="0.8"/>
<ellipse cx="374.5" cy="407.5" rx="1.1" ry="1.2" fill="#707070" opacity="0.8"/>
<ellipse cx="368.5" cy="407.1" rx="1.2" ry="1.1" fill="#707070" opacity="0.8"/>
<ellipse cx="375.4" cy="405.3" rx="1.0" ry="1.5" fill="#707070" opacity="0.8"/>
<ellipse cx="372.9" cy="407.7" rx="0.9" ry="0.8" fill="#707070" opacity="0.8"/>
<ellipse cx="367.8" cy="406.6" rx="1.4" ry="1.3" fill="#f4f4f4"/>
<ellipse cx="368.5" cy="407.8" rx="1.1" ry="1.7" fill="#f4f4f4"/>
<ellipse cx="371.1" cy="404.6" rx="1.2" ry="1.0" fill="#f4f4f4"/>
<ellipse cx="368.4" cy="408.7" rx="1.4" ry="1.6" fill="#f4f4f4"/>
<ellipse cx="370.0" cy="403.3" rx="1.1" ry="1.5" fill="#f4f4f4"/>
<ellipse cx="368.75" cy="405.7" rx="9.10" ry="5.20" fill="url(#gp)"/>
<ellipse cx="369.75" cy="405.2" rx="3.25" ry="3.25" fill="url(#gb)"/>
<path d="M398.9 405.1 Q400.6 407.2 399.4 409.6 Q398.1 412.0 395.7 413.2 Q393.2 414.4 390.6 414.2 Q388.0 413.9 386.1 412.6 Q384.2 411.2 382.7 409.2 Q381.2 407.2 382.0 404.8 Q382.7 402.3 385.3 401.2 Q387.9 400.2 390.4 400.5 Q392.9 400.9 395.0 401.9 Q397.1 403.0 398.9 405.1Z" fill="url(#gp)"/>
<ellipse cx="388.0" cy="408.7" rx="5.20" ry="5.20" fill="url(#gg)"/>
<ellipse cx="395.0" cy="403.7" rx="3.25" ry="3.25" fill="url(#gc)"/>
<path d="M419.8 405.1 Q421.4 407.2 420.6 409.8 Q419.8 412.4 417.2 413.6 Q414.6 414.7 411.8 415.3 Q408.9 416.0 407.0 413.9 Q405.1 411.8 404.8 409.5 Q404.5 407.2 405.0 405.0 Q405.5 402.8 407.2 400.6 Q408.9 398.4 411.9 398.7 Q414.9 398.9 416.6 401.0 Q418.2 403.0 419.8 405.1Z" fill="#cfcfcf"/>
<ellipse cx="409.2" cy="405.9" rx="1.0" ry="0.6" fill="#707070" opacity="0.8"/>
<ellipse cx="417.6" cy="407.6" rx="0.8" ry="0.6" fill="#707070" opacity="0.8"/>
<ellipse cx="412.9" cy="412.5" rx="1.2" ry="1.4" fill="#707070" opacity="0.8"/>
<ellipse cx="417.0" cy="409.2" rx="0.7" ry="0.9" fill="#707070" opacity="0.8"/>
<ellipse cx="413.1" cy="406.2" rx="0.8" ry="0.7" fill="#707070" opacity="0.8"/>
<ellipse cx="416.9" cy="409.3" rx="0.9" ry="1.0" fill="#707070" opacity="0.8"/>
<ellipse cx="417.0" cy="402.8" rx="1.2" ry="0.8" fill="#707070" opacity="0.8"/>
<ellipse cx="417.4" cy="410.9" rx="1.5" ry="0.9" fill="#707070" opacity="0.8"/>
<ellipse cx="412.1" cy="405.0" rx="0.9" ry="1.5" fill="#707070" opacity="0.8"/>
<ellipse cx="417.4" cy="412.4" rx="1.9" ry="1.5" fill="#f4f4f4"/>
<ellipse cx="413.8" cy="411.5" rx="1.4" ry="1.9" fill="#f4f4f4"/>
<ellipse cx="415.4" cy="404.9" rx="1.4" ry="1.7" fill="#f4f4f4"/>
<ellipse cx="408.2" cy="404.6" rx="1.2" ry="1.1" fill="#f4f4f4"/>
<ellipse cx="416.7" cy="412.5" rx="1.8" ry="1.5" fill="#f4f4f4"/>
<ellipse cx="412.5" cy="412.2" rx="3.25" ry="3.25" fill="url(#gb)"/>
<ellipse cx="344" cy="260.1" rx="2" ry="3.5" fill="url(#gp)"/>
<ellipse cx="351.3" cy="260.1" rx="1.3" ry="1.5" fill="url(#gp)"/>
<ellipse cx="365.7" cy="261.7" rx="2.8" ry="2" fill="url(#gp)"/>
<ellipse cx="388.2" cy="262.8" rx="1.5" ry="1.5" fill="url(#gp)"/>
<ellipse cx="394.6" cy="262" rx="1.5" ry="1.5" fill="url(#gp)"/>
<ellipse cx="407.4" cy="260.7" rx="2.5" ry="2.5" fill="url(#gb)"/>
<ellipse cx="415.4" cy="261.7" rx="1.5" ry="1.5" fill="url(#gp)"/>
<ellipse cx="367.3" cy="298.9" rx="1" ry="1" fill="url(#gp)"/>
<ellipse cx="409.3" cy="298" rx="0.8" ry="0.8" fill="url(#gp)"/>
<ellipse cx="414" cy="321" rx="1.2" ry="0.8" fill="url(#gp)"/>
<ellipse cx="346.3" cy="357.4" rx="1.5" ry="1" fill="url(#gp)"/>
<ellipse cx="365.8" cy="334" rx="0.8" ry="0.8" fill="url(#gp)"/>
<ellipse cx="366.9" cy="336.4" rx="1" ry="1" fill="url(#gp)"/>
<ellipse cx="384.9" cy="335.4" rx="2.86" ry="2.86" fill="url(#gp)"/>
<ellipse cx="391.5" cy="333.3" rx="1" ry="1" fill="url(#gp)"/>
<ellipse cx="409.6" cy="329.9" rx="0.8" ry="0.8" fill="url(#gp)"/>
<ellipse cx="344.3" cy="372.4" rx="3.25" ry="3.25" fill="url(#gb)"/>
<ellipse cx="363.8" cy="370.3" rx="3.25" ry="3.25" fill="url(#gb)"/>
<ellipse cx="371.6" cy="371.3" rx="2.60" ry="2.60" fill="url(#gp)"/>
<ellipse cx="384.3" cy="373" rx="2.60" ry="2.60" fill="url(#gp)"/>
<ellipse cx="392.5" cy="374.4" rx="5.25" ry="5.25" fill="url(#gg)"/>
<ellipse cx="409.6" cy="369.3" rx="1.5" ry="1.5" fill="url(#gp)"/>
<line x1="358" x2="358" y1="248.9" y2="418" stroke="#e4e4e4" stroke-width="1.2"/>
<line x1="379.5" x2="379.5" y1="248.9" y2="418" stroke="#e4e4e4" stroke-width="1.2"/>
<line x1="401.5" x2="401.5" y1="248.9" y2="418" stroke="#e4e4e4" stroke-width="1.2"/>
<line x1="336.2" x2="422.5" y1="284.90" y2="284.90" stroke="#e4e4e4" stroke-width="1.2"/>
<line x1="336.2" x2="422.5" y1="321.95" y2="321.95" stroke="#e4e4e4" stroke-width="1.2"/>
<line x1="336.2" x2="422.5" y1="359.00" y2="359.00" stroke="#e4e4e4" stroke-width="1.2"/>
<line x1="336.2" x2="422.5" y1="395.45" y2="395.45" stroke="#e4e4e4" stroke-width="1.5"/>
</g>
<text x="475" y="245.6" font-size="11.7" fill="#000" text-anchor="middle" >Rg3</text>
<clipPath id="cl428"><rect x="428.2" y="248.9" width="88.0" height="169.1"/></clipPath>
<g clip-path="url(#cl428)">
<rect x="428.2" y="248.9" width="88.0" height="146.0" fill="#171717"/>
<rect x="428.2" y="396" width="88.0" height="22.0" fill="#686868"/>
<use href="#m2" transform="translate(428.55,248.90) scale(1.009,0.989)"/>
<use href="#m2" transform="translate(450.63,248.90) scale(0.982,0.989)"/>
<use href="#m2" transform="translate(472.50,248.90) scale(0.951,0.989)"/>
<use href="#m2" transform="translate(494.46,248.90) scale(0.964,0.989)"/>
<use href="#m2" transform="translate(428.84,285.30) scale(0.972,1.006)"/>
<use href="#m2" transform="translate(450.08,285.30) scale(1.010,1.006)"/>
<use href="#m2" transform="translate(472.68,285.30) scale(1.005,1.006)"/>
<use href="#m2" transform="translate(495.12,285.30) scale(0.951,1.006)"/>
<use href="#m2" transform="translate(428.11,322.40) scale(1.020,1.006)"/>
<use href="#m2" transform="translate(451.33,322.40) scale(0.958,1.006)"/>
<use href="#m2" transform="translate(472.62,322.40) scale(0.978,1.006)"/>
<use href="#m2" transform="translate(494.16,322.40) scale(0.955,1.006)"/>
<use href="#m2" transform="translate(428.56,359.40) scale(1.007,0.986)"/>
<use href="#m2" transform="translate(450.59,359.40) scale(0.986,0.986)"/>
<use href="#m2" transform="translate(472.89,359.40) scale(0.959,0.986)"/>
<use href="#m2" transform="translate(493.81,359.40) scale(0.995,0.986)"/>
<path d="M448.2 404.8 Q449.5 407.2 448.2 409.6 Q446.8 411.9 444.6 413.8 Q442.5 415.7 439.3 415.7 Q436.1 415.8 433.7 414.1 Q431.3 412.3 430.2 409.8 Q429.0 407.2 429.8 404.4 Q430.6 401.7 433.8 401.1 Q436.9 400.6 439.8 399.4 Q442.7 398.3 444.7 400.4 Q446.8 402.5 448.2 404.8Z" fill="url(#gY)"/>
<ellipse cx="435.35" cy="404.7" rx="5.20" ry="5.20" fill="url(#gX)"/>
<ellipse cx="442.85" cy="409.2" rx="5.20" ry="5.20" fill="url(#gX)"/>
<ellipse cx="437.35" cy="410.7" rx="3.90" ry="3.90" fill="url(#gg)"/>
<ellipse cx="443.35" cy="404.2" rx="3.25" ry="3.25" fill="url(#gX)"/>
<path d="M470.3 404.6 Q471.1 407.2 470.2 409.8 Q469.2 412.4 466.5 413.2 Q463.9 414.0 461.3 414.6 Q458.7 415.2 457.0 413.3 Q455.3 411.4 453.6 409.3 Q452.0 407.2 453.3 404.9 Q454.7 402.6 456.8 401.2 Q458.9 399.7 461.5 399.9 Q464.0 400.0 466.7 400.9 Q469.4 401.9 470.3 404.6Z" fill="url(#gY)"/>
<ellipse cx="462.5" cy="409.7" rx="5.85" ry="5.85" fill="url(#gX)"/>
<ellipse cx="458.5" cy="404.2" rx="3.90" ry="3.90" fill="url(#gg)"/>
<ellipse cx="465.5" cy="404.2" rx="3.25" ry="3.25" fill="url(#gX)"/>
<ellipse cx="457.5" cy="409.2" rx="3.25" ry="3.25" fill="url(#gg)"/>
<path d="M491.3 404.8 Q492.1 407.2 490.9 409.3 Q489.7 411.4 487.9 413.2 Q486.2 415.1 483.6 414.4 Q481.1 413.8 478.5 413.0 Q476.0 412.1 475.4 409.7 Q474.8 407.2 475.4 404.8 Q476.1 402.3 478.4 401.0 Q480.7 399.6 483.6 399.2 Q486.4 398.8 488.5 400.6 Q490.6 402.4 491.3 404.8Z" fill="url(#gY)"/>
<ellipse cx="483.4" cy="406.7" rx="5.85" ry="5.85" fill="url(#gX)"/>
<ellipse cx="480.4" cy="410.7" rx="3.25" ry="3.25" fill="url(#gg)"/>
<ellipse cx="486.4" cy="410.7" rx="3.25" ry="3.25" fill="url(#gg)"/>
<path d="M513.2 404.9 Q514.0 407.2 513.3 409.5 Q512.6 411.8 510.3 413.2 Q508.0 414.7 505.4 414.3 Q502.7 414.0 500.6 412.7 Q498.5 411.4 497.0 409.3 Q495.5 407.2 496.4 404.7 Q497.4 402.2 499.7 400.5 Q502.1 398.8 505.1 399.1 Q508.2 399.5 510.3 401.1 Q512.4 402.7 513.2 404.9Z" fill="#cfcfcf"/>
<ellipse cx="503.8" cy="409.6" rx="1.2" ry="1.4" fill="#707070" opacity="0.8"/>
<ellipse cx="508.6" cy="405.9" rx="0.9" ry="0.6" fill="#707070" opacity="0.8"/>
<ellipse cx="509.0" cy="406.4" rx="1.0" ry="0.6" fill="#707070" opacity="0.8"/>
<ellipse cx="505.2" cy="411.8" rx="0.8" ry="1.3" fill="#707070" opacity="0.8"/>
<ellipse cx="508.7" cy="409.1" rx="1.1" ry="0.8" fill="#707070" opacity="0.8"/>
<ellipse cx="507.6" cy="408.2" rx="1.5" ry="1.1" fill="#707070" opacity="0.8"/>
<ellipse cx="503.3" cy="411.9" rx="1.2" ry="0.9" fill="#707070" opacity="0.8"/>
<ellipse cx="507.2" cy="403.2" rx="0.8" ry="1.4" fill="#707070" opacity="0.8"/>
<ellipse cx="504.8" cy="410.7" rx="0.8" ry="1.0" fill="#707070" opacity="0.8"/>
<ellipse cx="502.2" cy="410.2" rx="1.6" ry="1.4" fill="#f4f4f4"/>
<ellipse cx="503.9" cy="404.3" rx="1.2" ry="1.7" fill="#f4f4f4"/>
<ellipse cx="503.1" cy="403.3" rx="1.4" ry="1.5" fill="#f4f4f4"/>
<ellipse cx="510.8" cy="406.1" rx="1.4" ry="2.0" fill="#f4f4f4"/>
<ellipse cx="507.8" cy="406.8" rx="1.4" ry="1.2" fill="#f4f4f4"/>
<ellipse cx="501.25" cy="409.2" rx="4.55" ry="4.55" fill="url(#gX)"/>
<ellipse cx="507.25" cy="404.2" rx="3.90" ry="3.90" fill="url(#gb)"/>
<ellipse cx="435.3" cy="258.8" rx="1.2" ry="1.2" fill="url(#gp)"/>
<ellipse cx="442" cy="261.2" rx="2" ry="1.8" fill="url(#gp)"/>
<ellipse cx="461" cy="262" rx="3.2" ry="3" fill="url(#gp)"/>
<ellipse cx="468" cy="262.8" rx="2.2" ry="2.2" fill="url(#gp)"/>
<ellipse cx="483.4" cy="259.6" rx="1.5" ry="1.5" fill="url(#gp)"/>
<ellipse cx="503.7" cy="261.2" rx="1.5" ry="1.3" fill="url(#gp)"/>
<ellipse cx="496.2" cy="314" rx="1.2" ry="0.8" fill="url(#gp)"/>
<ellipse cx="435.2" cy="334.4" rx="3.25" ry="3.90" fill="url(#gp)"/>
<ellipse cx="444" cy="334.4" rx="3.90" ry="3.25" fill="url(#gp)"/>
<ellipse cx="462" cy="334.4" rx="1.5" ry="1.5" fill="url(#gp)"/>
<ellipse cx="478.4" cy="336" rx="4.55" ry="3.25" fill="url(#gp)"/>
<ellipse cx="487.6" cy="357" rx="5.20" ry="3.25" fill="url(#gp)"/>
<ellipse cx="506" cy="336" rx="3.90" ry="2.86" fill="url(#gp)"/>
<ellipse cx="510.2" cy="357" rx="3.90" ry="2.60" fill="url(#gp)"/>
<ellipse cx="433.2" cy="375.4" rx="3.25" ry="3.90" fill="url(#gp)"/>
<ellipse cx="442.4" cy="371.3" rx="5.25" ry="5.25" fill="url(#gy)"/>
<ellipse cx="435.2" cy="394" rx="3.90" ry="1.95" fill="url(#gp)"/>
<ellipse cx="464.6" cy="370.3" rx="4.50" ry="4.50" fill="url(#gh)"/>
<ellipse cx="484.5" cy="389.8" rx="7.80" ry="5.20" fill="url(#gb)"/>
<ellipse cx="489.7" cy="372.4" rx="3.75" ry="4.50" fill="url(#gg)"/>
<ellipse cx="481" cy="373" rx="5.70" ry="4.80" fill="url(#gh)"/>
<ellipse cx="498.9" cy="375" rx="4.50" ry="4.50" fill="url(#gg)"/>
<ellipse cx="506.5" cy="371.3" rx="4.50" ry="4.50" fill="url(#gh)"/>
<ellipse cx="505.7" cy="391.9" rx="5.20" ry="2.60" fill="url(#gp)"/>
<line x1="450.5" x2="450.5" y1="248.9" y2="418" stroke="#e4e4e4" stroke-width="1.2"/>
<line x1="472.5" x2="472.5" y1="248.9" y2="418" stroke="#e4e4e4" stroke-width="1.2"/>
<line x1="494.3" x2="494.3" y1="248.9" y2="418" stroke="#e4e4e4" stroke-width="1.2"/>
<line x1="428.2" x2="516.2" y1="284.90" y2="284.90" stroke="#e4e4e4" stroke-width="1.2"/>
<line x1="428.2" x2="516.2" y1="321.95" y2="321.95" stroke="#e4e4e4" stroke-width="1.2"/>
<line x1="428.2" x2="516.2" y1="359.00" y2="359.00" stroke="#e4e4e4" stroke-width="1.2"/>
<line x1="428.2" x2="516.2" y1="395.45" y2="395.45" stroke="#e4e4e4" stroke-width="1.5"/>
</g>
<text x="561.5" y="245.6" font-size="11.7" fill="#000" text-anchor="middle" >Rg3-Lp</text>
<clipPath id="cl520"><rect x="520" y="248.9" width="86.2" height="169.1"/></clipPath>
<g clip-path="url(#cl520)">
<rect x="520" y="248.9" width="86.2" height="146.0" fill="#171717"/>
<rect x="520" y="396" width="86.2" height="22.0" fill="#686868"/>
<use href="#m2" transform="translate(519.83,248.90) scale(0.969,0.989)"/>
<use href="#m2" transform="translate(542.53,248.90) scale(0.936,0.989)"/>
<use href="#m2" transform="translate(563.97,248.90) scale(0.945,0.989)"/>
<use href="#m2" transform="translate(585.76,248.90) scale(0.919,0.989)"/>
<use href="#m2" transform="translate(520.17,285.30) scale(0.994,1.006)"/>
<use href="#m2" transform="translate(542.00,285.30) scale(0.957,1.006)"/>
<use href="#m2" transform="translate(563.46,285.30) scale(0.948,1.006)"/>
<use href="#m2" transform="translate(585.40,285.30) scale(0.954,1.006)"/>
<use href="#m2" transform="translate(519.37,322.40) scale(1.009,1.006)"/>
<use href="#m2" transform="translate(542.63,322.40) scale(0.956,1.006)"/>
<use href="#m2" transform="translate(563.61,322.40) scale(0.985,1.006)"/>
<use href="#m2" transform="translate(585.42,322.40) scale(0.921,1.006)"/>
<use href="#m2" transform="translate(520.50,359.40) scale(0.970,0.986)"/>
<use href="#m2" transform="translate(541.89,359.40) scale(0.972,0.986)"/>
<use href="#m2" transform="translate(563.28,359.40) scale(0.969,0.986)"/>
<use href="#m2" transform="translate(585.54,359.40) scale(0.906,0.986)"/>
<path d="M539.0 404.9 Q539.8 407.2 539.2 409.6 Q538.5 412.0 536.1 413.3 Q533.7 414.6 530.9 414.5 Q528.2 414.5 525.8 413.2 Q523.3 412.0 522.8 409.6 Q522.3 407.2 522.4 404.6 Q522.6 402.0 525.5 401.3 Q528.4 400.6 530.8 400.8 Q533.2 401.1 535.7 401.8 Q538.2 402.6 539.0 404.9Z" fill="#cfcfcf"/>
<ellipse cx="533.5" cy="405.8" rx="1.0" ry="0.9" fill="#707070" opacity="0.8"/>
<ellipse cx="527.5" cy="410.6" rx="1.4" ry="0.9" fill="#707070" opacity="0.8"/>
<ellipse cx="531.8" cy="406.7" rx="0.7" ry="1.3" fill="#707070" opacity="0.8"/>
<ellipse cx="531.3" cy="412.9" rx="1.4" ry="1.4" fill="#707070" opacity="0.8"/>
<ellipse cx="527.7" cy="402.7" rx="1.3" ry="0.7" fill="#707070" opacity="0.8"/>
<ellipse cx="533.4" cy="403.5" rx="1.2" ry="0.6" fill="#707070" opacity="0.8"/>
<ellipse cx="525.4" cy="411.4" rx="1.1" ry="1.0" fill="#707070" opacity="0.8"/>
<ellipse cx="537.2" cy="410.5" rx="0.8" ry="1.2" fill="#707070" opacity="0.8"/>
<ellipse cx="529.4" cy="406.8" rx="0.9" ry="0.8" fill="#707070" opacity="0.8"/>
<ellipse cx="528.6" cy="405.0" rx="1.2" ry="1.9" fill="#f4f4f4"/>
<ellipse cx="529.5" cy="407.8" rx="1.8" ry="1.7" fill="#f4f4f4"/>
<ellipse cx="527.0" cy="411.7" rx="1.9" ry="1.8" fill="#f4f4f4"/>
<ellipse cx="529.0" cy="410.5" rx="1.6" ry="1.0" fill="#f4f4f4"/>
<ellipse cx="529.5" cy="409.2" rx="1.5" ry="1.9" fill="#f4f4f4"/>
<ellipse cx="526.9" cy="411.2" rx="2.60" ry="2.60" fill="url(#gb)"/>
<ellipse cx="533.9" cy="405.2" rx="1.95" ry="1.95" fill="url(#gp)"/>
<path d="M561.0 405.0 Q562.3 407.2 561.5 409.7 Q560.6 412.2 558.2 413.9 Q555.8 415.6 552.9 414.9 Q550.1 414.1 547.3 413.2 Q544.5 412.3 544.9 409.8 Q545.2 407.2 545.0 404.7 Q544.8 402.3 547.5 401.6 Q550.3 400.9 552.8 400.4 Q555.4 399.9 557.5 401.3 Q559.7 402.8 561.0 405.0Z" fill="url(#gp)"/>
<ellipse cx="547.65" cy="410.7" rx="4.55" ry="4.55" fill="url(#gX)"/>
<ellipse cx="553.65" cy="404.2" rx="3.25" ry="3.25" fill="url(#gc)"/>
<ellipse cx="556.65" cy="409.2" rx="3.25" ry="3.25" fill="url(#gc)"/>
<ellipse cx="550.65" cy="405.2" rx="3.25" ry="3.25" fill="url(#gb)"/>
<path d="M581.8 404.8 Q581.6 407.2 581.5 409.4 Q581.4 411.6 579.3 413.1 Q577.2 414.6 574.6 414.0 Q572.1 413.4 570.1 412.2 Q568.2 411.1 566.8 409.1 Q565.3 407.2 566.5 405.1 Q567.6 403.0 569.9 402.2 Q572.2 401.4 574.5 401.1 Q576.8 400.8 579.5 401.6 Q582.1 402.4 581.8 404.8Z" fill="#cfcfcf"/>
<ellipse cx="571.6" cy="404.9" rx="1.0" ry="1.4" fill="#707070" opacity="0.8"/>
<ellipse cx="578.3" cy="406.0" rx="1.2" ry="0.6" fill="#707070" opacity="0.8"/>
<ellipse cx="568.9" cy="405.8" rx="1.2" ry="0.7" fill="#707070" opacity="0.8"/>
<ellipse cx="568.7" cy="411.0" rx="0.8" ry="0.6" fill="#707070" opacity="0.8"/>
<ellipse cx="569.2" cy="402.7" rx="0.9" ry="1.1" fill="#707070" opacity="0.8"/>
<ellipse cx="576.4" cy="404.9" rx="1.1" ry="0.9" fill="#707070" opacity="0.8"/>
<ellipse cx="575.4" cy="403.0" rx="1.2" ry="0.6" fill="#707070" opacity="0.8"/>
<ellipse cx="579.7" cy="404.1" rx="1.1" ry="0.8" fill="#707070" opacity="0.8"/>
<ellipse cx="573.7" cy="404.7" rx="1.2" ry="1.3" fill="#707070" opacity="0.8"/>
<ellipse cx="578.1" cy="411.6" rx="1.5" ry="1.5" fill="#f4f4f4"/>
<ellipse cx="572.8" cy="405.2" rx="1.5" ry="2.0" fill="#f4f4f4"/>
<ellipse cx="569.6" cy="409.5" rx="1.3" ry="1.6" fill="#f4f4f4"/>
<ellipse cx="571.9" cy="409.2" rx="1.5" ry="1.3" fill="#f4f4f4"/>
<ellipse cx="573.8" cy="402.6" rx="1.1" ry="1.9" fill="#f4f4f4"/>
<ellipse cx="574.4" cy="408.7" rx="4.55" ry="4.55" fill="url(#gc)"/>
<path d="M603.3 404.7 Q603.4 407.2 603.0 409.5 Q602.7 411.9 600.7 413.6 Q598.6 415.4 596.0 414.6 Q593.4 413.8 590.5 413.2 Q587.6 412.7 587.7 409.9 Q587.7 407.2 587.6 404.4 Q587.5 401.7 590.3 400.6 Q593.1 399.6 595.8 399.4 Q598.6 399.2 600.9 400.7 Q603.2 402.2 603.3 404.7Z" fill="#cfcfcf"/>
<ellipse cx="590.3" cy="407.3" rx="1.3" ry="1.3" fill="#707070" opacity="0.8"/>
<ellipse cx="598.9" cy="409.4" rx="0.7" ry="1.0" fill="#707070" opacity="0.8"/>
<ellipse cx="595.9" cy="401.5" rx="1.3" ry="0.7" fill="#707070" opacity="0.8"/>
<ellipse cx="596.6" cy="404.3" rx="0.7" ry="1.5" fill="#707070" opacity="0.8"/>
<ellipse cx="597.4" cy="410.1" rx="1.1" ry="1.1" fill="#707070" opacity="0.8"/>
<ellipse cx="600.7" cy="401.8" rx="0.9" ry="0.8" fill="#707070" opacity="0.8"/>
<ellipse cx="597.0" cy="405.9" rx="1.4" ry="0.8" fill="#707070" opacity="0.8"/>
<ellipse cx="592.7" cy="412.3" rx="1.2" ry="1.0" fill="#707070" opacity="0.8"/>
<ellipse cx="594.1" cy="410.1" rx="0.7" ry="1.2" fill="#707070" opacity="0.8"/>
<ellipse cx="592.6" cy="410.4" rx="1.1" ry="1.9" fill="#f4f4f4"/>
<ellipse cx="599.9" cy="402.2" rx="1.2" ry="1.9" fill="#f4f4f4"/>
<ellipse cx="599.4" cy="405.0" rx="1.8" ry="1.6" fill="#f4f4f4"/>
<ellipse cx="592.9" cy="409.2" rx="1.4" ry="1.1" fill="#f4f4f4"/>
<ellipse cx="599.8" cy="409.5" rx="1.2" ry="1.4" fill="#f4f4f4"/>
<ellipse cx="601.75" cy="411.2" rx="3.90" ry="3.90" fill="url(#gb)"/>
<ellipse cx="534" cy="263.6" rx="2.2" ry="1.5" fill="url(#gp)"/>
<ellipse cx="531.6" cy="281.3" rx="1" ry="1" fill="url(#gp)"/>
<ellipse cx="541" cy="277.7" rx="0.8" ry="0.8" fill="url(#gp)"/>
<ellipse cx="551.3" cy="261.2" rx="2.5" ry="2.5" fill="url(#gp)"/>
<ellipse cx="558.9" cy="261.5" rx="1.5" ry="1.5" fill="url(#gp)"/>
<ellipse cx="570.9" cy="263.3" rx="2.2" ry="1.8" fill="url(#gp)"/>
<ellipse cx="574.9" cy="264.9" rx="1" ry="1" fill="url(#gp)"/>
<ellipse cx="583.4" cy="274.5" rx="1" ry="1" fill="url(#gp)"/>
<ellipse cx="577.3" cy="284.5" rx="0.8" ry="0.8" fill="url(#gp)"/>
<ellipse cx="594.6" cy="263.6" rx="2" ry="1.5" fill="url(#gb)"/>
<ellipse cx="595.7" cy="284.5" rx="2" ry="1.5" fill="url(#gp)"/>
<ellipse cx="547.6" cy="298.9" rx="0.8" ry="0.8" fill="url(#gp)"/>
<ellipse cx="554.5" cy="298.9" rx="0.8" ry="0.8" fill="url(#gp)"/>
<ellipse cx="550.9" cy="301.3" rx="0.8" ry="0.8" fill="url(#gp)"/>
<ellipse cx="544.4" cy="321" rx="2" ry="1.2" fill="url(#gp)"/>
<ellipse cx="595" cy="288" rx="0.8" ry="0.8" fill="url(#gp)"/>
<ellipse cx="599" cy="301.3" rx="0.8" ry="0.8" fill="url(#gp)"/>
<ellipse cx="595" cy="321.3" rx="1.5" ry="1" fill="url(#gp)"/>
<ellipse cx="536" cy="338" rx="1" ry="1" fill="url(#gp)"/>
<ellipse cx="523" cy="355" rx="1.2" ry="1" fill="url(#gp)"/>
<ellipse cx="547.8" cy="333.3" rx="2.60" ry="2.60" fill="url(#gp)"/>
<ellipse cx="549.8" cy="337.5" rx="2.60" ry="2.34" fill="url(#gp)"/>
<ellipse cx="555" cy="334.8" rx="1.5" ry="1.5" fill="url(#gp)"/>
<ellipse cx="571.8" cy="339.5" rx="5.25" ry="5.25" fill="url(#gc)"/>
<ellipse cx="576.5" cy="335.4" rx="1" ry="1" fill="url(#gp)"/>
<ellipse cx="599.7" cy="333.3" rx="2.60" ry="2.60" fill="url(#gp)"/>
<ellipse cx="536" cy="373" rx="2.60" ry="2.60" fill="url(#gp)"/>
<ellipse cx="550.9" cy="375.4" rx="4.50" ry="4.50" fill="url(#gc)"/>
<ellipse cx="573" cy="374.4" rx="3.90" ry="3.64" fill="url(#gb)"/>
<ellipse cx="596" cy="369.7" rx="3.90" ry="3.25" fill="url(#gb)"/>
<ellipse cx="601.2" cy="373.8" rx="4.50" ry="4.50" fill="url(#gg)"/>
<ellipse cx="593" cy="374.4" rx="1.5" ry="1.5" fill="url(#gp)"/>
<line x1="541.8" x2="541.8" y1="248.9" y2="418" stroke="#e4e4e4" stroke-width="1.2"/>
<line x1="563.5" x2="563.5" y1="248.9" y2="418" stroke="#e4e4e4" stroke-width="1.2"/>
<line x1="585.3" x2="585.3" y1="248.9" y2="418" stroke="#e4e4e4" stroke-width="1.2"/>
<line x1="520" x2="606.2" y1="284.90" y2="284.90" stroke="#e4e4e4" stroke-width="1.2"/>
<line x1="520" x2="606.2" y1="321.95" y2="321.95" stroke="#e4e4e4" stroke-width="1.2"/>
<line x1="520" x2="606.2" y1="359.00" y2="359.00" stroke="#e4e4e4" stroke-width="1.2"/>
<line x1="520" x2="606.2" y1="395.45" y2="395.45" stroke="#e4e4e4" stroke-width="1.5"/>
</g>
<text x="655.5" y="245.6" font-size="11.7" fill="#000" text-anchor="middle" >Rg3/DTX</text>
<clipPath id="cl612"><rect x="612" y="248.9" width="86.8" height="169.1"/></clipPath>
<g clip-path="url(#cl612)">
<rect x="612" y="248.9" width="86.8" height="146.0" fill="#171717"/>
<rect x="612" y="396" width="86.8" height="22.0" fill="#686868"/>
<use href="#m2" transform="translate(612.55,248.90) scale(0.952,0.989)"/>
<use href="#m2" transform="translate(633.50,248.90) scale(0.969,0.989)"/>
<use href="#m2" transform="translate(656.41,248.90) scale(0.943,0.989)"/>
<use href="#m2" transform="translate(677.13,248.90) scale(0.961,0.989)"/>
<use href="#m2" transform="translate(612.37,285.30) scale(1.001,1.006)"/>
<use href="#m2" transform="translate(633.10,285.30) scale(0.978,1.006)"/>
<use href="#m2" transform="translate(655.34,285.30) scale(0.952,1.006)"/>
<use href="#m2" transform="translate(676.98,285.30) scale(0.962,1.006)"/>
<use href="#m2" transform="translate(612.41,322.40) scale(0.999,1.006)"/>
<use href="#m2" transform="translate(633.31,322.40) scale(0.998,1.006)"/>
<use href="#m2" transform="translate(656.12,322.40) scale(0.942,1.006)"/>
<use href="#m2" transform="translate(678.09,322.40) scale(0.944,1.006)"/>
<use href="#m2" transform="translate(613.11,359.40) scale(0.933,0.986)"/>
<use href="#m2" transform="translate(634.29,359.40) scale(0.968,0.986)"/>
<use href="#m2" transform="translate(655.82,359.40) scale(0.950,0.986)"/>
<use href="#m2" transform="translate(677.18,359.40) scale(0.983,0.986)"/>
<path d="M630.8 405.0 Q631.8 407.2 631.4 409.8 Q631.1 412.4 628.3 413.5 Q625.6 414.6 622.6 415.0 Q619.7 415.4 618.1 413.3 Q616.5 411.2 614.9 409.2 Q613.3 407.2 614.3 404.9 Q615.4 402.5 617.6 400.8 Q619.7 399.0 622.6 399.6 Q625.4 400.3 627.6 401.5 Q629.9 402.7 630.8 405.0Z" fill="#cfcfcf"/>
<ellipse cx="627.0" cy="404.4" rx="0.9" ry="1.4" fill="#707070" opacity="0.8"/>
<ellipse cx="624.8" cy="407.1" rx="0.6" ry="1.3" fill="#707070" opacity="0.8"/>
<ellipse cx="621.7" cy="404.2" rx="0.9" ry="0.7" fill="#707070" opacity="0.8"/>
<ellipse cx="627.3" cy="410.6" rx="1.5" ry="1.2" fill="#707070" opacity="0.8"/>
<ellipse cx="618.3" cy="406.3" rx="1.5" ry="0.6" fill="#707070" opacity="0.8"/>
<ellipse cx="620.7" cy="403.1" rx="0.8" ry="0.8" fill="#707070" opacity="0.8"/>
<ellipse cx="624.4" cy="402.2" rx="1.4" ry="1.0" fill="#707070" opacity="0.8"/>
<ellipse cx="618.4" cy="402.6" rx="1.1" ry="0.9" fill="#707070" opacity="0.8"/>
<ellipse cx="622.8" cy="402.7" rx="0.9" ry="1.1" fill="#707070" opacity="0.8"/>
<ellipse cx="618.1" cy="407.2" rx="1.8" ry="1.6" fill="#f4f4f4"/>
<ellipse cx="618.6" cy="408.5" rx="1.1" ry="1.1" fill="#f4f4f4"/>
<ellipse cx="617.2" cy="407.5" rx="1.2" ry="1.3" fill="#f4f4f4"/>
<ellipse cx="618.5" cy="411.1" rx="1.1" ry="1.7" fill="#f4f4f4"/>
<ellipse cx="626.3" cy="406.7" rx="1.6" ry="1.3" fill="#f4f4f4"/>
<ellipse cx="627.8" cy="411.7" rx="4.55" ry="4.55" fill="url(#gX)"/>
<path d="M653.2 404.8 Q654.2 407.2 653.1 409.6 Q652.0 412.0 649.4 412.7 Q646.8 413.5 644.2 414.2 Q641.5 415.0 639.8 413.1 Q638.1 411.2 636.9 409.2 Q635.7 407.2 636.8 405.2 Q638.0 403.2 639.9 401.5 Q641.7 399.9 644.5 399.7 Q647.3 399.5 649.7 400.9 Q652.2 402.4 653.2 404.8Z" fill="#cfcfcf"/>
<ellipse cx="642.1" cy="402.1" rx="1.0" ry="1.4" fill="#707070" opacity="0.8"/>
<ellipse cx="645.1" cy="408.6" rx="1.3" ry="1.2" fill="#707070" opacity="0.8"/>
<ellipse cx="650.4" cy="412.5" rx="1.3" ry="1.3" fill="#707070" opacity="0.8"/>
<ellipse cx="639.7" cy="404.5" rx="1.2" ry="1.1" fill="#707070" opacity="0.8"/>
<ellipse cx="649.3" cy="410.4" rx="0.9" ry="0.8" fill="#707070" opacity="0.8"/>
<ellipse cx="646.6" cy="402.7" rx="1.0" ry="0.8" fill="#707070" opacity="0.8"/>
<ellipse cx="643.1" cy="409.0" rx="1.2" ry="1.2" fill="#707070" opacity="0.8"/>
<ellipse cx="638.6" cy="411.8" rx="1.2" ry="1.4" fill="#707070" opacity="0.8"/>
<ellipse cx="645.9" cy="408.9" rx="1.4" ry="1.3" fill="#707070" opacity="0.8"/>
<ellipse cx="646.0" cy="402.6" rx="1.0" ry="1.7" fill="#f4f4f4"/>
<ellipse cx="648.4" cy="406.1" rx="1.2" ry="1.4" fill="#f4f4f4"/>
<ellipse cx="648.3" cy="409.7" rx="1.1" ry="1.2" fill="#f4f4f4"/>
<ellipse cx="641.1" cy="409.6" rx="1.3" ry="1.9" fill="#f4f4f4"/>
<ellipse cx="643.4" cy="404.2" rx="1.4" ry="1.1" fill="#f4f4f4"/>
<ellipse cx="641.45" cy="402.7" rx="3.25" ry="3.25" fill="url(#gX)"/>
<ellipse cx="650.45" cy="404.2" rx="3.90" ry="3.90" fill="url(#gb)"/>
<path d="M675.8 404.7 Q676.8 407.2 674.7 409.1 Q672.7 411.0 670.9 412.7 Q669.1 414.3 666.3 414.3 Q663.5 414.2 661.6 412.6 Q659.8 411.0 658.8 409.1 Q657.7 407.2 657.6 404.6 Q657.5 402.0 660.2 400.5 Q663.0 399.1 666.0 399.6 Q669.1 400.1 671.9 401.1 Q674.7 402.1 675.8 404.7Z" fill="url(#gp)"/>
<ellipse cx="660.25" cy="411.2" rx="3.90" ry="3.90" fill="url(#gX)"/>
<ellipse cx="665.25" cy="412.2" rx="3.25" ry="3.25" fill="url(#gX)"/>
<ellipse cx="670.25" cy="402.2" rx="3.25" ry="3.25" fill="url(#gc)"/>
<ellipse cx="672.25" cy="411.2" rx="3.25" ry="3.25" fill="url(#gX)"/>
<path d="M697.1 404.7 Q698.0 407.2 697.0 409.7 Q696.0 412.2 693.5 413.6 Q690.9 415.0 688.1 414.8 Q685.2 414.7 683.0 413.2 Q680.8 411.7 679.7 409.5 Q678.5 407.2 679.6 404.9 Q680.6 402.5 682.7 400.7 Q684.8 398.8 687.7 399.7 Q690.5 400.7 693.3 401.4 Q696.1 402.1 697.1 404.7Z" fill="#cfcfcf"/>
<ellipse cx="691.4" cy="406.5" rx="1.4" ry="0.9" fill="#707070" opacity="0.8"/>
<ellipse cx="686.6" cy="408.1" rx="1.5" ry="0.8" fill="#707070" opacity="0.8"/>
<ellipse cx="692.6" cy="409.0" rx="1.4" ry="0.9" fill="#707070" opacity="0.8"/>
<ellipse cx="690.2" cy="411.7" rx="1.4" ry="1.2" fill="#707070" opacity="0.8"/>
<ellipse cx="692.5" cy="408.7" rx="1.1" ry="0.8" fill="#707070" opacity="0.8"/>
<ellipse cx="688.2" cy="412.7" rx="1.5" ry="0.6" fill="#707070" opacity="0.8"/>
<ellipse cx="685.4" cy="404.2" rx="1.4" ry="0.8" fill="#707070" opacity="0.8"/>
<ellipse cx="691.5" cy="403.7" rx="0.9" ry="1.5" fill="#707070" opacity="0.8"/>
<ellipse cx="683.0" cy="408.1" rx="0.8" ry="1.3" fill="#707070" opacity="0.8"/>
<ellipse cx="683.1" cy="409.0" rx="1.3" ry="2.0" fill="#f4f4f4"/>
<ellipse cx="686.0" cy="408.9" rx="1.0" ry="1.9" fill="#f4f4f4"/>
<ellipse cx="689.5" cy="411.3" rx="1.7" ry="1.1" fill="#f4f4f4"/>
<ellipse cx="690.8" cy="406.0" rx="1.2" ry="1.9" fill="#f4f4f4"/>
<ellipse cx="689.9" cy="405.7" rx="1.1" ry="1.6" fill="#f4f4f4"/>
<ellipse cx="691.0" cy="404.7" rx="2.86" ry="5.20" fill="url(#gX)"/>
<ellipse cx="692.0" cy="411.7" rx="2.60" ry="2.60" fill="url(#gc)"/>
<ellipse cx="622.8" cy="262.8" rx="3" ry="3.5" fill="url(#gp)"/>
<ellipse cx="643.7" cy="261.7" rx="2.5" ry="2.2" fill="url(#gp)"/>
<ellipse cx="641.3" cy="263.6" rx="1" ry="1" fill="url(#gp)"/>
<ellipse cx="669" cy="260" rx="1.5" ry="1.3" fill="url(#gp)"/>
<ellipse cx="668" cy="263.6" rx="1.3" ry="1.2" fill="url(#gp)"/>
<ellipse cx="691.4" cy="260.4" rx="1.3" ry="1.3" fill="url(#gp)"/>
<ellipse cx="692" cy="265" rx="1.3" ry="1.3" fill="url(#gp)"/>
<ellipse cx="698" cy="277" rx="1" ry="1" fill="url(#gp)"/>
<ellipse cx="647.2" cy="283.7" rx="2" ry="1" fill="url(#gp)"/>
<ellipse cx="627.3" cy="297.6" rx="0.8" ry="0.8" fill="url(#gp)"/>
<ellipse cx="691" cy="298" rx="2" ry="2.5" fill="url(#gp)"/>
<ellipse cx="617.2" cy="338" rx="2.60" ry="2.60" fill="url(#gp)"/>
<ellipse cx="625.4" cy="336.4" rx="2.60" ry="2.60" fill="url(#gp)"/>
<ellipse cx="624.4" cy="356.5" rx="4.55" ry="2.60" fill="url(#gp)"/>
<ellipse cx="642.9" cy="332.3" rx="3.25" ry="3.25" fill="url(#gp)"/>
<ellipse cx="647" cy="335.4" rx="2.60" ry="1.95" fill="url(#gp)"/>
<ellipse cx="662.4" cy="335.4" rx="1.5" ry="1.2" fill="url(#gp)"/>
<ellipse cx="664.4" cy="353.9" rx="9.10" ry="5.20" fill="url(#gb)"/>
<ellipse cx="693.8" cy="339.5" rx="2.86" ry="2.86" fill="url(#gb)"/>
<ellipse cx="690" cy="334.8" rx="1" ry="1" fill="url(#gp)"/>
<ellipse cx="687" cy="354.9" rx="7.80" ry="5.20" fill="url(#gb)"/>
<ellipse cx="621" cy="374" rx="6.75" ry="4.50" fill="url(#gy)"/>
<ellipse cx="640.8" cy="371" rx="3.00" ry="5.25" fill="url(#gc)"/>
<ellipse cx="647" cy="369.7" rx="2.60" ry="2.60" fill="url(#gp)"/>
<ellipse cx="667.5" cy="372.4" rx="3.00" ry="3.00" fill="url(#gc)"/>
<ellipse cx="665" cy="375.4" rx="3.75" ry="3.75" fill="url(#gg)"/>
<ellipse cx="691" cy="371.3" rx="5.25" ry="5.25" fill="url(#gh)"/>
<ellipse cx="681.5" cy="391.9" rx="1.5" ry="1.5" fill="url(#gp)"/>
<line x1="633.6" x2="633.6" y1="248.9" y2="418" stroke="#e4e4e4" stroke-width="1.2"/>
<line x1="655.3" x2="655.3" y1="248.9" y2="418" stroke="#e4e4e4" stroke-width="1.2"/>
<line x1="677.2" x2="677.2" y1="248.9" y2="418" stroke="#e4e4e4" stroke-width="1.2"/>
<line x1="612" x2="698.8" y1="284.90" y2="284.90" stroke="#e4e4e4" stroke-width="1.2"/>
<line x1="612" x2="698.8" y1="321.95" y2="321.95" stroke="#e4e4e4" stroke-width="1.2"/>
<line x1="612" x2="698.8" y1="359.00" y2="359.00" stroke="#e4e4e4" stroke-width="1.2"/>
<line x1="612" x2="698.8" y1="395.45" y2="395.45" stroke="#e4e4e4" stroke-width="1.5"/>
</g>
<text x="745.35" y="245.6" font-size="11.7" fill="#000" text-anchor="middle" >Rg3-Lp/DTX</text>
<clipPath id="cl705"><rect x="705.1" y="248.9" width="86.9" height="169.1"/></clipPath>
<g clip-path="url(#cl705)">
<rect x="705.1" y="248.9" width="86.9" height="146.0" fill="#171717"/>
<rect x="705.1" y="396" width="86.9" height="22.0" fill="#686868"/>
<use href="#m2" transform="translate(705.02,248.90) scale(0.950,0.989)"/>
<use href="#m2" transform="translate(726.86,248.90) scale(0.941,0.989)"/>
<use href="#m2" transform="translate(749.32,248.90) scale(0.957,0.989)"/>
<use href="#m2" transform="translate(771.49,248.90) scale(0.940,0.989)"/>
<use href="#m2" transform="translate(705.47,285.30) scale(0.990,1.006)"/>
<use href="#m2" transform="translate(727.20,285.30) scale(0.975,1.006)"/>
<use href="#m2" transform="translate(748.10,285.30) scale(1.002,1.006)"/>
<use href="#m2" transform="translate(771.20,285.30) scale(0.960,1.006)"/>
<use href="#m2" transform="translate(705.30,322.40) scale(0.938,1.006)"/>
<use href="#m2" transform="translate(726.41,322.40) scale(1.004,1.006)"/>
<use href="#m2" transform="translate(748.79,322.40) scale(0.958,1.006)"/>
<use href="#m2" transform="translate(771.15,322.40) scale(0.921,1.006)"/>
<use href="#m2" transform="translate(705.42,359.40) scale(0.993,0.986)"/>
<use href="#m2" transform="translate(727.29,359.40) scale(0.930,0.986)"/>
<use href="#m2" transform="translate(749.03,359.40) scale(1.000,0.986)"/>
<use href="#m2" transform="translate(771.28,359.40) scale(0.935,0.986)"/>
<path d="M724.1 405.3 Q726.2 407.2 724.8 409.6 Q723.5 411.9 720.9 412.7 Q718.3 413.4 715.6 414.5 Q712.8 415.6 710.6 413.8 Q708.4 412.0 708.2 409.6 Q708.0 407.2 708.0 404.7 Q707.9 402.1 710.6 400.9 Q713.2 399.7 716.0 399.6 Q718.9 399.6 720.5 401.5 Q722.1 403.4 724.1 405.3Z" fill="#cfcfcf"/>
<ellipse cx="712.2" cy="410.6" rx="0.6" ry="0.8" fill="#707070" opacity="0.8"/>
<ellipse cx="710.3" cy="408.2" rx="0.7" ry="1.3" fill="#707070" opacity="0.8"/>
<ellipse cx="715.4" cy="410.5" rx="1.4" ry="1.5" fill="#707070" opacity="0.8"/>
<ellipse cx="711.9" cy="405.6" rx="1.3" ry="0.9" fill="#707070" opacity="0.8"/>
<ellipse cx="721.8" cy="405.3" rx="1.2" ry="0.8" fill="#707070" opacity="0.8"/>
<ellipse cx="719.0" cy="404.7" rx="1.0" ry="1.3" fill="#707070" opacity="0.8"/>
<ellipse cx="720.4" cy="403.0" rx="0.8" ry="0.8" fill="#707070" opacity="0.8"/>
<ellipse cx="719.6" cy="409.2" rx="1.2" ry="1.3" fill="#707070" opacity="0.8"/>
<ellipse cx="712.5" cy="407.2" rx="0.6" ry="0.9" fill="#707070" opacity="0.8"/>
<ellipse cx="717.2" cy="404.8" rx="1.8" ry="1.2" fill="#f4f4f4"/>
<ellipse cx="715.3" cy="409.0" rx="1.2" ry="1.7" fill="#f4f4f4"/>
<ellipse cx="714.9" cy="402.7" rx="1.1" ry="1.7" fill="#f4f4f4"/>
<ellipse cx="719.7" cy="409.0" rx="1.9" ry="1.7" fill="#f4f4f4"/>
<ellipse cx="719.2" cy="410.5" rx="1.6" ry="1.5" fill="#f4f4f4"/>
<path d="M745.7 404.7 Q745.6 407.2 745.0 409.3 Q744.3 411.3 742.2 412.4 Q740.1 413.5 737.7 413.6 Q735.4 413.6 733.1 412.6 Q730.8 411.6 730.2 409.4 Q729.5 407.2 730.0 404.9 Q730.4 402.6 732.6 400.9 Q734.7 399.1 737.5 399.8 Q740.3 400.4 743.1 401.3 Q745.8 402.1 745.7 404.7Z" fill="#cfcfcf"/>
<ellipse cx="742.2" cy="403.6" rx="1.1" ry="0.8" fill="#707070" opacity="0.8"/>
<ellipse cx="731.9" cy="404.0" rx="0.8" ry="0.6" fill="#707070" opacity="0.8"/>
<ellipse cx="731.4" cy="410.7" rx="1.4" ry="1.4" fill="#707070" opacity="0.8"/>
<ellipse cx="732.1" cy="401.7" rx="1.4" ry="0.9" fill="#707070" opacity="0.8"/>
<ellipse cx="735.7" cy="409.5" rx="1.1" ry="0.9" fill="#707070" opacity="0.8"/>
<ellipse cx="733.1" cy="402.8" rx="1.2" ry="1.4" fill="#707070" opacity="0.8"/>
<ellipse cx="731.6" cy="404.0" rx="1.1" ry="0.8" fill="#707070" opacity="0.8"/>
<ellipse cx="737.6" cy="407.2" rx="0.8" ry="0.7" fill="#707070" opacity="0.8"/>
<ellipse cx="736.7" cy="410.8" rx="0.7" ry="1.1" fill="#707070" opacity="0.8"/>
<ellipse cx="741.3" cy="407.9" rx="1.3" ry="1.9" fill="#f4f4f4"/>
<ellipse cx="741.0" cy="412.1" rx="1.3" ry="1.5" fill="#f4f4f4"/>
<ellipse cx="737.2" cy="410.6" rx="1.6" ry="1.6" fill="#f4f4f4"/>
<ellipse cx="737.9" cy="411.1" rx="1.4" ry="1.1" fill="#f4f4f4"/>
<ellipse cx="734.1" cy="404.7" rx="1.1" ry="2.0" fill="#f4f4f4"/>
<ellipse cx="730.75" cy="408.2" rx="3.64" ry="3.64" fill="url(#gp)"/>
<ellipse cx="734.75" cy="410.7" rx="3.64" ry="3.64" fill="url(#gp)"/>
<ellipse cx="740.25" cy="403.2" rx="2.08" ry="2.08" fill="url(#gp)"/>
<ellipse cx="742.25" cy="410.2" rx="1.82" ry="1.82" fill="url(#gp)"/>
<path d="M768.1 404.7 Q768.6 407.2 768.0 409.7 Q767.4 412.1 764.8 413.3 Q762.2 414.4 759.5 414.5 Q756.8 414.5 754.9 412.9 Q753.0 411.3 751.3 409.3 Q749.6 407.2 751.1 405.0 Q752.6 402.8 754.7 401.5 Q756.9 400.1 759.7 399.7 Q762.5 399.3 765.0 400.7 Q767.6 402.2 768.1 404.7Z" fill="#cfcfcf"/>
<ellipse cx="766.2" cy="407.0" rx="1.0" ry="1.3" fill="#707070" opacity="0.8"/>
<ellipse cx="758.5" cy="403.8" rx="1.0" ry="0.9" fill="#707070" opacity="0.8"/>
<ellipse cx="756.3" cy="410.3" rx="0.9" ry="1.2" fill="#707070" opacity="0.8"/>
<ellipse cx="756.9" cy="402.7" rx="1.3" ry="1.3" fill="#707070" opacity="0.8"/>
<ellipse cx="762.3" cy="408.5" rx="0.8" ry="1.1" fill="#707070" opacity="0.8"/>
<ellipse cx="764.0" cy="410.5" rx="1.1" ry="1.2" fill="#707070" opacity="0.8"/>
<ellipse cx="755.2" cy="402.1" rx="1.4" ry="0.6" fill="#707070" opacity="0.8"/>
<ellipse cx="756.3" cy="406.0" rx="1.2" ry="1.2" fill="#707070" opacity="0.8"/>
<ellipse cx="764.4" cy="412.2" rx="0.8" ry="0.8" fill="#707070" opacity="0.8"/>
<ellipse cx="755.2" cy="405.5" rx="1.1" ry="2.0" fill="#f4f4f4"/>
<ellipse cx="760.4" cy="407.1" rx="1.1" ry="1.9" fill="#f4f4f4"/>
<ellipse cx="756.6" cy="409.9" rx="1.2" ry="1.3" fill="#f4f4f4"/>
<ellipse cx="755.4" cy="407.5" rx="1.3" ry="1.6" fill="#f4f4f4"/>
<ellipse cx="762.0" cy="404.5" rx="1.1" ry="1.5" fill="#f4f4f4"/>
<ellipse cx="761.55" cy="404.2" rx="5.20" ry="2.60" fill="url(#gp)"/>
<ellipse cx="763.05" cy="411.2" rx="1.56" ry="1.56" fill="url(#gp)"/>
<path d="M789.1 404.9 Q789.8 407.2 789.1 409.4 Q788.3 411.6 786.1 412.9 Q783.9 414.2 781.3 413.9 Q778.8 413.7 776.9 412.4 Q775.0 411.2 773.4 409.2 Q771.7 407.2 772.8 404.8 Q773.8 402.5 776.1 401.0 Q778.3 399.5 781.2 399.5 Q784.1 399.6 786.3 401.1 Q788.4 402.7 789.1 404.9Z" fill="#cfcfcf"/>
<ellipse cx="777.2" cy="412.0" rx="1.1" ry="1.0" fill="#707070" opacity="0.8"/>
<ellipse cx="778.1" cy="405.8" rx="1.5" ry="1.0" fill="#707070" opacity="0.8"/>
<ellipse cx="785.3" cy="402.9" rx="1.1" ry="0.8" fill="#707070" opacity="0.8"/>
<ellipse cx="777.7" cy="404.9" rx="1.0" ry="1.2" fill="#707070" opacity="0.8"/>
<ellipse cx="780.0" cy="411.4" rx="0.7" ry="1.4" fill="#707070" opacity="0.8"/>
<ellipse cx="780.4" cy="410.6" rx="1.0" ry="0.8" fill="#707070" opacity="0.8"/>
<ellipse cx="786.5" cy="408.8" rx="1.3" ry="1.1" fill="#707070" opacity="0.8"/>
<ellipse cx="784.1" cy="412.5" rx="1.3" ry="1.5" fill="#707070" opacity="0.8"/>
<ellipse cx="779.2" cy="404.9" rx="1.4" ry="1.4" fill="#707070" opacity="0.8"/>
<ellipse cx="785.7" cy="406.6" rx="1.4" ry="1.9" fill="#f4f4f4"/>
<ellipse cx="777.9" cy="403.9" rx="1.2" ry="1.3" fill="#f4f4f4"/>
<ellipse cx="780.3" cy="406.0" rx="1.5" ry="1.0" fill="#f4f4f4"/>
<ellipse cx="779.4" cy="407.3" rx="1.1" ry="1.5" fill="#f4f4f4"/>
<ellipse cx="785.9" cy="408.7" rx="1.9" ry="1.9" fill="#f4f4f4"/>
<ellipse cx="714.5" cy="261.2" rx="2.2" ry="2.2" fill="url(#gp)"/>
<ellipse cx="740.5" cy="261.2" rx="1.6" ry="2.5" fill="url(#gp)"/>
<ellipse cx="757.3" cy="261.2" rx="2" ry="2" fill="url(#gp)"/>
<ellipse cx="780.5" cy="261.2" rx="3" ry="3" fill="url(#gb)"/>
<ellipse cx="786" cy="258.8" rx="1" ry="1" fill="url(#gp)"/>
<ellipse cx="787" cy="269.2" rx="1.2" ry="1.2" fill="url(#gp)"/>
<ellipse cx="779.7" cy="270.4" rx="0.6" ry="0.6" fill="url(#gp)"/>
<ellipse cx="717.2" cy="284.5" rx="1" ry="0.8" fill="url(#gp)"/>
<ellipse cx="734.9" cy="321" rx="1.8" ry="1" fill="url(#gp)"/>
<ellipse cx="734.9" cy="332.7" rx="1" ry="1" fill="url(#gp)"/>
<ellipse cx="737.3" cy="370.3" rx="2.60" ry="3.90" fill="url(#gp)"/>
<ellipse cx="731.8" cy="373" rx="1" ry="1" fill="url(#gp)"/>
<ellipse cx="763.6" cy="370.3" rx="2.60" ry="3.90" fill="url(#gp)"/>
<ellipse cx="790.7" cy="387.8" rx="1" ry="1" fill="url(#gp)"/>
<ellipse cx="716.4" cy="394.3" rx="3.25" ry="1.95" fill="url(#gp)"/>
<ellipse cx="739" cy="395" rx="1" ry="0.8" fill="url(#gp)"/>
<line x1="726.9" x2="726.9" y1="248.9" y2="418" stroke="#e4e4e4" stroke-width="1.2"/>
<line x1="748.6" x2="748.6" y1="248.9" y2="418" stroke="#e4e4e4" stroke-width="1.2"/>
<line x1="770.5" x2="770.5" y1="248.9" y2="418" stroke="#e4e4e4" stroke-width="1.2"/>
<rect x="705.1" y="284.20" width="43.5" height="1.4" fill="#202020"/>
<line x1="748.6" x2="792" y1="284.90" y2="284.90" stroke="#e4e4e4" stroke-width="1.2"/>
<line x1="705.1" x2="792" y1="321.95" y2="321.95" stroke="#e4e4e4" stroke-width="1.2"/>
<line x1="705.1" x2="792" y1="359.00" y2="359.00" stroke="#e4e4e4" stroke-width="1.2"/>
<line x1="705.1" x2="792" y1="395.45" y2="395.45" stroke="#e4e4e4" stroke-width="1.5"/>
</g>
<text x="29.1" y="273.4" font-size="11.8" fill="#000" text-anchor="middle" >Day 0</text>
<text x="29.1" y="307.59999999999997" font-size="11.8" fill="#000" text-anchor="middle" >Day 7</text>
<text x="29.1" y="345.9" font-size="11.8" fill="#000" text-anchor="middle" >Day 14</text>
<text x="29.1" y="382.9" font-size="11.8" fill="#000" text-anchor="middle" >Day 21</text>
<text x="29.1" y="411.5" font-size="11.8" fill="#000" text-anchor="middle" >Ex Vivo</text>
<rect x="86" y="431" width="546.5" height="20" fill="url(#cbar)" stroke="#000" stroke-width="2"/>
<text x="648.6" y="432" font-size="11.5" fill="#000" text-anchor="start" >Radiance (photo/cm<tspan font-size="6.5" dy="-4.3">2</tspan><tspan dy="4.3">/s)</tspan></text>
<text x="648.6" y="445.8" font-size="11.5" fill="#000" text-anchor="start" >Min = 3×10<tspan font-size="6.5" dy="-4.3">4</tspan></text>
<text x="648.6" y="459.8" font-size="11.5" fill="#000" text-anchor="start" >Max = 2×10<tspan font-size="6.5" dy="-4.3">5</tspan></text>
</svg></body></html>
